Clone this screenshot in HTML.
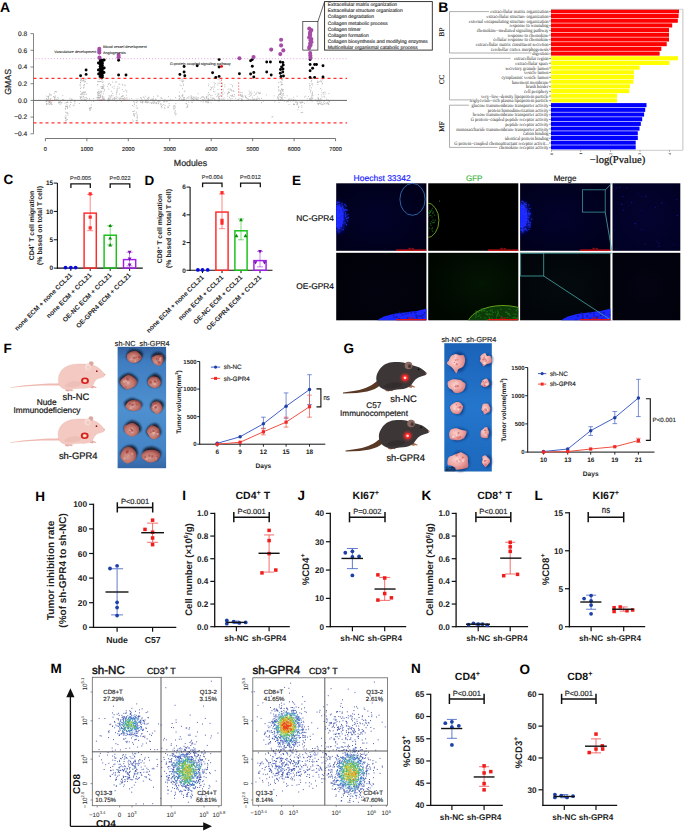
<!DOCTYPE html>
<html><head><meta charset="utf-8"><title>Figure</title>
<style>
html,body{margin:0;padding:0;background:#fff;width:685px;height:833px;overflow:hidden;}
svg{display:block;font-family:"Liberation Sans", sans-serif;}
text{text-rendering:geometricPrecision;}
</style></head><body>
<svg width="685" height="833" viewBox="0 0 685 833" font-family='"Liberation Sans", sans-serif'>
<defs>
<filter id="bl1" x="-50%" y="-50%" width="200%" height="200%"><feGaussianBlur stdDeviation="1.2"/></filter>
<filter id="bl2" x="-50%" y="-50%" width="200%" height="200%"><feGaussianBlur stdDeviation="2.2"/></filter>
<filter id="bl05" x="-50%" y="-50%" width="200%" height="200%"><feGaussianBlur stdDeviation="0.5"/></filter>
<radialGradient id="nav1" cx="0.45" cy="0.5" r="0.7"><stop offset="0" stop-color="#02022a"/><stop offset="1" stop-color="#000018"/></radialGradient>
<radialGradient id="nav3" cx="0.45" cy="0.5" r="0.7"><stop offset="0" stop-color="#02022c"/><stop offset="1" stop-color="#00001a"/></radialGradient>
<radialGradient id="nav4" cx="0.5" cy="0.5" r="0.7"><stop offset="0" stop-color="#030330"/><stop offset="1" stop-color="#010124"/></radialGradient>
<radialGradient id="nav5" cx="0.5" cy="0.6" r="0.7"><stop offset="0" stop-color="#03030f"/><stop offset="1" stop-color="#010108"/></radialGradient>
<radialGradient id="grn6" cx="0.6" cy="0.45" r="0.65"><stop offset="0" stop-color="#031503"/><stop offset="1" stop-color="#000600"/></radialGradient>
<radialGradient id="nav7" cx="0.5" cy="0.5" r="0.7"><stop offset="0" stop-color="#030a0e"/><stop offset="1" stop-color="#010408"/></radialGradient>
<radialGradient id="nav8" cx="0.5" cy="0.5" r="0.7"><stop offset="0" stop-color="#030312"/><stop offset="1" stop-color="#01010b"/></radialGradient>
<clipPath id="ct1"><rect x="336.2" y="183.3" width="90.2" height="67.5"/></clipPath>
<clipPath id="ct2"><rect x="428.2" y="183.3" width="90.1" height="67.5"/></clipPath>
<clipPath id="ct3"><rect x="520.1" y="183.3" width="90.3" height="67.5"/></clipPath>
<clipPath id="ct5"><rect x="336.2" y="252.8" width="90.2" height="67.5"/></clipPath>
<clipPath id="ct6"><rect x="428.2" y="252.8" width="90.1" height="67.5"/></clipPath>
<clipPath id="ct7"><rect x="520.1" y="252.8" width="90.3" height="67.5"/></clipPath>

<linearGradient id="bgF" x1="0" y1="0" x2="0" y2="1"><stop offset="0" stop-color="#30609f"/><stop offset="0.12" stop-color="#3f7dc0"/><stop offset="0.5" stop-color="#4e90d0"/><stop offset="0.85" stop-color="#4584c6"/><stop offset="1" stop-color="#3566a6"/></linearGradient>
<linearGradient id="bgG" x1="0" y1="0" x2="0" y2="1"><stop offset="0" stop-color="#1a62b8"/><stop offset="0.5" stop-color="#2476cc"/><stop offset="1" stop-color="#1c68bc"/></linearGradient>
<radialGradient id="tumF" cx="0.45" cy="0.6" r="0.62"><stop offset="0" stop-color="#d49a90"/><stop offset="0.6" stop-color="#bf7068"/><stop offset="1" stop-color="#8c403c"/></radialGradient>
<radialGradient id="tumG" cx="0.4" cy="0.4" r="0.65"><stop offset="0" stop-color="#fad0cc"/><stop offset="0.6" stop-color="#eca2a0"/><stop offset="1" stop-color="#d07a7c"/></radialGradient>
</defs>
<text x="0" y="11.5" font-size="14" font-weight="bold">A</text>
<line x1="33.5" y1="33.6" x2="33.5" y2="133.8" stroke="#666" stroke-width="0.8"/>
<line x1="30.5" y1="33.6" x2="33.5" y2="33.6" stroke="#666" stroke-width="0.8"/>
<text x="27.2" y="35.95" font-size="6.6" fill="#222" text-anchor="end" stroke="#222" stroke-width="0.15">0.8</text>
<line x1="30.5" y1="50.3" x2="33.5" y2="50.3" stroke="#666" stroke-width="0.8"/>
<text x="27.2" y="52.65" font-size="6.6" fill="#222" text-anchor="end" stroke="#222" stroke-width="0.15">0.6</text>
<line x1="30.5" y1="67" x2="33.5" y2="67" stroke="#666" stroke-width="0.8"/>
<text x="27.2" y="69.35" font-size="6.6" fill="#222" text-anchor="end" stroke="#222" stroke-width="0.15">0.4</text>
<line x1="30.5" y1="83.7" x2="33.5" y2="83.7" stroke="#666" stroke-width="0.8"/>
<text x="27.2" y="86.05" font-size="6.6" fill="#222" text-anchor="end" stroke="#222" stroke-width="0.15">0.2</text>
<line x1="30.5" y1="100.4" x2="33.5" y2="100.4" stroke="#666" stroke-width="0.8"/>
<text x="27.2" y="102.75" font-size="6.6" fill="#222" text-anchor="end" stroke="#222" stroke-width="0.15">0.0</text>
<line x1="30.5" y1="117.1" x2="33.5" y2="117.1" stroke="#666" stroke-width="0.8"/>
<text x="27.2" y="119.45" font-size="6.6" fill="#222" text-anchor="end" stroke="#222" stroke-width="0.15">−0.2</text>
<line x1="30.5" y1="133.8" x2="33.5" y2="133.8" stroke="#666" stroke-width="0.8"/>
<text x="27.2" y="136.15" font-size="6.6" fill="#222" text-anchor="end" stroke="#222" stroke-width="0.15">−0.4</text>
<text x="10.9" y="81.9" font-size="8.8" fill="#222" text-anchor="middle" transform="rotate(-90 10.9 81.9)" stroke="#222" stroke-width="0.2">GMAS</text>
<line x1="45.4" y1="138.5" x2="335.55" y2="138.5" stroke="#555" stroke-width="0.8"/>
<line x1="45.4" y1="138.5" x2="45.4" y2="141.2" stroke="#555" stroke-width="0.8"/>
<text x="45.4" y="151.3" font-size="5.6" fill="#222" text-anchor="middle" stroke="#222" stroke-width="0.13">0</text>
<line x1="86.85" y1="138.5" x2="86.85" y2="141.2" stroke="#555" stroke-width="0.8"/>
<text x="86.85" y="151.3" font-size="5.6" fill="#222" text-anchor="middle" stroke="#222" stroke-width="0.13">1000</text>
<line x1="128.3" y1="138.5" x2="128.3" y2="141.2" stroke="#555" stroke-width="0.8"/>
<text x="128.3" y="151.3" font-size="5.6" fill="#222" text-anchor="middle" stroke="#222" stroke-width="0.13">2000</text>
<line x1="169.75" y1="138.5" x2="169.75" y2="141.2" stroke="#555" stroke-width="0.8"/>
<text x="169.75" y="151.3" font-size="5.6" fill="#222" text-anchor="middle" stroke="#222" stroke-width="0.13">3000</text>
<line x1="211.2" y1="138.5" x2="211.2" y2="141.2" stroke="#555" stroke-width="0.8"/>
<text x="211.2" y="151.3" font-size="5.6" fill="#222" text-anchor="middle" stroke="#222" stroke-width="0.13">4000</text>
<line x1="252.65" y1="138.5" x2="252.65" y2="141.2" stroke="#555" stroke-width="0.8"/>
<text x="252.65" y="151.3" font-size="5.6" fill="#222" text-anchor="middle" stroke="#222" stroke-width="0.13">5000</text>
<line x1="294.1" y1="138.5" x2="294.1" y2="141.2" stroke="#555" stroke-width="0.8"/>
<text x="294.1" y="151.3" font-size="5.6" fill="#222" text-anchor="middle" stroke="#222" stroke-width="0.13">6000</text>
<line x1="335.55" y1="138.5" x2="335.55" y2="141.2" stroke="#555" stroke-width="0.8"/>
<text x="335.55" y="151.3" font-size="5.6" fill="#222" text-anchor="middle" stroke="#222" stroke-width="0.13">7000</text>
<text x="190.5" y="165.6" font-size="8.8" fill="#222" text-anchor="middle" stroke="#222" stroke-width="0.2">Modules</text>
<path d="M47.5 104.0h.9M49.5 104.4h.9M48.8 102.4h.9M45.9 100.9h.9M45.8 101.7h.9M46.0 104.3h.9M48.1 96.6h.9M46.3 103.6h.9M49.3 94.6h.9M49.0 102.1h.9M51.4 104.5h.9M50.7 103.1h.9M46.4 104.2h.9M47.4 96.7h.9M46.6 100.0h.9M49.4 102.3h.9M48.8 104.4h.9M45.9 103.7h.9M49.6 101.8h.9M47.4 100.0h.9M48.3 103.0h.9M50.3 98.5h.9M47.0 100.1h.9M48.7 95.8h.9M49.9 103.1h.9M51.4 104.2h.9M48.1 97.6h.9M46.5 101.1h.9M45.8 98.9h.9M50.1 100.1h.9M50.8 102.9h.9M49.7 99.9h.9M49.0 101.5h.9M50.6 94.7h.9M48.4 98.9h.9M45.9 98.4h.9M49.4 93.8h.9M50.5 103.1h.9M47.9 98.9h.9M45.7 101.4h.9M54.3 100.0h.9M53.9 93.3h.9M54.1 99.2h.9M54.9 91.7h.9M54.0 97.4h.9M55.4 91.5h.9M56.2 91.8h.9M54.6 97.7h.9M54.8 91.5h.9M56.6 99.9h.9M54.3 99.4h.9M54.5 97.0h.9M55.5 99.1h.9M53.8 97.7h.9M54.9 96.0h.9M62.8 100.1h.9M60.6 100.6h.9M61.4 102.9h.9M62.5 99.5h.9M62.4 99.4h.9M60.0 101.8h.9M58.6 100.5h.9M58.4 102.8h.9M59.1 102.6h.9M59.8 102.9h.9M58.1 102.7h.9M58.6 101.9h.9M58.2 98.9h.9M61.1 102.7h.9M59.3 102.0h.9M65.6 120.4h.9M67.1 102.2h.9M65.9 112.8h.9M64.8 120.8h.9M65.6 117.4h.9M67.0 119.6h.9M64.6 103.1h.9M66.1 119.9h.9M66.2 122.4h.9M66.1 102.5h.9M67.1 108.4h.9M65.3 115.3h.9M65.1 106.8h.9M66.1 106.7h.9M65.5 118.3h.9M67.0 102.4h.9M67.1 106.1h.9M67.0 107.5h.9M65.2 112.1h.9M65.6 122.3h.9M64.6 117.1h.9M65.3 108.5h.9M67.4 113.6h.9M67.4 102.3h.9M67.4 115.3h.9M65.2 118.2h.9M65.1 118.7h.9M66.4 104.2h.9M67.1 112.9h.9M66.5 106.3h.9M64.8 109.2h.9M67.3 106.6h.9M66.8 113.0h.9M65.1 106.5h.9M65.5 106.2h.9M74.4 103.8h.9M71.0 99.2h.9M72.9 105.7h.9M69.3 105.8h.9M74.0 100.3h.9M69.4 100.2h.9M74.4 101.6h.9M70.7 102.5h.9M69.3 107.0h.9M74.4 101.7h.9M71.7 99.3h.9M71.2 99.8h.9M73.5 105.3h.9M70.1 104.6h.9M70.0 102.2h.9M81.4 94.8h.9M80.5 81.0h.9M82.0 93.9h.9M83.6 81.2h.9M82.5 80.7h.9M83.1 92.2h.9M83.2 100.4h.9M82.6 98.9h.9M79.6 84.7h.9M80.8 93.6h.9M84.6 91.6h.9M81.8 92.5h.9M83.4 85.1h.9M80.3 91.5h.9M81.3 97.5h.9M85.0 92.8h.9M83.5 85.9h.9M85.9 94.3h.9M83.8 92.8h.9M83.1 87.9h.9M82.7 92.2h.9M82.9 79.9h.9M84.4 82.1h.9M86.1 97.8h.9M83.5 79.9h.9M85.4 99.5h.9M80.4 94.3h.9M80.1 98.1h.9M80.1 88.5h.9M85.0 81.5h.9M80.6 87.2h.9M84.2 99.4h.9M85.7 79.0h.9M81.1 79.5h.9M82.3 93.3h.9M86.5 83.6h.9M80.7 94.5h.9M83.2 96.4h.9M80.9 96.8h.9M84.6 100.4h.9M83.4 94.3h.9M79.7 96.5h.9M83.9 92.7h.9M80.0 78.4h.9M85.1 78.9h.9M80.3 97.7h.9M79.8 85.3h.9M81.4 99.5h.9M82.5 81.0h.9M85.3 97.8h.9M80.6 80.7h.9M83.5 87.6h.9M80.2 100.2h.9M84.4 94.7h.9M80.1 80.0h.9M84.0 84.6h.9M80.1 82.8h.9M80.0 82.6h.9M82.7 96.4h.9M83.4 80.4h.9M89.6 109.1h.9M90.3 108.0h.9M89.1 108.8h.9M88.9 108.4h.9M89.7 107.4h.9M91.0 107.5h.9M90.3 108.6h.9M89.8 110.2h.9M89.5 110.3h.9M90.9 104.9h.9M98.4 92.8h.9M103.6 99.7h.9M102.8 93.9h.9M100.5 81.6h.9M99.8 92.0h.9M101.9 76.1h.9M99.4 81.7h.9M102.0 88.3h.9M99.9 95.8h.9M97.4 99.4h.9M97.5 84.9h.9M98.8 99.0h.9M97.6 81.4h.9M103.1 87.2h.9M99.0 97.8h.9M99.1 93.2h.9M98.2 93.5h.9M98.9 76.9h.9M103.9 90.9h.9M98.8 76.7h.9M99.2 95.6h.9M97.1 95.0h.9M100.4 92.1h.9M98.5 92.0h.9M97.1 97.4h.9M97.7 94.6h.9M97.3 100.3h.9M99.2 98.0h.9M101.1 91.4h.9M102.3 87.6h.9M102.1 80.0h.9M99.8 96.2h.9M103.9 99.2h.9M102.1 88.0h.9M97.4 81.6h.9M103.3 88.5h.9M102.2 82.4h.9M98.0 91.5h.9M100.6 81.6h.9M102.7 81.9h.9M101.1 79.5h.9M101.8 86.5h.9M98.7 100.3h.9M98.0 95.5h.9M97.8 81.6h.9M101.0 88.5h.9M101.4 86.9h.9M100.5 100.4h.9M102.6 84.6h.9M100.6 91.2h.9M101.7 100.1h.9M102.2 97.6h.9M97.6 97.4h.9M102.2 98.4h.9M102.2 76.3h.9M100.5 95.0h.9M100.4 86.8h.9M102.4 88.8h.9M101.5 100.0h.9M98.1 97.6h.9M102.3 96.7h.9M101.0 100.4h.9M97.5 97.3h.9M101.8 86.5h.9M101.8 96.9h.9M100.7 93.1h.9M100.3 99.6h.9M103.3 98.5h.9M103.9 77.9h.9M97.2 93.2h.9M102.8 76.6h.9M100.2 97.3h.9M98.5 77.5h.9M98.5 89.9h.9M98.0 91.5h.9M103.7 99.4h.9M102.8 91.9h.9M103.3 86.1h.9M98.7 79.3h.9M100.5 100.3h.9M97.1 92.4h.9M100.2 96.7h.9M98.0 95.9h.9M99.3 81.4h.9M97.1 84.6h.9M102.9 99.6h.9M103.5 85.8h.9M103.4 96.9h.9M99.7 94.8h.9M104.0 89.7h.9M108.7 95.7h.9M108.2 100.3h.9M107.2 86.6h.9M108.3 83.9h.9M108.0 98.2h.9M109.6 99.1h.9M108.8 83.3h.9M111.9 87.2h.9M110.3 84.5h.9M112.2 93.4h.9M110.9 100.3h.9M110.9 95.3h.9M111.1 91.3h.9M108.3 100.3h.9M112.1 99.7h.9M109.4 97.1h.9M108.3 89.1h.9M112.4 98.3h.9M110.5 97.7h.9M109.9 96.3h.9M107.6 99.4h.9M107.8 84.7h.9M109.5 98.8h.9M112.0 82.1h.9M109.2 99.6h.9M107.7 100.0h.9M108.6 100.0h.9M108.0 98.3h.9M110.0 85.2h.9M111.0 95.9h.9M116.0 93.0h.9M115.8 96.7h.9M113.9 97.7h.9M119.4 99.6h.9M116.6 90.4h.9M118.7 98.6h.9M115.2 98.2h.9M115.9 94.7h.9M119.3 84.3h.9M118.8 100.4h.9M113.7 88.3h.9M118.9 94.1h.9M117.1 100.4h.9M115.9 81.9h.9M118.5 84.1h.9M119.4 98.2h.9M114.2 99.3h.9M116.7 89.1h.9M119.2 88.0h.9M117.4 86.8h.9M116.3 92.3h.9M113.8 86.3h.9M114.9 82.1h.9M117.4 97.3h.9M114.3 98.1h.9M117.4 88.6h.9M114.2 100.1h.9M116.7 91.6h.9M115.9 98.5h.9M117.2 100.4h.9M122.4 95.6h.9M126.3 92.1h.9M125.9 95.3h.9M122.0 98.6h.9M126.3 90.9h.9M122.4 100.4h.9M123.5 91.5h.9M123.1 98.5h.9M124.6 85.7h.9M121.9 100.3h.9M122.6 96.2h.9M124.6 99.1h.9M125.3 90.1h.9M123.6 99.1h.9M126.4 97.8h.9M125.5 98.8h.9M121.9 89.6h.9M122.3 85.0h.9M123.5 99.3h.9M121.9 96.3h.9M124.5 85.0h.9M121.4 96.6h.9M121.8 84.4h.9M121.4 100.3h.9M120.9 96.6h.9M136.5 102.8h.9M135.7 100.5h.9M136.7 114.4h.9M133.0 101.7h.9M135.8 120.6h.9M135.4 113.4h.9M133.9 114.4h.9M132.9 121.2h.9M133.4 113.9h.9M136.8 118.7h.9M136.9 116.9h.9M133.8 104.1h.9M136.2 112.2h.9M132.3 111.4h.9M133.9 102.1h.9M133.0 113.7h.9M136.5 120.6h.9M134.1 104.3h.9M135.9 120.4h.9M132.2 120.0h.9M136.7 115.9h.9M135.8 102.5h.9M133.7 115.6h.9M136.8 108.4h.9M133.4 106.3h.9M133.6 115.5h.9M132.1 105.5h.9M136.6 108.0h.9M136.8 120.8h.9M133.2 111.4h.9M136.8 101.4h.9M134.0 116.0h.9M134.2 111.0h.9M136.7 117.5h.9M136.1 105.9h.9M147.8 99.0h.9M145.6 101.9h.9M142.7 101.8h.9M147.4 102.8h.9M141.5 99.2h.9M142.0 102.8h.9M139.9 100.6h.9M142.8 97.2h.9M148.4 97.2h.9M142.2 102.8h.9M140.5 101.0h.9M146.6 101.3h.9M141.9 101.5h.9M145.8 99.8h.9M147.0 98.4h.9M146.2 102.7h.9M148.0 102.1h.9M145.2 101.7h.9M146.9 102.5h.9M142.0 102.3h.9M141.1 98.1h.9M145.3 101.9h.9M143.5 97.1h.9M144.6 102.3h.9M147.6 99.9h.9M149.5 102.8h.9M144.3 98.7h.9M148.0 97.8h.9M140.0 102.1h.9M140.7 102.5h.9M158.3 100.6h.9M158.0 102.2h.9M157.5 101.7h.9M152.6 98.7h.9M158.1 103.5h.9M155.3 100.2h.9M152.3 102.2h.9M151.7 103.1h.9M152.6 100.4h.9M155.8 103.2h.9M150.6 102.5h.9M156.0 103.2h.9M153.0 103.2h.9M156.9 100.9h.9M151.1 103.5h.9M153.7 100.9h.9M155.7 103.6h.9M151.9 99.5h.9M153.8 102.7h.9M153.0 96.8h.9M153.0 100.7h.9M153.4 101.9h.9M157.5 96.3h.9M153.5 103.2h.9M156.4 103.2h.9M159.6 101.2h.9M163.8 101.9h.9M163.6 101.4h.9M164.2 107.4h.9M159.7 104.1h.9M166.0 101.2h.9M160.4 103.6h.9M163.3 104.5h.9M161.0 106.4h.9M164.8 101.0h.9M160.6 104.7h.9M167.6 100.7h.9M161.5 107.7h.9M169.0 100.6h.9M164.4 108.3h.9M168.8 105.5h.9M168.6 103.6h.9M167.8 107.4h.9M167.4 106.9h.9M163.6 101.7h.9M167.8 107.2h.9M161.7 105.4h.9M164.7 105.5h.9M160.8 106.7h.9M166.8 101.3h.9M173.2 107.0h.9M175.3 114.9h.9M175.6 113.7h.9M174.8 107.2h.9M174.9 110.8h.9M174.3 106.7h.9M174.3 105.5h.9M174.4 108.8h.9M173.1 106.1h.9M174.5 111.9h.9M175.3 103.7h.9M174.4 112.7h.9M174.5 113.8h.9M173.4 109.0h.9M173.3 108.8h.9M181.6 100.3h.9M182.4 100.0h.9M183.0 85.3h.9M181.6 100.2h.9M181.6 95.6h.9M184.3 99.5h.9M183.7 78.0h.9M182.9 84.1h.9M179.7 78.5h.9M181.5 79.4h.9M184.0 99.1h.9M183.3 80.3h.9M178.9 96.2h.9M183.1 99.2h.9M183.9 97.5h.9M183.4 99.4h.9M181.6 80.7h.9M179.8 97.7h.9M181.6 96.8h.9M178.8 98.9h.9M179.5 80.1h.9M182.6 81.5h.9M179.6 85.1h.9M179.2 92.2h.9M182.4 96.0h.9M183.8 91.6h.9M182.0 81.9h.9M179.2 78.1h.9M182.3 95.3h.9M183.3 97.7h.9M184.5 91.0h.9M180.7 85.7h.9M181.2 99.0h.9M183.0 100.2h.9M183.5 97.9h.9M182.4 78.4h.9M182.1 88.7h.9M180.4 100.4h.9M178.8 99.3h.9M182.2 94.5h.9M181.6 81.5h.9M179.3 98.3h.9M182.5 100.3h.9M178.6 96.1h.9M179.2 96.1h.9M186.2 103.9h.9M187.3 107.0h.9M187.4 104.8h.9M186.0 100.9h.9M186.3 107.5h.9M185.8 103.4h.9M188.2 102.2h.9M186.8 106.5h.9M185.6 103.4h.9M187.2 105.8h.9M195.7 99.3h.9M198.0 97.9h.9M192.5 96.9h.9M190.9 98.9h.9M193.8 100.0h.9M191.0 97.6h.9M190.6 98.8h.9M198.1 100.2h.9M192.1 98.5h.9M194.6 98.3h.9M197.1 100.1h.9M193.0 99.8h.9M190.9 96.9h.9M196.8 98.0h.9M190.6 97.2h.9M196.5 99.2h.9M196.5 99.2h.9M192.4 100.3h.9M192.4 100.4h.9M193.2 97.8h.9M206.1 97.8h.9M206.2 102.1h.9M205.0 101.1h.9M206.9 100.5h.9M202.7 99.6h.9M208.3 102.3h.9M207.6 102.9h.9M202.6 102.2h.9M206.5 96.8h.9M206.5 101.8h.9M207.6 101.8h.9M202.5 97.2h.9M205.6 99.2h.9M205.9 96.4h.9M204.3 97.9h.9M206.1 97.7h.9M204.0 98.9h.9M205.1 101.9h.9M202.2 99.8h.9M201.2 97.2h.9M208.7 100.3h.9M208.4 84.1h.9M210.3 99.6h.9M207.8 100.3h.9M213.1 91.5h.9M213.1 89.1h.9M208.1 92.5h.9M210.5 87.1h.9M214.1 85.1h.9M208.1 85.8h.9M214.9 83.6h.9M208.4 98.9h.9M208.4 100.3h.9M214.3 87.2h.9M212.6 86.9h.9M212.6 97.9h.9M208.3 100.0h.9M213.6 98.9h.9M210.1 95.7h.9M207.7 98.3h.9M209.8 89.6h.9M210.5 97.4h.9M215.3 94.3h.9M214.4 91.9h.9M207.8 95.9h.9M211.0 88.2h.9M210.3 89.9h.9M211.9 98.8h.9M214.4 100.0h.9M214.1 99.3h.9M207.6 99.0h.9M213.6 82.7h.9M207.6 94.5h.9M211.5 87.6h.9M209.0 94.4h.9M219.3 83.6h.9M218.6 79.8h.9M218.8 98.5h.9M222.1 93.0h.9M217.4 89.5h.9M217.2 85.0h.9M222.1 85.0h.9M221.6 96.1h.9M219.8 95.3h.9M223.7 100.0h.9M223.7 100.3h.9M218.2 97.7h.9M223.8 92.9h.9M219.6 81.9h.9M218.4 93.9h.9M220.8 86.0h.9M222.6 89.2h.9M219.3 96.6h.9M217.8 83.2h.9M221.8 86.4h.9M217.9 94.4h.9M222.7 91.0h.9M217.6 93.8h.9M223.6 98.1h.9M218.1 97.1h.9M222.2 83.2h.9M217.8 99.2h.9M218.5 96.6h.9M220.7 99.2h.9M219.2 98.8h.9M224.4 86.8h.9M217.4 79.2h.9M217.4 95.5h.9M224.4 84.8h.9M222.4 94.5h.9M228.1 92.3h.9M227.4 99.1h.9M229.7 100.3h.9M229.7 88.9h.9M232.1 94.9h.9M231.6 95.5h.9M227.7 93.0h.9M229.8 90.1h.9M233.8 96.1h.9M231.1 89.9h.9M229.9 98.8h.9M232.3 86.8h.9M232.7 91.0h.9M233.4 91.4h.9M231.7 95.7h.9M229.1 92.5h.9M227.3 96.2h.9M232.8 90.7h.9M231.6 98.6h.9M229.9 95.7h.9M231.5 96.4h.9M232.0 85.5h.9M228.0 91.9h.9M232.8 96.7h.9M230.5 84.4h.9M226.9 94.1h.9M227.8 89.1h.9M234.1 94.5h.9M227.4 93.5h.9M230.9 90.6h.9M242.6 96.3h.9M245.2 97.5h.9M241.8 92.7h.9M240.2 95.8h.9M241.7 95.0h.9M239.5 92.3h.9M241.4 100.3h.9M240.7 98.5h.9M238.7 98.3h.9M241.9 95.7h.9M241.4 99.4h.9M240.3 95.2h.9M246.1 97.4h.9M240.3 94.5h.9M241.7 99.7h.9M239.6 94.8h.9M245.0 96.4h.9M242.3 97.1h.9M240.4 92.5h.9M241.4 96.3h.9M258.4 93.2h.9M254.2 99.0h.9M255.1 100.0h.9M258.6 98.5h.9M258.8 99.2h.9M253.1 99.3h.9M253.7 99.7h.9M248.6 94.5h.9M251.9 99.3h.9M252.2 97.3h.9M253.7 95.5h.9M256.5 98.4h.9M259.7 92.6h.9M249.2 93.0h.9M259.4 93.6h.9M250.2 92.9h.9M256.1 100.4h.9M248.7 91.1h.9M256.4 99.3h.9M249.8 100.0h.9M251.4 93.7h.9M252.7 99.9h.9M259.4 93.5h.9M250.6 92.1h.9M255.9 93.6h.9M256.6 92.0h.9M258.0 92.8h.9M250.9 94.8h.9M254.9 94.2h.9M253.8 92.2h.9M272.3 116.7h.9M271.6 116.9h.9M280.5 100.2h.9M280.4 99.3h.9M280.5 92.7h.9M280.7 81.9h.9M278.1 82.7h.9M280.4 91.1h.9M281.4 82.7h.9M279.9 94.6h.9M282.9 100.0h.9M281.2 89.1h.9M278.2 89.8h.9M281.5 79.5h.9M279.7 77.7h.9M280.6 93.1h.9M282.5 100.3h.9M281.6 89.4h.9M279.7 82.0h.9M279.9 93.3h.9M280.7 85.0h.9M279.1 94.2h.9M280.2 91.3h.9M282.2 97.1h.9M282.2 94.9h.9M280.6 97.5h.9M280.6 77.9h.9M281.3 84.3h.9M279.7 96.7h.9M279.5 90.4h.9M281.2 84.6h.9M278.3 86.5h.9M282.5 91.5h.9M278.3 97.0h.9M278.1 98.8h.9M282.7 89.8h.9M281.3 84.4h.9M282.6 89.7h.9M281.1 89.3h.9M281.5 90.2h.9M281.5 98.4h.9M281.4 93.7h.9M281.9 99.8h.9M279.0 100.3h.9M281.9 80.2h.9M281.3 95.7h.9M282.2 84.5h.9M280.9 97.7h.9M279.6 94.5h.9M279.6 94.3h.9M281.3 79.4h.9M278.3 91.0h.9M278.2 99.6h.9M282.1 90.7h.9M282.6 94.0h.9M278.1 95.3h.9M281.0 79.3h.9M283.0 93.3h.9M280.1 99.8h.9M281.3 98.4h.9M278.8 100.4h.9M278.1 87.7h.9M288.5 99.0h.9M288.3 99.9h.9M288.6 104.6h.9M293.3 104.0h.9M293.4 104.2h.9M288.0 100.7h.9M293.3 100.0h.9M293.4 104.5h.9M292.6 101.2h.9M291.2 99.3h.9M289.6 99.1h.9M293.3 104.6h.9M287.7 101.6h.9M294.1 104.5h.9M290.0 101.0h.9M295.5 101.8h.9M297.5 109.8h.9M296.8 104.7h.9M297.2 103.6h.9M295.4 102.4h.9M296.7 104.0h.9M298.3 106.2h.9M296.9 102.5h.9M300.2 102.6h.9M298.0 107.5h.9M294.9 100.7h.9M298.8 102.1h.9M296.5 104.3h.9M300.4 102.1h.9M298.2 107.3h.9M301.4 102.3h.9M301.3 105.7h.9M301.8 102.1h.9M302.2 112.4h.9M300.6 112.7h.9M301.4 107.3h.9M302.2 102.3h.9M300.6 103.2h.9M302.2 102.6h.9M301.7 112.5h.9M312.0 83.8h.9M311.3 80.2h.9M309.9 99.9h.9M310.8 84.1h.9M309.4 85.6h.9M312.3 98.1h.9M311.0 87.9h.9M310.4 98.5h.9M309.6 85.6h.9M311.7 93.7h.9M308.9 83.8h.9M311.6 98.1h.9M310.9 80.8h.9M312.1 92.1h.9M310.5 90.4h.9M309.3 98.7h.9M309.3 87.2h.9M310.0 91.0h.9M310.2 92.3h.9M309.1 100.2h.9M312.5 95.6h.9M309.0 89.2h.9M311.7 99.2h.9M310.9 96.1h.9M310.6 100.4h.9M308.7 77.4h.9M312.0 93.0h.9M310.8 97.7h.9M311.7 94.4h.9M312.3 85.1h.9M311.8 78.4h.9M309.6 100.3h.9M309.4 98.9h.9M308.9 100.2h.9M310.8 81.7h.9M319.3 81.6h.9M322.0 104.3h.9M320.1 98.9h.9M317.3 81.1h.9M318.1 94.5h.9M320.4 81.2h.9M320.6 99.0h.9M319.2 103.2h.9M322.3 79.9h.9M317.9 104.4h.9M318.1 99.9h.9M322.0 83.2h.9M321.6 104.4h.9M321.3 90.1h.9M320.4 80.1h.9M316.9 103.4h.9M321.1 81.9h.9M320.6 100.9h.9M320.1 88.5h.9M317.2 100.4h.9M318.1 103.7h.9M319.4 103.1h.9M318.0 103.5h.9M320.6 104.6h.9M320.9 102.7h.9M316.8 82.4h.9M317.9 82.1h.9M321.8 83.8h.9M317.4 97.7h.9M317.1 82.3h.9M321.6 92.7h.9M319.3 100.1h.9M321.5 96.9h.9M320.3 103.5h.9M317.9 104.3h.9M320.8 94.9h.9M317.4 84.5h.9M318.1 98.5h.9M317.5 101.5h.9M321.6 100.2h.9M323.6 100.6h.9M324.5 93.9h.9M323.2 92.5h.9M322.9 94.1h.9M326.6 103.5h.9M325.4 102.9h.9M324.1 103.6h.9M324.7 92.2h.9M328.5 93.5h.9M323.1 102.9h.9M327.9 104.4h.9M326.9 102.8h.9M328.4 104.6h.9M327.4 102.3h.9M323.4 104.6h.9M327.5 100.1h.9M323.7 101.3h.9M328.0 103.5h.9M326.0 104.0h.9M323.6 96.3h.9M247.4 98.9h.9M69.5 98.3h.9M218.0 100.8h.9M103.3 99.1h.9M219.1 100.1h.9M210.7 102.8h.9M102.2 96.0h.9M160.9 97.8h.9M250.2 95.6h.9M140.1 97.8h.9M284.5 97.5h.9M49.0 101.0h.9M304.0 103.3h.9M120.4 98.5h.9M97.6 98.2h.9M91.1 100.9h.9M150.3 99.3h.9M192.7 99.3h.9M171.6 100.2h.9M248.2 99.3h.9M277.3 97.9h.9M247.2 100.5h.9M153.2 99.1h.9M293.3 99.9h.9M316.5 101.7h.9M195.7 99.1h.9M197.7 93.7h.9M108.3 98.4h.9M96.5 97.9h.9M277.4 98.2h.9M53.1 96.5h.9M100.1 97.3h.9M49.6 101.4h.9M193.6 100.7h.9M244.8 95.8h.9M248.9 96.6h.9M57.4 97.4h.9M187.3 97.4h.9M124.2 97.6h.9M83.6 97.7h.9M213.2 98.4h.9M207.8 100.1h.9M257.3 97.1h.9M311.8 95.8h.9M155.3 102.7h.9M194.4 97.2h.9M157.3 95.8h.9M141.0 100.5h.9M113.1 100.3h.9M324.2 97.2h.9M273.8 95.9h.9M286.1 101.1h.9M59.8 104.4h.9M310.8 99.7h.9M115.6 101.8h.9M148.4 97.8h.9M195.8 97.1h.9M188.4 98.2h.9M50.5 95.6h.9M265.9 94.9h.9M311.6 101.7h.9M296.6 102.0h.9M296.7 96.2h.9M120.3 98.5h.9M237.9 99.5h.9M308.0 96.6h.9M221.6 99.2h.9M168.2 96.6h.9M315.5 99.6h.9M229.1 97.4h.9M78.9 103.5h.9M191.0 102.1h.9M121.0 101.7h.9M86.8 98.6h.9M79.9 98.0h.9M160.4 97.9h.9M126.7 99.1h.9M200.2 98.3h.9M283.9 101.2h.9M229.9 100.9h.9M101.9 99.7h.9M200.7 101.4h.9M219.2 100.9h.9M113.6 98.8h.9M107.7 101.2h.9M211.5 99.3h.9M47.9 101.6h.9M112.5 95.8h.9M203.2 100.9h.9M326.0 99.1h.9M128.8 99.0h.9M63.6 100.4h.9M292.9 99.8h.9M155.1 98.9h.9M169.9 99.2h.9M108.7 100.1h.9M318.0 99.2h.9M140.6 100.4h.9M145.0 100.5h.9M286.8 101.7h.9M278.6 102.5h.9M256.4 99.5h.9M261.1 102.8h.9M246.5 98.6h.9M305.2 96.2h.9M45.8 96.1h.9M262.8 101.3h.9M318.9 100.4h.9M207.6 102.3h.9M293.3 97.3h.9M217.6 100.8h.9M175.1 97.6h.9M250.6 99.7h.9M202.8 97.1h.9M154.1 100.8h.9M286.7 95.8h.9M186.9 100.4h.9M131.2 98.7h.9M85.9 101.6h.9M69.6 100.4h.9M306.8 100.9h.9M283.4 95.6h.9M317.8 98.5h.9M304.1 97.0h.9M47.6 96.6h.9M186.3 98.4h.9M306.8 98.8h.9M329.1 101.7h.9M192.0 102.3h.9M155.6 99.5h.9M146.5 100.8h.9M314.7 100.2h.9M237.3 100.1h.9M151.3 99.3h.9M158.8 101.7h.9M295.3 100.2h.9M319.4 101.4h.9M222.6 99.0h.9M328.4 100.6h.9M277.1 97.0h.9M93.2 101.5h.9M280.0 93.9h.9M190.6 95.7h.9M241.2 96.3h.9M278.4 94.8h.9M164.5 99.4h.9M89.1 99.8h.9M188.4 96.7h.9M98.2 97.9h.9M216.4 96.5h.9M145.2 96.2h.9M56.6 99.3h.9M161.8 98.7h.9M241.4 100.9h.9M45.7 100.5h.9M211.6 95.4h.9M235.0 98.3h.9M202.2 96.8h.9M120.4 100.7h.9M328.7 101.2h.9M208.3 100.0h.9M89.2 98.6h.9M261.0 98.4h.9M93.2 98.6h.9M193.5 97.9h.9M274.4 101.7h.9M62.3 95.6h.9M136.6 98.9h.9M248.5 99.9h.9M120.5 98.1h.9" stroke="#b4b4b4" stroke-width="0.9" fill="none"/>
<line x1="33.5" y1="100.4" x2="347" y2="100.4" stroke="#555" stroke-width="0.9"/>
<line x1="33.5" y1="78.3" x2="347" y2="78.3" stroke="#ff3030" stroke-width="1.2" stroke-dasharray="3 3"/>
<line x1="33.5" y1="122.9" x2="347" y2="122.9" stroke="#ff3030" stroke-width="1.2" stroke-dasharray="3 3"/>
<line x1="35.5" y1="58.7" x2="347" y2="58.7" stroke="#d490d4" stroke-width="0.9" stroke-dasharray="0.9 2.17"/>
<circle cx="221.5" cy="80" r="0.6" fill="#ff2020"/>
<circle cx="221.5" cy="83.2" r="0.6" fill="#ff2020"/>
<circle cx="221.5" cy="86.4" r="0.6" fill="#ff2020"/>
<circle cx="221.5" cy="89.6" r="0.6" fill="#ff2020"/>
<circle cx="221.5" cy="92.8" r="0.6" fill="#ff2020"/>
<circle cx="221.5" cy="96" r="0.6" fill="#ff2020"/>
<circle cx="238.7" cy="83" r="0.6" fill="#ff2020"/>
<circle cx="238.7" cy="86" r="0.6" fill="#ff2020"/>
<circle cx="238.7" cy="89" r="0.6" fill="#ff2020"/>
<circle cx="238.7" cy="92" r="0.6" fill="#ff2020"/>
<circle cx="238.7" cy="95" r="0.6" fill="#ff2020"/>
<circle cx="221.5" cy="66.5" r="0.6" fill="#ff2020"/>
<circle cx="101" cy="100.5" r="0.6" fill="#ff2020"/>
<circle cx="125" cy="100.5" r="0.6" fill="#ff2020"/>
<circle cx="52" cy="100.7" r="0.6" fill="#ff2020"/>
<circle cx="221.6" cy="66.4" r="1.4" fill="#ff1010"/>
<circle cx="80.6" cy="75.7" r="1.45" fill="#000"/>
<circle cx="86.1" cy="70" r="1.45" fill="#000"/>
<circle cx="86.1" cy="74.4" r="1.45" fill="#000"/>
<circle cx="118.6" cy="60.3" r="1.45" fill="#000"/>
<circle cx="118.6" cy="75" r="1.45" fill="#000"/>
<circle cx="126" cy="75" r="1.45" fill="#000"/>
<circle cx="179.9" cy="74.4" r="1.45" fill="#000"/>
<circle cx="184.1" cy="66.5" r="1.45" fill="#000"/>
<circle cx="184.1" cy="72" r="1.45" fill="#000"/>
<circle cx="184.8" cy="75.7" r="1.45" fill="#000"/>
<circle cx="197.2" cy="65.8" r="1.45" fill="#000"/>
<circle cx="212.6" cy="72.7" r="1.45" fill="#000"/>
<circle cx="219.1" cy="59.6" r="1.45" fill="#000"/>
<circle cx="219.1" cy="67" r="1.45" fill="#000"/>
<circle cx="219.1" cy="76.4" r="1.45" fill="#000"/>
<circle cx="215.8" cy="77.4" r="1.45" fill="#000"/>
<circle cx="239.4" cy="73.7" r="1.45" fill="#000"/>
<circle cx="250.6" cy="60.8" r="1.45" fill="#000"/>
<circle cx="252.3" cy="59.6" r="1.45" fill="#000"/>
<circle cx="252.3" cy="66.3" r="1.45" fill="#000"/>
<circle cx="250.6" cy="74" r="1.45" fill="#000"/>
<circle cx="253.8" cy="72.5" r="1.45" fill="#000"/>
<circle cx="253.8" cy="77" r="1.45" fill="#000"/>
<circle cx="266.7" cy="62" r="1.45" fill="#000"/>
<circle cx="270.4" cy="62" r="1.45" fill="#000"/>
<circle cx="266.7" cy="72" r="1.45" fill="#000"/>
<circle cx="271.2" cy="75" r="1.45" fill="#000"/>
<circle cx="280.3" cy="62" r="1.45" fill="#000"/>
<circle cx="281.6" cy="67" r="1.45" fill="#000"/>
<circle cx="280.3" cy="73.2" r="1.45" fill="#000"/>
<circle cx="282.8" cy="72" r="1.45" fill="#000"/>
<circle cx="282.8" cy="62.5" r="1.45" fill="#000"/>
<circle cx="283.3" cy="65" r="1.45" fill="#000"/>
<circle cx="280.5" cy="69.5" r="1.45" fill="#000"/>
<circle cx="283" cy="69" r="1.45" fill="#000"/>
<circle cx="281" cy="76.5" r="1.45" fill="#000"/>
<circle cx="283.5" cy="76" r="1.45" fill="#000"/>
<circle cx="310.1" cy="59.6" r="1.45" fill="#000"/>
<circle cx="310.1" cy="64.5" r="1.45" fill="#000"/>
<circle cx="314.6" cy="64.5" r="1.45" fill="#000"/>
<circle cx="312.6" cy="68.2" r="1.45" fill="#000"/>
<circle cx="310.1" cy="70.7" r="1.45" fill="#000"/>
<circle cx="310.1" cy="77.4" r="1.45" fill="#000"/>
<circle cx="314.6" cy="77.4" r="1.45" fill="#000"/>
<circle cx="316.5" cy="64.5" r="1.45" fill="#000"/>
<circle cx="323" cy="65.8" r="1.45" fill="#000"/>
<circle cx="323" cy="76.9" r="1.45" fill="#000"/>
<circle cx="100.2" cy="59.5" r="1.45" fill="#000"/>
<circle cx="102.3" cy="60.2" r="1.45" fill="#000"/>
<circle cx="100.2" cy="61" r="1.45" fill="#000"/>
<circle cx="102.3" cy="61.7" r="1.45" fill="#000"/>
<circle cx="100.2" cy="62.5" r="1.45" fill="#000"/>
<circle cx="102.3" cy="63.2" r="1.45" fill="#000"/>
<circle cx="100.2" cy="64.5" r="1.45" fill="#000"/>
<circle cx="102.3" cy="65.2" r="1.45" fill="#000"/>
<circle cx="100.2" cy="66.5" r="1.45" fill="#000"/>
<circle cx="102.3" cy="67.2" r="1.45" fill="#000"/>
<circle cx="100.2" cy="68.5" r="1.45" fill="#000"/>
<circle cx="102.3" cy="69.2" r="1.45" fill="#000"/>
<circle cx="100.2" cy="70.5" r="1.45" fill="#000"/>
<circle cx="102.3" cy="71.2" r="1.45" fill="#000"/>
<circle cx="100.2" cy="72.5" r="1.45" fill="#000"/>
<circle cx="102.3" cy="73.2" r="1.45" fill="#000"/>
<circle cx="100.2" cy="74.5" r="1.45" fill="#000"/>
<circle cx="102.3" cy="75.2" r="1.45" fill="#000"/>
<circle cx="100.2" cy="76.5" r="1.45" fill="#000"/>
<circle cx="102.3" cy="77.2" r="1.45" fill="#000"/>
<circle cx="98.4" cy="63" r="1.45" fill="#000"/>
<circle cx="98.4" cy="70" r="1.45" fill="#000"/>
<circle cx="98.6" cy="74" r="1.45" fill="#000"/>
<circle cx="104.2" cy="60" r="1.45" fill="#000"/>
<circle cx="104.2" cy="68" r="1.45" fill="#000"/>
<circle cx="104" cy="72.5" r="1.45" fill="#000"/>
<circle cx="99.3" cy="48.9" r="2.05" fill="#a64ca6"/>
<circle cx="99.3" cy="50.8" r="2.05" fill="#a64ca6"/>
<circle cx="99.3" cy="52.6" r="2.05" fill="#a64ca6"/>
<circle cx="99.5" cy="57.6" r="2.05" fill="#a64ca6"/>
<circle cx="118.6" cy="55" r="2.05" fill="#a64ca6"/>
<circle cx="118.6" cy="57.2" r="2.05" fill="#a64ca6"/>
<circle cx="239.4" cy="58.3" r="2.05" fill="#a64ca6"/>
<circle cx="253.5" cy="57.1" r="2.05" fill="#a64ca6"/>
<circle cx="271.2" cy="49.6" r="2.05" fill="#a64ca6"/>
<circle cx="281.1" cy="39.7" r="2.05" fill="#a64ca6"/>
<circle cx="281.1" cy="45.4" r="2.05" fill="#a64ca6"/>
<circle cx="283.3" cy="50.4" r="2.05" fill="#a64ca6"/>
<circle cx="280.3" cy="54.1" r="2.05" fill="#a64ca6"/>
<circle cx="309.26" cy="28.5" r="2.05" fill="#a64ca6"/>
<circle cx="311.35" cy="30" r="2.05" fill="#a64ca6"/>
<circle cx="310.51" cy="31.5" r="2.05" fill="#a64ca6"/>
<circle cx="309.91" cy="33" r="2.05" fill="#a64ca6"/>
<circle cx="310.17" cy="34.5" r="2.05" fill="#a64ca6"/>
<circle cx="310" cy="36" r="2.05" fill="#a64ca6"/>
<circle cx="309.14" cy="37.5" r="2.05" fill="#a64ca6"/>
<circle cx="311.32" cy="39" r="2.05" fill="#a64ca6"/>
<circle cx="310.51" cy="40.5" r="2.05" fill="#a64ca6"/>
<circle cx="311.49" cy="42" r="2.05" fill="#a64ca6"/>
<circle cx="310.14" cy="43.5" r="2.05" fill="#a64ca6"/>
<circle cx="310.61" cy="45" r="2.05" fill="#a64ca6"/>
<circle cx="309.65" cy="46.5" r="2.05" fill="#a64ca6"/>
<circle cx="309.11" cy="48" r="2.05" fill="#a64ca6"/>
<circle cx="310.2" cy="53" r="2.05" fill="#a64ca6"/>
<circle cx="310.3" cy="55.5" r="2.05" fill="#a64ca6"/>
<circle cx="310.5" cy="57.8" r="2.05" fill="#a64ca6"/>
<text x="96.4" y="52.7" font-size="3.75" fill="#222" text-anchor="end" stroke="#222" stroke-width="0.08">Vasculature development</text>
<text x="103" y="48" font-size="3.75" fill="#222" stroke="#222" stroke-width="0.08">Blood vessel development</text>
<text x="103" y="53.7" font-size="3.75" fill="#222" stroke="#222" stroke-width="0.08">Angiogenesis</text>
<text x="170" y="64.6" font-size="3.75" fill="#222" stroke="#222" stroke-width="0.08">G-protein coupled signaling pathway</text>
<rect x="302.8" y="21.5" width="15.1" height="28.6" fill="none" stroke="#222" stroke-width="0.7"/>
<line x1="317.9" y1="21.5" x2="324.6" y2="1.6" stroke="#222" stroke-width="0.7"/>
<rect x="324.6" y="1.6" width="107.7" height="48.5" fill="white" stroke="#222" stroke-width="0.9"/>
<text x="327.7" y="6.3" font-size="4.88" fill="#222" stroke="#222" stroke-width="0.11">Extracellular matrix organization</text>
<text x="327.7" y="12.37" font-size="4.88" fill="#222" stroke="#222" stroke-width="0.11">Extracellular structure organization</text>
<text x="327.7" y="18.44" font-size="4.88" fill="#222" stroke="#222" stroke-width="0.11">Collagen degradation</text>
<text x="327.7" y="24.51" font-size="4.88" fill="#222" stroke="#222" stroke-width="0.11">Collagen metabolic process</text>
<text x="327.7" y="30.58" font-size="4.88" fill="#222" stroke="#222" stroke-width="0.11">Collagen trimer</text>
<text x="327.7" y="36.65" font-size="4.88" fill="#222" stroke="#222" stroke-width="0.11">Collagen formation</text>
<text x="327.7" y="42.72" font-size="4.88" fill="#222" stroke="#222" stroke-width="0.11">Collagen biosynthesis and modifying enzymes</text>
<text x="327.7" y="48.79" font-size="4.88" fill="#222" stroke="#222" stroke-width="0.11">Multicellular organismal catabolic process</text>
<text x="438.3" y="11.6" font-size="14" font-weight="bold">B</text>
<rect x="551" y="9.3" width="128" height="4.09" fill="#ff0000"/>
<text x="548.6" y="13.25" font-size="5" font-family='"Liberation Serif", serif' fill="#222" text-anchor="end" stroke-width="0" textLength="58.24" lengthAdjust="spacingAndGlyphs">extracellular matrix organization</text>
<line x1="549" y1="11.65" x2="551" y2="11.65" stroke="#333" stroke-width="0.5"/>
<rect x="551" y="13.99" width="127.6" height="4.09" fill="#ff0000"/>
<text x="548.6" y="17.94" font-size="5" font-family='"Liberation Serif", serif' fill="#222" text-anchor="end" stroke-width="0" textLength="62.19" lengthAdjust="spacingAndGlyphs">extracellular structure organization</text>
<line x1="549" y1="16.34" x2="551" y2="16.34" stroke="#333" stroke-width="0.5"/>
<rect x="551" y="18.68" width="126.8" height="4.09" fill="#ff0000"/>
<text x="548.6" y="22.62" font-size="5" font-family='"Liberation Serif", serif' fill="#222" text-anchor="end" stroke-width="0" textLength="79.86" lengthAdjust="spacingAndGlyphs">external encapsulating structure organization</text>
<line x1="549" y1="21.02" x2="551" y2="21.02" stroke="#333" stroke-width="0.5"/>
<rect x="551" y="23.37" width="121.2" height="4.09" fill="#ff0000"/>
<text x="548.6" y="27.32" font-size="5" font-family='"Liberation Serif", serif' fill="#222" text-anchor="end" stroke-width="0" textLength="39.06" lengthAdjust="spacingAndGlyphs">response to wounding</text>
<line x1="549" y1="25.71" x2="551" y2="25.71" stroke="#333" stroke-width="0.5"/>
<rect x="551" y="28.06" width="118" height="4.09" fill="#ff0000"/>
<text x="548.6" y="32.01" font-size="5" font-family='"Liberation Serif", serif' fill="#222" text-anchor="end" stroke-width="0" textLength="71.96" lengthAdjust="spacingAndGlyphs">chemokine−mediated signaling pathway</text>
<line x1="549" y1="30.41" x2="551" y2="30.41" stroke="#333" stroke-width="0.5"/>
<rect x="551" y="32.75" width="118" height="4.09" fill="#ff0000"/>
<text x="548.6" y="36.7" font-size="5" font-family='"Liberation Serif", serif' fill="#222" text-anchor="end" stroke-width="0" textLength="40.78" lengthAdjust="spacingAndGlyphs">response to chemokine</text>
<line x1="549" y1="35.09" x2="551" y2="35.09" stroke="#333" stroke-width="0.5"/>
<rect x="551" y="37.44" width="118" height="4.09" fill="#ff0000"/>
<text x="548.6" y="41.38" font-size="5" font-family='"Liberation Serif", serif' fill="#222" text-anchor="end" stroke-width="0" textLength="55.23" lengthAdjust="spacingAndGlyphs">cellular response to chemokine</text>
<line x1="549" y1="39.78" x2="551" y2="39.78" stroke="#333" stroke-width="0.5"/>
<rect x="551" y="42.13" width="115.7" height="4.09" fill="#ff0000"/>
<text x="548.6" y="46.08" font-size="5" font-family='"Liberation Serif", serif' fill="#222" text-anchor="end" stroke-width="0" textLength="72.78" lengthAdjust="spacingAndGlyphs">extracellular matrix constituent secretion</text>
<line x1="549" y1="44.48" x2="551" y2="44.48" stroke="#333" stroke-width="0.5"/>
<rect x="551" y="46.82" width="110.3" height="4.09" fill="#ff0000"/>
<text x="548.6" y="50.77" font-size="5" font-family='"Liberation Serif", serif' fill="#222" text-anchor="end" stroke-width="0" textLength="57.82" lengthAdjust="spacingAndGlyphs">cerebellar cortex morphogenesis</text>
<line x1="549" y1="49.17" x2="551" y2="49.17" stroke="#333" stroke-width="0.5"/>
<rect x="551" y="51.51" width="108.6" height="4.09" fill="#ff0000"/>
<text x="548.6" y="55.46" font-size="5" font-family='"Liberation Serif", serif' fill="#222" text-anchor="end" stroke-width="0" textLength="16.32" lengthAdjust="spacingAndGlyphs">digestion</text>
<line x1="549" y1="53.86" x2="551" y2="53.86" stroke="#333" stroke-width="0.5"/>
<rect x="551" y="56.2" width="127" height="4.09" fill="#ffff00"/>
<text x="548.6" y="60.15" font-size="5" font-family='"Liberation Serif", serif' fill="#222" text-anchor="end" stroke-width="0" textLength="34.72" lengthAdjust="spacingAndGlyphs">extracellular region</text>
<line x1="549" y1="58.55" x2="551" y2="58.55" stroke="#333" stroke-width="0.5"/>
<rect x="551" y="60.89" width="118.4" height="4.09" fill="#ffff00"/>
<text x="548.6" y="64.83" font-size="5" font-family='"Liberation Serif", serif' fill="#222" text-anchor="end" stroke-width="0" textLength="33.23" lengthAdjust="spacingAndGlyphs">extracellular space</text>
<line x1="549" y1="63.23" x2="551" y2="63.23" stroke="#333" stroke-width="0.5"/>
<rect x="551" y="65.58" width="88.6" height="4.09" fill="#ffff00"/>
<text x="548.6" y="69.52" font-size="5" font-family='"Liberation Serif", serif' fill="#222" text-anchor="end" stroke-width="0" textLength="43" lengthAdjust="spacingAndGlyphs">secretory granule lumen</text>
<line x1="549" y1="67.92" x2="551" y2="67.92" stroke="#333" stroke-width="0.5"/>
<rect x="551" y="70.27" width="83" height="4.09" fill="#ffff00"/>
<text x="548.6" y="74.22" font-size="5" font-family='"Liberation Serif", serif' fill="#222" text-anchor="end" stroke-width="0" textLength="24.59" lengthAdjust="spacingAndGlyphs">vesicle lumen</text>
<line x1="549" y1="72.62" x2="551" y2="72.62" stroke="#333" stroke-width="0.5"/>
<rect x="551" y="74.96" width="83" height="4.09" fill="#ffff00"/>
<text x="548.6" y="78.91" font-size="5" font-family='"Liberation Serif", serif' fill="#222" text-anchor="end" stroke-width="0" textLength="47.21" lengthAdjust="spacingAndGlyphs">cytoplasmic vesicle lumen</text>
<line x1="549" y1="77.31" x2="551" y2="77.31" stroke="#333" stroke-width="0.5"/>
<rect x="551" y="79.65" width="82.3" height="4.09" fill="#ffff00"/>
<text x="548.6" y="83.59" font-size="5" font-family='"Liberation Serif", serif' fill="#222" text-anchor="end" stroke-width="0" textLength="36.7" lengthAdjust="spacingAndGlyphs">basement membrane</text>
<line x1="549" y1="82" x2="551" y2="82" stroke="#333" stroke-width="0.5"/>
<rect x="551" y="84.34" width="79" height="4.09" fill="#ffff00"/>
<text x="548.6" y="88.28" font-size="5" font-family='"Liberation Serif", serif' fill="#222" text-anchor="end" stroke-width="0" textLength="22.62" lengthAdjust="spacingAndGlyphs">brush border</text>
<line x1="549" y1="86.69" x2="551" y2="86.69" stroke="#333" stroke-width="0.5"/>
<rect x="551" y="89.03" width="78.2" height="4.09" fill="#ffff00"/>
<text x="548.6" y="92.97" font-size="5" font-family='"Liberation Serif", serif' fill="#222" text-anchor="end" stroke-width="0" textLength="24.59" lengthAdjust="spacingAndGlyphs">cell periphery</text>
<line x1="549" y1="91.38" x2="551" y2="91.38" stroke="#333" stroke-width="0.5"/>
<rect x="551" y="93.72" width="66" height="4.09" fill="#ffff00"/>
<text x="548.6" y="97.66" font-size="5" font-family='"Liberation Serif", serif' fill="#222" text-anchor="end" stroke-width="0" textLength="67.55" lengthAdjust="spacingAndGlyphs">very−low−density lipoprotein particle</text>
<line x1="549" y1="96.06" x2="551" y2="96.06" stroke="#333" stroke-width="0.5"/>
<rect x="551" y="98.41" width="66" height="4.09" fill="#ffff00"/>
<text x="548.6" y="102.36" font-size="5" font-family='"Liberation Serif", serif' fill="#222" text-anchor="end" stroke-width="0" textLength="78.75" lengthAdjust="spacingAndGlyphs">triglyceride−rich plasma lipoprotein particle</text>
<line x1="549" y1="100.76" x2="551" y2="100.76" stroke="#333" stroke-width="0.5"/>
<rect x="551" y="103.1" width="95.5" height="4.09" fill="#0000ff"/>
<text x="548.6" y="107.05" font-size="5" font-family='"Liberation Serif", serif' fill="#222" text-anchor="end" stroke-width="0" textLength="76.98" lengthAdjust="spacingAndGlyphs">glucose transmembrane transporter activity</text>
<line x1="549" y1="105.45" x2="551" y2="105.45" stroke="#333" stroke-width="0.5"/>
<rect x="551" y="107.79" width="94.2" height="4.09" fill="#0000ff"/>
<text x="548.6" y="111.73" font-size="5" font-family='"Liberation Serif", serif' fill="#222" text-anchor="end" stroke-width="0" textLength="60.8" lengthAdjust="spacingAndGlyphs">protein homodimerization activity</text>
<line x1="549" y1="110.14" x2="551" y2="110.14" stroke="#333" stroke-width="0.5"/>
<rect x="551" y="112.48" width="93.1" height="4.09" fill="#0000ff"/>
<text x="548.6" y="116.42" font-size="5" font-family='"Liberation Serif", serif' fill="#222" text-anchor="end" stroke-width="0" textLength="75.75" lengthAdjust="spacingAndGlyphs">hexose transmembrane transporter activity</text>
<line x1="549" y1="114.83" x2="551" y2="114.83" stroke="#333" stroke-width="0.5"/>
<rect x="551" y="117.17" width="91.2" height="4.09" fill="#0000ff"/>
<text x="548.6" y="121.11" font-size="5" font-family='"Liberation Serif", serif' fill="#222" text-anchor="end" stroke-width="0" textLength="77.88" lengthAdjust="spacingAndGlyphs">G protein−coupled peptide receptor activity</text>
<line x1="549" y1="119.52" x2="551" y2="119.52" stroke="#333" stroke-width="0.5"/>
<rect x="551" y="121.86" width="89.8" height="4.09" fill="#0000ff"/>
<text x="548.6" y="125.8" font-size="5" font-family='"Liberation Serif", serif' fill="#222" text-anchor="end" stroke-width="0" textLength="43.24" lengthAdjust="spacingAndGlyphs">peptide receptor activity</text>
<line x1="549" y1="124.2" x2="551" y2="124.2" stroke="#333" stroke-width="0.5"/>
<rect x="551" y="126.55" width="88.5" height="4.09" fill="#0000ff"/>
<text x="548.6" y="130.5" font-size="5" font-family='"Liberation Serif", serif' fill="#222" text-anchor="end" stroke-width="0" textLength="92.3" lengthAdjust="spacingAndGlyphs">monosaccharide transmembrane transporter activity</text>
<line x1="549" y1="128.9" x2="551" y2="128.9" stroke="#333" stroke-width="0.5"/>
<rect x="551" y="131.24" width="86.8" height="4.09" fill="#0000ff"/>
<text x="548.6" y="135.19" font-size="5" font-family='"Liberation Serif", serif' fill="#222" text-anchor="end" stroke-width="0" textLength="25.58" lengthAdjust="spacingAndGlyphs">cation binding</text>
<line x1="549" y1="133.59" x2="551" y2="133.59" stroke="#333" stroke-width="0.5"/>
<rect x="551" y="135.93" width="86.8" height="4.09" fill="#0000ff"/>
<text x="548.6" y="139.88" font-size="5" font-family='"Liberation Serif", serif' fill="#222" text-anchor="end" stroke-width="0" textLength="43.75" lengthAdjust="spacingAndGlyphs">identical protein binding</text>
<line x1="549" y1="138.28" x2="551" y2="138.28" stroke="#333" stroke-width="0.5"/>
<rect x="551" y="140.62" width="84.7" height="4.09" fill="#0000ff"/>
<text x="548.6" y="144.57" font-size="5" font-family='"Liberation Serif", serif' fill="#222" text-anchor="end" stroke-width="0" textLength="94.31" lengthAdjust="spacingAndGlyphs">G protein−coupled chemoattractant receptor activit...</text>
<line x1="549" y1="142.97" x2="551" y2="142.97" stroke="#333" stroke-width="0.5"/>
<rect x="551" y="145.31" width="84.7" height="4.09" fill="#0000ff"/>
<text x="548.6" y="149.26" font-size="5" font-family='"Liberation Serif", serif' fill="#222" text-anchor="end" stroke-width="0" textLength="49.67" lengthAdjust="spacingAndGlyphs">chemokine receptor activity</text>
<line x1="549" y1="147.66" x2="551" y2="147.66" stroke="#333" stroke-width="0.5"/>
<line x1="551" y1="9.3" x2="682.9" y2="9.3" stroke="#bbb" stroke-width="0.7"/>
<line x1="682.9" y1="9.3" x2="682.9" y2="150" stroke="#bbb" stroke-width="0.9"/>
<line x1="551" y1="150.3" x2="682.9" y2="150.3" stroke="#999" stroke-width="0.5"/>
<line x1="551.6" y1="150.3" x2="551.6" y2="151.8" stroke="#555" stroke-width="0.5"/>
<text x="552.8" y="152.8" font-size="3.8" font-family='"Liberation Serif", serif' fill="#333" text-anchor="end" transform="rotate(-90 552.8 152.8)" stroke="#333" stroke-width="0.09">0</text>
<line x1="580.6" y1="150.3" x2="580.6" y2="151.8" stroke="#555" stroke-width="0.5"/>
<text x="581.8" y="152.8" font-size="3.8" font-family='"Liberation Serif", serif' fill="#333" text-anchor="end" transform="rotate(-90 581.8 152.8)" stroke="#333" stroke-width="0.09">1</text>
<line x1="610.5" y1="150.3" x2="610.5" y2="151.8" stroke="#555" stroke-width="0.5"/>
<text x="611.7" y="152.8" font-size="3.8" font-family='"Liberation Serif", serif' fill="#333" text-anchor="end" transform="rotate(-90 611.7 152.8)" stroke="#333" stroke-width="0.09">2</text>
<line x1="640" y1="150.3" x2="640" y2="151.8" stroke="#555" stroke-width="0.5"/>
<text x="641.2" y="152.8" font-size="3.8" font-family='"Liberation Serif", serif' fill="#333" text-anchor="end" transform="rotate(-90 641.2 152.8)" stroke="#333" stroke-width="0.09">3</text>
<line x1="669.5" y1="150.3" x2="669.5" y2="151.8" stroke="#555" stroke-width="0.5"/>
<text x="670.7" y="152.8" font-size="3.8" font-family='"Liberation Serif", serif' fill="#333" text-anchor="end" transform="rotate(-90 670.7 152.8)" stroke="#333" stroke-width="0.09">4</text>
<text x="617.5" y="163" font-size="10.6" font-family='"Liberation Serif", serif' fill="#111" text-anchor="middle" stroke="#111" stroke-width="0.24">−log(Pvalue)</text>
<polyline points="489,11.6 449.5,11.6 449.5,53 531.5,53" fill="none" stroke="#777" stroke-width="0.6"/>
<text x="444.3" y="32" font-size="7.2" font-family='"Liberation Serif", serif' fill="#111" text-anchor="middle" transform="rotate(-90 444.3 32)" stroke="#111" stroke-width="0.16">BP</text>
<polyline points="510.6,58.4 449.5,58.4 449.5,99.9 469.8,99.9" fill="none" stroke="#777" stroke-width="0.6"/>
<text x="444.3" y="79.5" font-size="7.2" font-family='"Liberation Serif", serif' fill="#111" text-anchor="middle" transform="rotate(-90 444.3 79.5)" stroke="#111" stroke-width="0.16">CC</text>
<polyline points="468.9,105.2 449.5,105.2 449.5,147.4 497.4,147.4" fill="none" stroke="#777" stroke-width="0.6"/>
<text x="444.3" y="126.5" font-size="7.2" font-family='"Liberation Serif", serif' fill="#111" text-anchor="middle" transform="rotate(-90 444.3 126.5)" stroke="#111" stroke-width="0.16">MF</text>
<text x="3.6" y="183.8" font-size="13.5" font-weight="bold">C</text>
<line x1="57.4" y1="183.1" x2="57.4" y2="268.7" stroke="#111" stroke-width="1.1"/>
<line x1="53.8" y1="268.1" x2="57.4" y2="268.1" stroke="#111" stroke-width="1"/>
<text x="53" y="270.4" font-size="6.4" font-weight="bold" fill="#222" text-anchor="end">0</text>
<line x1="53.8" y1="239.77" x2="57.4" y2="239.77" stroke="#111" stroke-width="1"/>
<text x="53" y="242.07" font-size="6.4" font-weight="bold" fill="#222" text-anchor="end">5</text>
<line x1="53.8" y1="211.43" x2="57.4" y2="211.43" stroke="#111" stroke-width="1"/>
<text x="53" y="213.73" font-size="6.4" font-weight="bold" fill="#222" text-anchor="end">10</text>
<line x1="53.8" y1="183.1" x2="57.4" y2="183.1" stroke="#111" stroke-width="1"/>
<text x="53" y="185.4" font-size="6.4" font-weight="bold" fill="#222" text-anchor="end">15</text>
<line x1="56.9" y1="268.1" x2="142.8" y2="268.1" stroke="#111" stroke-width="1.1"/>
<line x1="70.8" y1="268.1" x2="70.8" y2="270.9" stroke="#111" stroke-width="1"/>
<line x1="90.2" y1="268.1" x2="90.2" y2="270.9" stroke="#111" stroke-width="1"/>
<line x1="110.2" y1="268.1" x2="110.2" y2="270.9" stroke="#111" stroke-width="1"/>
<line x1="129.6" y1="268.1" x2="129.6" y2="270.9" stroke="#111" stroke-width="1"/>
<circle cx="65.5" cy="267.53" r="1.9" fill="#0a0ae0"/>
<circle cx="70.8" cy="267.53" r="1.9" fill="#0a0ae0"/>
<circle cx="75.6" cy="267.53" r="1.9" fill="#0a0ae0"/>
<rect x="84.1" y="213.13" width="12.2" height="54.97" fill="none" stroke="#ff2a2a" stroke-width="1.45"/>
<line x1="90.2" y1="194.43" x2="90.2" y2="230.7" stroke="#ff2a2a" stroke-width="0.7" opacity="0.8"/>
<line x1="87.2" y1="194.43" x2="93.2" y2="194.43" stroke="#ff2a2a" stroke-width="0.7" opacity="0.8"/>
<line x1="87.2" y1="230.7" x2="93.2" y2="230.7" stroke="#ff2a2a" stroke-width="0.7" opacity="0.8"/>
<rect x="88.6" y="192.27" width="3.2" height="3.2" fill="#ff2a2a"/>
<rect x="88.6" y="215.5" width="3.2" height="3.2" fill="#ff2a2a"/>
<rect x="88.6" y="226.27" width="3.2" height="3.2" fill="#ff2a2a"/>
<rect x="104.1" y="235.23" width="12.2" height="32.87" fill="none" stroke="#18c018" stroke-width="1.45"/>
<line x1="110.2" y1="225.6" x2="110.2" y2="244.87" stroke="#18c018" stroke-width="0.7" opacity="0.8"/>
<line x1="107.2" y1="225.6" x2="113.2" y2="225.6" stroke="#18c018" stroke-width="0.7" opacity="0.8"/>
<line x1="107.2" y1="244.87" x2="113.2" y2="244.87" stroke="#18c018" stroke-width="0.7" opacity="0.8"/>
<polygon points="110.2,223.7 112.1,227.12 108.3,227.12" fill="#0a8a0a"/>
<polygon points="110.2,236.17 112.1,239.59 108.3,239.59" fill="#0a8a0a"/>
<polygon points="110.2,242.97 112.1,246.39 108.3,246.39" fill="#0a8a0a"/>
<rect x="123.5" y="259.6" width="12.2" height="8.5" fill="none" stroke="#a020e8" stroke-width="1.45"/>
<line x1="129.6" y1="252.23" x2="129.6" y2="265.83" stroke="#a020e8" stroke-width="0.7" opacity="0.8"/>
<line x1="126.6" y1="252.23" x2="132.6" y2="252.23" stroke="#a020e8" stroke-width="0.7" opacity="0.8"/>
<line x1="126.6" y1="265.83" x2="132.6" y2="265.83" stroke="#a020e8" stroke-width="0.7" opacity="0.8"/>
<polygon points="129.6,254.13 131.5,250.71 127.7,250.71" fill="#7a10b0"/>
<polygon points="129.6,260.93 131.5,257.51 127.7,257.51" fill="#7a10b0"/>
<polygon points="129.6,266.88 131.5,263.46 127.7,263.46" fill="#7a10b0"/>
<polyline points="70.9,188.1 70.9,183.9 90.3,183.9 90.3,188.1" fill="none" stroke="#111" stroke-width="1.3"/>
<text x="80.6" y="179.9" font-size="5.6" fill="#333" text-anchor="middle" stroke="#333" stroke-width="0.13">P=0.005</text>
<polyline points="110.2,188.1 110.2,183.9 129.8,183.9 129.8,188.1" fill="none" stroke="#111" stroke-width="1.3"/>
<text x="120" y="179.9" font-size="5.6" fill="#333" text-anchor="middle" stroke="#333" stroke-width="0.13">P=0.022</text>
<text x="34" y="225.5" font-size="6.9" font-weight="bold" fill="#222" text-anchor="middle" transform="rotate(-90 34 225.5)">CD4<tspan font-size="4.6" dy="-2.6">+</tspan><tspan dy="2.6"> T cell migration</tspan></text>
<text x="41.8" y="225.5" font-size="6.9" font-weight="bold" fill="#222" text-anchor="middle" transform="rotate(-90 41.8 225.5)">(% based on total T cell)</text>
<text x="72.6" y="275.7" font-size="6.6" font-weight="bold" fill="#222" text-anchor="end" transform="rotate(-45 72.6 275.7)">none ECM + none CCL21</text>
<text x="92" y="275.7" font-size="6.6" font-weight="bold" fill="#222" text-anchor="end" transform="rotate(-45 92 275.7)">none ECM + CCL21</text>
<text x="112" y="275.7" font-size="6.6" font-weight="bold" fill="#222" text-anchor="end" transform="rotate(-45 112 275.7)">OE-NC ECM + CCL21</text>
<text x="131.4" y="275.7" font-size="6.6" font-weight="bold" fill="#222" text-anchor="end" transform="rotate(-45 131.4 275.7)">OE-GPR4 ECM + CCL21</text>
<text x="144.6" y="185" font-size="13.5" font-weight="bold">D</text>
<line x1="190.1" y1="187.1" x2="190.1" y2="270.9" stroke="#111" stroke-width="1.1"/>
<line x1="186.5" y1="270.3" x2="190.1" y2="270.3" stroke="#111" stroke-width="1"/>
<text x="185.7" y="272.6" font-size="6.4" font-weight="bold" fill="#222" text-anchor="end">0</text>
<line x1="186.5" y1="242.57" x2="190.1" y2="242.57" stroke="#111" stroke-width="1"/>
<text x="185.7" y="244.87" font-size="6.4" font-weight="bold" fill="#222" text-anchor="end">2</text>
<line x1="186.5" y1="214.83" x2="190.1" y2="214.83" stroke="#111" stroke-width="1"/>
<text x="185.7" y="217.13" font-size="6.4" font-weight="bold" fill="#222" text-anchor="end">4</text>
<line x1="186.5" y1="187.1" x2="190.1" y2="187.1" stroke="#111" stroke-width="1"/>
<text x="185.7" y="189.4" font-size="6.4" font-weight="bold" fill="#222" text-anchor="end">6</text>
<line x1="189.6" y1="270.3" x2="272.5" y2="270.3" stroke="#111" stroke-width="1.1"/>
<line x1="202.5" y1="270.3" x2="202.5" y2="273.1" stroke="#111" stroke-width="1"/>
<line x1="222" y1="270.3" x2="222" y2="273.1" stroke="#111" stroke-width="1"/>
<line x1="241" y1="270.3" x2="241" y2="273.1" stroke="#111" stroke-width="1"/>
<line x1="260" y1="270.3" x2="260" y2="273.1" stroke="#111" stroke-width="1"/>
<circle cx="197.9" cy="269.88" r="1.9" fill="#0a0ae0"/>
<circle cx="202.5" cy="269.88" r="1.9" fill="#0a0ae0"/>
<circle cx="207.7" cy="269.88" r="1.9" fill="#0a0ae0"/>
<rect x="215.9" y="212.06" width="12.2" height="58.24" fill="none" stroke="#ff2a2a" stroke-width="1.45"/>
<line x1="222" y1="194.03" x2="222" y2="228.7" stroke="#ff2a2a" stroke-width="0.7" opacity="0.8"/>
<line x1="219" y1="194.03" x2="225" y2="194.03" stroke="#ff2a2a" stroke-width="0.7" opacity="0.8"/>
<line x1="219" y1="228.7" x2="225" y2="228.7" stroke="#ff2a2a" stroke-width="0.7" opacity="0.8"/>
<rect x="220.4" y="191.05" width="3.2" height="3.2" fill="#ff2a2a"/>
<rect x="220.4" y="218.78" width="3.2" height="3.2" fill="#ff2a2a"/>
<rect x="220.4" y="221.55" width="3.2" height="3.2" fill="#ff2a2a"/>
<rect x="234.9" y="230.78" width="12.2" height="39.52" fill="none" stroke="#18c018" stroke-width="1.45"/>
<line x1="241" y1="218.99" x2="241" y2="239.79" stroke="#18c018" stroke-width="0.7" opacity="0.8"/>
<line x1="238" y1="218.99" x2="244" y2="218.99" stroke="#18c018" stroke-width="0.7" opacity="0.8"/>
<line x1="238" y1="239.79" x2="244" y2="239.79" stroke="#18c018" stroke-width="0.7" opacity="0.8"/>
<polygon points="241,217.79 242.9,221.21 239.1,221.21" fill="#0a8a0a"/>
<polygon points="236.5,233.73 238.4,237.15 234.6,237.15" fill="#0a8a0a"/>
<polygon points="245.5,233.73 247.4,237.15 243.6,237.15" fill="#0a8a0a"/>
<rect x="253.9" y="260.59" width="12.2" height="9.71" fill="none" stroke="#a020e8" stroke-width="1.45"/>
<line x1="260" y1="251.58" x2="260" y2="266.83" stroke="#a020e8" stroke-width="0.7" opacity="0.8"/>
<line x1="257" y1="251.58" x2="263" y2="251.58" stroke="#a020e8" stroke-width="0.7" opacity="0.8"/>
<line x1="257" y1="266.83" x2="263" y2="266.83" stroke="#a020e8" stroke-width="0.7" opacity="0.8"/>
<polygon points="260,253.48 261.9,250.06 258.1,250.06" fill="#7a10b0"/>
<polygon points="255.5,264.57 257.4,261.15 253.6,261.15" fill="#7a10b0"/>
<polygon points="264.5,264.57 266.4,261.15 262.6,261.15" fill="#7a10b0"/>
<polyline points="202.6,187.3 202.6,183.1 222,183.1 222,187.3" fill="none" stroke="#111" stroke-width="1.3"/>
<text x="212.3" y="179.1" font-size="5.6" fill="#333" text-anchor="middle" stroke="#333" stroke-width="0.13">P=0.004</text>
<polyline points="240.6,187.3 240.6,183.1 260.3,183.1 260.3,187.3" fill="none" stroke="#111" stroke-width="1.3"/>
<text x="250.45" y="179.1" font-size="5.6" fill="#333" text-anchor="middle" stroke="#333" stroke-width="0.13">P=0.012</text>
<text x="162.4" y="228.5" font-size="6.9" font-weight="bold" fill="#222" text-anchor="middle" transform="rotate(-90 162.4 228.5)">CD8<tspan font-size="4.6" dy="-2.6">+</tspan><tspan dy="2.6"> T cell migration</tspan></text>
<text x="170.6" y="228.5" font-size="6.9" font-weight="bold" fill="#222" text-anchor="middle" transform="rotate(-90 170.6 228.5)">(% based on total T cell)</text>
<text x="204.3" y="277.9" font-size="6.6" font-weight="bold" fill="#222" text-anchor="end" transform="rotate(-45 204.3 277.9)">none ECM + none CCL21</text>
<text x="223.8" y="277.9" font-size="6.6" font-weight="bold" fill="#222" text-anchor="end" transform="rotate(-45 223.8 277.9)">none ECM + CCL21</text>
<text x="242.8" y="277.9" font-size="6.6" font-weight="bold" fill="#222" text-anchor="end" transform="rotate(-45 242.8 277.9)">OE-NC ECM + CCL21</text>
<text x="261.8" y="277.9" font-size="6.6" font-weight="bold" fill="#222" text-anchor="end" transform="rotate(-45 261.8 277.9)">OE-GPR4 ECM + CCL21</text>
<text x="292" y="184.6" font-size="13.5" font-weight="bold">E</text>
<text x="382.2" y="181.1" font-size="8.5" fill="#2424ff" text-anchor="middle" stroke="#2424ff" stroke-width="0.19">Hoechst 33342</text>
<text x="474.2" y="181.1" font-size="8" fill="#3cb43c" text-anchor="middle" stroke="#3cb43c" stroke-width="0.18">GFP</text>
<text x="565" y="181.1" font-size="8" fill="#111" text-anchor="middle" stroke="#111" stroke-width="0.18">Merge</text>
<text x="334" y="220.6" font-size="8.4" fill="#111" text-anchor="end" stroke="#111" stroke-width="0.19">NC-GPR4</text>
<text x="334" y="288.6" font-size="8.4" fill="#111" text-anchor="end" stroke="#111" stroke-width="0.19">OE-GPR4</text>
<rect x="336.2" y="183.3" width="90.2" height="67.5" fill="url(#nav1)"/>
<rect x="428.2" y="183.3" width="90.1" height="67.5" fill="#000"/>
<rect x="520.1" y="183.3" width="90.3" height="67.5" fill="url(#nav3)"/>
<rect x="612.5" y="183.3" width="67.8" height="67.5" fill="url(#nav4)"/>
<rect x="336.2" y="252.8" width="90.2" height="67.5" fill="url(#nav5)"/>
<rect x="428.2" y="252.8" width="90.1" height="67.5" fill="url(#grn6)"/>
<rect x="520.1" y="252.8" width="90.3" height="67.5" fill="url(#nav7)"/>
<rect x="612.5" y="252.8" width="67.8" height="67.5" fill="url(#nav8)"/>
<g clip-path="url(#ct1)">
<ellipse cx="337.2" cy="217.5" rx="9" ry="16" fill="#0a12a0" filter="url(#bl2)"/>
<ellipse cx="337.7" cy="216.5" rx="6" ry="11.5" fill="#1c28ff" filter="url(#bl05)"/>
<path d="M339.13 228.17h1.2v1.2h-1.2zM333.55 225.47h1.2v1.2h-1.2zM336.89 213.49h1.2v1.2h-1.2zM347.26 217.61h1.2v1.2h-1.2zM338.33 224.13h1.2v1.2h-1.2zM345.11 216.1h1.2v1.2h-1.2zM341.99 206.95h1.2v1.2h-1.2zM336.23 211.64h1.2v1.2h-1.2zM332.74 205.23h1.2v1.2h-1.2zM330.51 214.4h1.2v1.2h-1.2zM337.46 212.83h1.2v1.2h-1.2zM338.98 204.12h1.2v1.2h-1.2zM338.07 219.07h1.2v1.2h-1.2zM342.94 208.17h1.2v1.2h-1.2zM336.87 201.69h1.2v1.2h-1.2zM336.56 201.43h1.2v1.2h-1.2zM331.88 225.18h1.2v1.2h-1.2zM329.96 221.68h1.2v1.2h-1.2zM340.75 212.95h1.2v1.2h-1.2zM341.51 222.02h1.2v1.2h-1.2zM344.73 214.13h1.2v1.2h-1.2zM334.95 210.13h1.2v1.2h-1.2zM332.7 215.95h1.2v1.2h-1.2zM334.3 226.26h1.2v1.2h-1.2zM330.8 208.72h1.2v1.2h-1.2zM334.8 202.37h1.2v1.2h-1.2zM344.46 203.9h1.2v1.2h-1.2zM336.78 210.71h1.2v1.2h-1.2zM344.58 204.33h1.2v1.2h-1.2zM344.52 209.6h1.2v1.2h-1.2zM337.62 209.24h1.2v1.2h-1.2zM342.13 205.84h1.2v1.2h-1.2zM338.08 220.33h1.2v1.2h-1.2zM344.34 203.76h1.2v1.2h-1.2zM345.82 223.96h1.2v1.2h-1.2zM335.48 219.71h1.2v1.2h-1.2zM336.33 229.9h1.2v1.2h-1.2zM339.99 213.99h1.2v1.2h-1.2zM337.09 214.16h1.2v1.2h-1.2zM337.52 207.38h1.2v1.2h-1.2zM345.49 205.62h1.2v1.2h-1.2zM329.11 215.86h1.2v1.2h-1.2zM337.63 220.53h1.2v1.2h-1.2zM337.24 214.74h1.2v1.2h-1.2zM340.57 226.07h1.2v1.2h-1.2zM335.71 212.35h1.2v1.2h-1.2zM347.14 220.33h1.2v1.2h-1.2zM334.97 230.82h1.2v1.2h-1.2zM343.25 210.45h1.2v1.2h-1.2zM331.96 219.24h1.2v1.2h-1.2zM334.07 206.7h1.2v1.2h-1.2zM331.63 211.82h1.2v1.2h-1.2zM344.9 212.25h1.2v1.2h-1.2zM331.28 222.09h1.2v1.2h-1.2zM339 225.15h1.2v1.2h-1.2zM345.39 214.79h1.2v1.2h-1.2zM337.63 215.89h1.2v1.2h-1.2zM332.37 222.59h1.2v1.2h-1.2zM346 217.98h1.2v1.2h-1.2zM337.03 213.5h1.2v1.2h-1.2zM334.08 208.56h1.2v1.2h-1.2zM336.18 207.82h1.2v1.2h-1.2zM336.42 203.15h1.2v1.2h-1.2zM340.92 216.95h1.2v1.2h-1.2zM334.42 202.36h1.2v1.2h-1.2zM338.55 227.21h1.2v1.2h-1.2zM334.11 211.42h1.2v1.2h-1.2zM335.11 223.15h1.2v1.2h-1.2zM333.61 225.45h1.2v1.2h-1.2zM336.78 225.74h1.2v1.2h-1.2zM338.82 213.8h1.2v1.2h-1.2zM331.21 210.62h1.2v1.2h-1.2zM336.95 223.42h1.2v1.2h-1.2zM340.14 209.03h1.2v1.2h-1.2zM341 226.15h1.2v1.2h-1.2zM337.63 211.56h1.2v1.2h-1.2zM336.2 224.71h1.2v1.2h-1.2zM341.75 207.23h1.2v1.2h-1.2zM341.01 211.21h1.2v1.2h-1.2zM334.63 227.43h1.2v1.2h-1.2zM343.38 209.29h1.2v1.2h-1.2zM339.12 221.9h1.2v1.2h-1.2zM334.52 215.11h1.2v1.2h-1.2zM341.64 202.67h1.2v1.2h-1.2zM340.63 224.12h1.2v1.2h-1.2zM341.28 204.4h1.2v1.2h-1.2zM340.53 207.58h1.2v1.2h-1.2zM342.12 222.69h1.2v1.2h-1.2zM339.95 208.38h1.2v1.2h-1.2zM335.11 224.89h1.2v1.2h-1.2zM333.28 221.35h1.2v1.2h-1.2zM341.89 213.38h1.2v1.2h-1.2zM347.82 216.86h1.2v1.2h-1.2zM345.48 205.52h1.2v1.2h-1.2zM330.12 222.65h1.2v1.2h-1.2zM342.62 213.08h1.2v1.2h-1.2zM338.36 201.77h1.2v1.2h-1.2zM335.04 206.55h1.2v1.2h-1.2zM337.25 225.46h1.2v1.2h-1.2zM338.95 220.53h1.2v1.2h-1.2zM334.28 211.87h1.2v1.2h-1.2zM339.34 213.24h1.2v1.2h-1.2zM345.11 208.81h1.2v1.2h-1.2zM346.59 209.43h1.2v1.2h-1.2zM344.43 209.24h1.2v1.2h-1.2zM346.77 217.54h1.2v1.2h-1.2zM341.05 224.13h1.2v1.2h-1.2zM335.02 206.5h1.2v1.2h-1.2zM330.71 224.4h1.2v1.2h-1.2zM334.37 210.34h1.2v1.2h-1.2zM338.46 231.25h1.2v1.2h-1.2zM330.28 218.42h1.2v1.2h-1.2zM336.08 222.1h1.2v1.2h-1.2zM330.22 213.28h1.2v1.2h-1.2zM342.61 228.93h1.2v1.2h-1.2zM346.12 209.62h1.2v1.2h-1.2zM338.97 215.16h1.2v1.2h-1.2zM332.5 205.66h1.2v1.2h-1.2zM343.31 218.97h1.2v1.2h-1.2zM337.8 227.94h1.2v1.2h-1.2zM332.82 221.52h1.2v1.2h-1.2zM338.67 215.73h1.2v1.2h-1.2zM341.78 218.32h1.2v1.2h-1.2zM340.36 219.35h1.2v1.2h-1.2zM347.27 214.06h1.2v1.2h-1.2zM344.37 222.24h1.2v1.2h-1.2zM336.46 224.62h1.2v1.2h-1.2zM334.06 226.75h1.2v1.2h-1.2zM333.72 211.42h1.2v1.2h-1.2zM340.57 224.95h1.2v1.2h-1.2z" fill="#2234ff" opacity="0.85"/>
</g>
<g clip-path="url(#ct3)">
<ellipse cx="521.1" cy="217.5" rx="9" ry="16" fill="#0a12a0" filter="url(#bl2)"/>
<ellipse cx="521.6" cy="216.5" rx="6" ry="11.5" fill="#1c28ff" filter="url(#bl05)"/>
<path d="M527.55 224.77h1.2v1.2h-1.2zM521.26 206.76h1.2v1.2h-1.2zM526.02 219.65h1.2v1.2h-1.2zM517.33 225.29h1.2v1.2h-1.2zM523.69 206.74h1.2v1.2h-1.2zM524.87 204.42h1.2v1.2h-1.2zM517.23 220.47h1.2v1.2h-1.2zM514.54 216.72h1.2v1.2h-1.2zM515.55 222.78h1.2v1.2h-1.2zM517.94 218.33h1.2v1.2h-1.2zM514.78 213.42h1.2v1.2h-1.2zM528.08 220.93h1.2v1.2h-1.2zM514.54 223.14h1.2v1.2h-1.2zM527.85 212.6h1.2v1.2h-1.2zM529.27 207.88h1.2v1.2h-1.2zM522.01 227.27h1.2v1.2h-1.2zM528.63 226.48h1.2v1.2h-1.2zM517.81 203.56h1.2v1.2h-1.2zM524.55 203.79h1.2v1.2h-1.2zM521.77 204.45h1.2v1.2h-1.2zM528.31 223.8h1.2v1.2h-1.2zM526.1 216.59h1.2v1.2h-1.2zM522.8 213.07h1.2v1.2h-1.2zM525.01 219.15h1.2v1.2h-1.2zM525.44 211.78h1.2v1.2h-1.2zM531.12 218.56h1.2v1.2h-1.2zM528.81 226.55h1.2v1.2h-1.2zM518.49 203.43h1.2v1.2h-1.2zM529.41 212.81h1.2v1.2h-1.2zM523.05 213.49h1.2v1.2h-1.2zM523.24 205.03h1.2v1.2h-1.2zM521.83 211.3h1.2v1.2h-1.2zM522.44 200.93h1.2v1.2h-1.2zM527.52 219.81h1.2v1.2h-1.2zM514.54 210.7h1.2v1.2h-1.2zM522.7 223.18h1.2v1.2h-1.2zM522.5 228.96h1.2v1.2h-1.2zM522.63 206.36h1.2v1.2h-1.2zM518.47 223.85h1.2v1.2h-1.2zM518.88 224.76h1.2v1.2h-1.2zM528.32 222.05h1.2v1.2h-1.2zM528.52 214.67h1.2v1.2h-1.2zM522.44 209.99h1.2v1.2h-1.2zM519.5 203.44h1.2v1.2h-1.2zM519.35 206.19h1.2v1.2h-1.2zM514.92 217.71h1.2v1.2h-1.2zM525.43 212.68h1.2v1.2h-1.2zM529.27 224.24h1.2v1.2h-1.2zM528.42 210.64h1.2v1.2h-1.2zM514.96 221.15h1.2v1.2h-1.2zM524.42 224.02h1.2v1.2h-1.2zM524.78 228.03h1.2v1.2h-1.2zM520.69 223.48h1.2v1.2h-1.2zM519.15 201.83h1.2v1.2h-1.2zM520.23 229.28h1.2v1.2h-1.2zM515 224.07h1.2v1.2h-1.2zM518.27 212.21h1.2v1.2h-1.2zM522.79 218.78h1.2v1.2h-1.2zM516.67 217.67h1.2v1.2h-1.2zM525.18 224.88h1.2v1.2h-1.2zM518.84 229.06h1.2v1.2h-1.2zM528.36 228.9h1.2v1.2h-1.2zM515.21 217.98h1.2v1.2h-1.2zM514 219.31h1.2v1.2h-1.2zM525.58 205.65h1.2v1.2h-1.2zM514.49 217.99h1.2v1.2h-1.2zM526.23 208.47h1.2v1.2h-1.2zM521.54 200.8h1.2v1.2h-1.2zM518.04 217.96h1.2v1.2h-1.2zM523.27 229.89h1.2v1.2h-1.2zM518.3 202.43h1.2v1.2h-1.2zM525.34 210.15h1.2v1.2h-1.2zM524.29 223.96h1.2v1.2h-1.2zM525.57 228.8h1.2v1.2h-1.2zM528.18 204.62h1.2v1.2h-1.2zM522.22 231.27h1.2v1.2h-1.2zM520.1 225.99h1.2v1.2h-1.2zM522.13 211.75h1.2v1.2h-1.2zM529.75 224.43h1.2v1.2h-1.2zM521.03 225.63h1.2v1.2h-1.2zM515.66 210.04h1.2v1.2h-1.2zM527.99 216.8h1.2v1.2h-1.2zM516.4 220.75h1.2v1.2h-1.2zM524.3 228.26h1.2v1.2h-1.2zM528.21 213.63h1.2v1.2h-1.2zM519.35 214.88h1.2v1.2h-1.2zM521.3 229.29h1.2v1.2h-1.2zM529.3 226.19h1.2v1.2h-1.2zM524.98 213.7h1.2v1.2h-1.2zM527.92 212.87h1.2v1.2h-1.2zM523.66 202.61h1.2v1.2h-1.2zM520.3 229.02h1.2v1.2h-1.2zM517.67 204.57h1.2v1.2h-1.2zM521.69 230.23h1.2v1.2h-1.2zM530.06 213.24h1.2v1.2h-1.2zM519.38 215.19h1.2v1.2h-1.2zM516.87 216.76h1.2v1.2h-1.2zM520.94 203.48h1.2v1.2h-1.2zM518.79 213.63h1.2v1.2h-1.2zM517.9 206.33h1.2v1.2h-1.2zM526.36 230.02h1.2v1.2h-1.2zM520.63 211.75h1.2v1.2h-1.2zM525.75 213.9h1.2v1.2h-1.2zM518.55 228.24h1.2v1.2h-1.2zM516.71 209.55h1.2v1.2h-1.2zM518.64 207.74h1.2v1.2h-1.2zM520.97 222.61h1.2v1.2h-1.2zM529.8 222.06h1.2v1.2h-1.2zM522.7 204.61h1.2v1.2h-1.2zM522.13 206.83h1.2v1.2h-1.2zM521.92 226.26h1.2v1.2h-1.2zM523.86 214.04h1.2v1.2h-1.2zM517.78 216.16h1.2v1.2h-1.2zM523.17 206.95h1.2v1.2h-1.2zM519.5 225.22h1.2v1.2h-1.2zM514.44 212.78h1.2v1.2h-1.2zM517.23 228.15h1.2v1.2h-1.2zM526.26 221.79h1.2v1.2h-1.2zM525.08 219.55h1.2v1.2h-1.2zM523.97 202.98h1.2v1.2h-1.2zM524.14 222.78h1.2v1.2h-1.2zM515.41 223.3h1.2v1.2h-1.2zM525.8 203.72h1.2v1.2h-1.2zM519.45 213.06h1.2v1.2h-1.2zM519.14 220.59h1.2v1.2h-1.2zM515.45 214.32h1.2v1.2h-1.2zM523.91 224.04h1.2v1.2h-1.2zM522.83 213.68h1.2v1.2h-1.2zM525.44 202.13h1.2v1.2h-1.2zM528.08 213.3h1.2v1.2h-1.2z" fill="#2234ff" opacity="0.85"/>
</g>
<ellipse cx="412.5" cy="199.3" rx="12.6" ry="16" fill="none" stroke="#3a78c0" stroke-width="0.8"/>
<g clip-path="url(#ct2)">
<path d="M425.98 216.23h1.1v1.1h-1.1zM426.32 209.88h1.1v1.1h-1.1zM428.78 212.89h1.1v1.1h-1.1zM432.39 212.48h1.1v1.1h-1.1zM426.18 212.86h1.1v1.1h-1.1zM434.78 219.62h1.1v1.1h-1.1zM427.92 211.69h1.1v1.1h-1.1zM426.26 218.14h1.1v1.1h-1.1zM431.34 228.32h1.1v1.1h-1.1zM433.74 221.57h1.1v1.1h-1.1zM427.72 212.57h1.1v1.1h-1.1zM425.02 214.32h1.1v1.1h-1.1zM431.53 216.45h1.1v1.1h-1.1zM431.09 209.55h1.1v1.1h-1.1zM433.08 221.89h1.1v1.1h-1.1zM430.11 223.06h1.1v1.1h-1.1zM424.8 216.42h1.1v1.1h-1.1zM427.67 230.32h1.1v1.1h-1.1zM429.26 214.97h1.1v1.1h-1.1zM432.63 211.62h1.1v1.1h-1.1zM434.12 214.58h1.1v1.1h-1.1zM429.74 211.85h1.1v1.1h-1.1zM431.8 207.69h1.1v1.1h-1.1zM432.29 212.88h1.1v1.1h-1.1zM430.11 210.4h1.1v1.1h-1.1zM430.83 221.15h1.1v1.1h-1.1zM432.12 222.19h1.1v1.1h-1.1zM432.01 227.21h1.1v1.1h-1.1zM428.69 210.4h1.1v1.1h-1.1zM426.04 224.37h1.1v1.1h-1.1zM428.69 227.79h1.1v1.1h-1.1zM430.11 211.22h1.1v1.1h-1.1zM432.15 230.62h1.1v1.1h-1.1zM429.32 211.72h1.1v1.1h-1.1zM427.19 226.3h1.1v1.1h-1.1zM427.81 215.95h1.1v1.1h-1.1zM432.46 219.55h1.1v1.1h-1.1zM430.38 214.63h1.1v1.1h-1.1zM427.6 220.88h1.1v1.1h-1.1zM430.53 224.65h1.1v1.1h-1.1z" fill="#1f7a1f" opacity="0.8"/>
<ellipse cx="426.5" cy="220.3" rx="12.4" ry="17.6" fill="none" stroke="#86c020" stroke-width="0.8"/>
<circle cx="439.5" cy="201" r="0.6" fill="#2a8a2a"/>
</g>
<rect x="582.6" y="189.8" width="22.6" height="22.3" fill="none" stroke="#3c9494" stroke-width="0.8"/>
<line x1="605.2" y1="189.8" x2="611.8" y2="183.6" stroke="#48a8a8" stroke-width="0.8"/>
<line x1="605.2" y1="212.1" x2="611.8" y2="250.6" stroke="#48a8a8" stroke-width="0.8"/>
<circle cx="641.44" cy="196.43" r="0.51" fill="#1a1ab8" opacity="0.75"/>
<circle cx="622.93" cy="196.43" r="0.65" fill="#1a1ab8" opacity="0.75"/>
<circle cx="619.76" cy="187.39" r="0.63" fill="#1a1ab8" opacity="0.75"/>
<circle cx="641.69" cy="229.61" r="0.52" fill="#1a1ab8" opacity="0.75"/>
<circle cx="641.41" cy="210.59" r="0.51" fill="#1a1ab8" opacity="0.75"/>
<circle cx="676.83" cy="199.57" r="0.53" fill="#1a1ab8" opacity="0.75"/>
<circle cx="645.9" cy="196.22" r="0.69" fill="#1a1ab8" opacity="0.75"/>
<circle cx="637.82" cy="193.68" r="0.52" fill="#1a1ab8" opacity="0.75"/>
<circle cx="661.84" cy="203.06" r="0.74" fill="#1a1ab8" opacity="0.75"/>
<circle cx="645.32" cy="243.84" r="0.59" fill="#1a1ab8" opacity="0.75"/>
<circle cx="631.75" cy="202.48" r="0.74" fill="#1a1ab8" opacity="0.75"/>
<circle cx="655.63" cy="207.37" r="0.53" fill="#1a1ab8" opacity="0.75"/>
<circle cx="658.99" cy="246.09" r="0.68" fill="#1a1ab8" opacity="0.75"/>
<circle cx="616.23" cy="187.88" r="0.53" fill="#1a1ab8" opacity="0.75"/>
<circle cx="626.73" cy="188.27" r="0.52" fill="#1a1ab8" opacity="0.75"/>
<circle cx="657.22" cy="241.82" r="0.56" fill="#1a1ab8" opacity="0.75"/>
<circle cx="677.35" cy="215.57" r="0.74" fill="#1a1ab8" opacity="0.75"/>
<circle cx="673.79" cy="244.29" r="0.51" fill="#1a1ab8" opacity="0.75"/>
<circle cx="635.2" cy="223.63" r="0.78" fill="#1a1ab8" opacity="0.75"/>
<circle cx="621.53" cy="204.19" r="0.75" fill="#1a1ab8" opacity="0.75"/>
<circle cx="623.22" cy="210.17" r="0.6" fill="#1a1ab8" opacity="0.75"/>
<circle cx="658.84" cy="243.57" r="0.55" fill="#1a1ab8" opacity="0.75"/>
<g clip-path="url(#ct5)">
<path d="M376.7 321 C381.2 317 388.2 314.5 400.2 313 S418.2 311 427.2 308.5 L427.2 321 Z" fill="#1a28ff" filter="url(#bl05)"/>
<path d="M416.29 317.07h1.6v1.6h-1.6zM419.65 315.63h1.6v1.6h-1.6zM422.72 314.1h1.6v1.6h-1.6zM404.92 313.04h1.6v1.6h-1.6zM417.68 315.04h1.6v1.6h-1.6zM399.83 312.56h1.6v1.6h-1.6zM415.62 316.05h1.6v1.6h-1.6zM415.27 314.29h1.6v1.6h-1.6zM407.45 312.43h1.6v1.6h-1.6zM415.27 311.38h1.6v1.6h-1.6zM406.74 317.27h1.6v1.6h-1.6zM414.11 311.98h1.6v1.6h-1.6zM398.7 317.95h1.6v1.6h-1.6zM412.88 318.23h1.6v1.6h-1.6zM420.93 314.8h1.6v1.6h-1.6zM421.79 317.06h1.6v1.6h-1.6zM402.08 314.16h1.6v1.6h-1.6zM392.92 314.39h1.6v1.6h-1.6zM423.85 312.04h1.6v1.6h-1.6zM410.31 312.08h1.6v1.6h-1.6zM393.23 316.39h1.6v1.6h-1.6zM398.82 311.59h1.6v1.6h-1.6zM395.74 316.36h1.6v1.6h-1.6zM410.89 311.29h1.6v1.6h-1.6zM398.45 318.94h1.6v1.6h-1.6z" fill="#0c1490" opacity="0.7"/>
</g>
<g clip-path="url(#ct7)">
<path d="M560.6 321 C565.1 317 572.1 314.5 584.1 313 S602.1 311 611.1 308.5 L611.1 321 Z" fill="#1a28ff" filter="url(#bl05)"/>
<path d="M582 315.7h1.6v1.6h-1.6zM588.99 317.45h1.6v1.6h-1.6zM595.45 317.51h1.6v1.6h-1.6zM593.03 312.71h1.6v1.6h-1.6zM580.52 311.83h1.6v1.6h-1.6zM603.19 312.1h1.6v1.6h-1.6zM575.14 318.93h1.6v1.6h-1.6zM581.27 318.35h1.6v1.6h-1.6zM577.3 314.92h1.6v1.6h-1.6zM582.1 317.84h1.6v1.6h-1.6zM595.84 316.33h1.6v1.6h-1.6zM600.95 318.17h1.6v1.6h-1.6zM586.41 316.02h1.6v1.6h-1.6zM589.9 312.09h1.6v1.6h-1.6zM603.54 315.96h1.6v1.6h-1.6zM602.82 312.85h1.6v1.6h-1.6zM593.17 314.91h1.6v1.6h-1.6zM599.78 311.82h1.6v1.6h-1.6zM586.42 315.08h1.6v1.6h-1.6zM576.8 315.62h1.6v1.6h-1.6zM600.04 314.58h1.6v1.6h-1.6zM596.99 316.05h1.6v1.6h-1.6zM581.8 314h1.6v1.6h-1.6zM609.15 313.88h1.6v1.6h-1.6zM589.38 311.87h1.6v1.6h-1.6z" fill="#0c1490" opacity="0.7"/>
</g>
<g clip-path="url(#ct6)">
<ellipse cx="503" cy="326" rx="36" ry="20.5" fill="#0c3a08" stroke="#7cc020" stroke-width="0.8"/>
<path d="M482.94 310.17h1.3v1.3h-1.3zM514.31 316.34h1.3v1.3h-1.3zM511.84 319.2h1.3v1.3h-1.3zM500.28 318.59h1.3v1.3h-1.3zM496.92 312.96h1.3v1.3h-1.3zM515.06 318.28h1.3v1.3h-1.3zM515.13 313.68h1.3v1.3h-1.3zM507.38 312.83h1.3v1.3h-1.3zM517.23 318.47h1.3v1.3h-1.3zM486.2 318.63h1.3v1.3h-1.3zM481.47 309.4h1.3v1.3h-1.3zM505.13 311.59h1.3v1.3h-1.3zM496.21 315.38h1.3v1.3h-1.3zM475.13 316.55h1.3v1.3h-1.3zM485.49 313.11h1.3v1.3h-1.3zM488.52 316.51h1.3v1.3h-1.3zM506.21 311.51h1.3v1.3h-1.3zM477.9 311.64h1.3v1.3h-1.3zM491.44 309.2h1.3v1.3h-1.3zM480.09 316.74h1.3v1.3h-1.3zM504.17 319.09h1.3v1.3h-1.3zM516.45 317.99h1.3v1.3h-1.3zM489.74 310.12h1.3v1.3h-1.3zM487.08 313.44h1.3v1.3h-1.3zM496.49 314.31h1.3v1.3h-1.3zM489.18 317.73h1.3v1.3h-1.3zM485.9 313.44h1.3v1.3h-1.3zM512.37 317.23h1.3v1.3h-1.3zM486.44 311.02h1.3v1.3h-1.3zM508.84 308.46h1.3v1.3h-1.3zM479.14 314.19h1.3v1.3h-1.3zM496.93 310.17h1.3v1.3h-1.3zM475.56 310.59h1.3v1.3h-1.3zM507.23 313.47h1.3v1.3h-1.3zM516.44 316.99h1.3v1.3h-1.3zM516.44 308.74h1.3v1.3h-1.3zM481.49 308.5h1.3v1.3h-1.3zM492.37 312.07h1.3v1.3h-1.3zM475.61 314.36h1.3v1.3h-1.3zM477.48 311.78h1.3v1.3h-1.3zM484.23 317.17h1.3v1.3h-1.3zM491.75 311.21h1.3v1.3h-1.3zM475.29 313.08h1.3v1.3h-1.3zM500.96 315.78h1.3v1.3h-1.3zM513.5 317.24h1.3v1.3h-1.3zM484.23 309.84h1.3v1.3h-1.3zM506.72 317.03h1.3v1.3h-1.3zM495.74 317.49h1.3v1.3h-1.3zM497.63 311.43h1.3v1.3h-1.3zM480.77 308.54h1.3v1.3h-1.3zM501.65 318.22h1.3v1.3h-1.3zM513.22 313.49h1.3v1.3h-1.3zM502.63 318.56h1.3v1.3h-1.3zM509.17 314.98h1.3v1.3h-1.3zM491.58 314.05h1.3v1.3h-1.3zM480.86 310.36h1.3v1.3h-1.3zM503.44 319.26h1.3v1.3h-1.3zM497.42 312.84h1.3v1.3h-1.3zM488.83 313.35h1.3v1.3h-1.3zM508.68 313.33h1.3v1.3h-1.3zM515.56 310.06h1.3v1.3h-1.3zM487.21 314.09h1.3v1.3h-1.3zM491.47 317.71h1.3v1.3h-1.3zM509.76 318.59h1.3v1.3h-1.3zM500.3 308.69h1.3v1.3h-1.3zM498.63 314.4h1.3v1.3h-1.3zM494.8 311.43h1.3v1.3h-1.3zM504.56 318.38h1.3v1.3h-1.3zM477.86 315.71h1.3v1.3h-1.3zM489.69 314.01h1.3v1.3h-1.3z" fill="#1f7a18" opacity="0.8"/>
</g>
<rect x="520.6" y="253.3" width="23.1" height="22.7" fill="none" stroke="#3c9494" stroke-width="0.9"/>
<line x1="543.7" y1="276" x2="611.5" y2="320.5" stroke="#48a8a8" stroke-width="0.8"/>
<line x1="543.7" y1="253.2" x2="612" y2="253.2" stroke="#48a8a8" stroke-width="0.8"/>
<line x1="610.6" y1="183.6" x2="610.6" y2="250.8" stroke="#fff" stroke-width="0"/>
<rect x="396.1" y="249.5" width="30.3" height="1.3" fill="#e01010"/>
<rect x="408.4" y="247.8" width="2.4" height="1.4" fill="#b01010" opacity="0.8"/>
<rect x="411.6" y="248" width="2.2" height="1.2" fill="#b01010" opacity="0.8"/>
<rect x="396.1" y="319" width="30.3" height="1.3" fill="#e01010"/>
<rect x="408.4" y="317.3" width="2.4" height="1.4" fill="#b01010" opacity="0.8"/>
<rect x="411.6" y="317.5" width="2.2" height="1.2" fill="#b01010" opacity="0.8"/>
<rect x="488" y="249.5" width="30.3" height="1.3" fill="#e01010"/>
<rect x="500.3" y="247.8" width="2.4" height="1.4" fill="#b01010" opacity="0.8"/>
<rect x="503.5" y="248" width="2.2" height="1.2" fill="#b01010" opacity="0.8"/>
<rect x="488" y="319" width="30.3" height="1.3" fill="#e01010"/>
<rect x="500.3" y="317.3" width="2.4" height="1.4" fill="#b01010" opacity="0.8"/>
<rect x="503.5" y="317.5" width="2.2" height="1.2" fill="#b01010" opacity="0.8"/>
<rect x="580.1" y="249.5" width="30.3" height="1.3" fill="#e01010"/>
<rect x="592.4" y="247.8" width="2.4" height="1.4" fill="#b01010" opacity="0.8"/>
<rect x="595.6" y="248" width="2.2" height="1.2" fill="#b01010" opacity="0.8"/>
<rect x="580.1" y="319" width="30.3" height="1.3" fill="#e01010"/>
<rect x="592.4" y="317.3" width="2.4" height="1.4" fill="#b01010" opacity="0.8"/>
<rect x="595.6" y="317.5" width="2.2" height="1.2" fill="#b01010" opacity="0.8"/>
<text x="3.6" y="352.9" font-size="13.5" font-weight="bold">F</text>
<g transform="translate(0 0)">
<path d="M60 383.2 C48 383.6 30 384 10.5 387.2 L10.5 387.8 C30 385.4 48 385.4 60.5 385.6 Z" fill="#efbab2"/>
<path d="M66 388.5 l4.5 0.3 l2.6 1.8 l-1 0.6 l-2.4 -0.6 l-1 0.9 l-3.3 -0.6 z" fill="#e8aaa2"/>
<path d="M91 385 l3 1 l2.8 1.4 l-0.8 0.7 l-2.4 -0.5 l-0.6 0.9 l-2.8 -0.8 z" fill="#e8aaa2"/>
<path d="M61.4 387.4 C57.8 384.4 57.3 376.4 60.8 371.4 C63.8 366.9 69.8 364.4 76.3 364.2 C83.8 363.9 89.8 364.2 93.8 365.5 C97.8 366.6 101.8 370.4 104.7 374.3 C105 375.7 104 377 102.5 377.3 C99.3 378 96.8 378.9 95.5 380.4 C93.8 382.4 93.3 384.9 92 386.5 C87.8 388.4 83.8 388.6 80.6 388.3 C75.8 388.2 71.8 389.4 70 389.9 C66.3 389.6 63.3 388.9 61.4 387.4 Z" fill="#f3c9c1" stroke="#e6b2aa" stroke-width="0.35"/>
<path d="M64 386 C68 381 76 380 82 383 C80 387.5 70 388.5 64 386 Z" fill="#eab6ae" opacity="0.5"/>
<ellipse cx="91.2" cy="363.6" rx="2.4" ry="2.3" fill="#d9aaa0"/>
<ellipse cx="87.9" cy="367.2" rx="3.1" ry="3.4" fill="#f9e0da" stroke="#e8beb6" stroke-width="0.3"/>
<ellipse cx="88.2" cy="367.6" rx="1.6" ry="2.0" fill="#f0cac4"/>
<circle cx="96.8" cy="371.2" r="0.85" fill="#8a1a1a"/>
<circle cx="104.6" cy="374.6" r="0.7" fill="#e0a0a0"/>
<ellipse cx="85" cy="380.8" rx="3.9" ry="3.2" fill="#d42020"/>
<ellipse cx="85" cy="380.8" rx="2.1" ry="1.7" fill="#f2c8a8"/>
<ellipse cx="85" cy="380.8" rx="1.0" ry="0.8" fill="#fbeee0"/>
</g>
<g transform="translate(-0.3 55)">
<path d="M60 383.2 C48 383.6 30 384 10.5 387.2 L10.5 387.8 C30 385.4 48 385.4 60.5 385.6 Z" fill="#efbab2"/>
<path d="M66 388.5 l4.5 0.3 l2.6 1.8 l-1 0.6 l-2.4 -0.6 l-1 0.9 l-3.3 -0.6 z" fill="#e8aaa2"/>
<path d="M91 385 l3 1 l2.8 1.4 l-0.8 0.7 l-2.4 -0.5 l-0.6 0.9 l-2.8 -0.8 z" fill="#e8aaa2"/>
<path d="M61.4 387.4 C57.8 384.4 57.3 376.4 60.8 371.4 C63.8 366.9 69.8 364.4 76.3 364.2 C83.8 363.9 89.8 364.2 93.8 365.5 C97.8 366.6 101.8 370.4 104.7 374.3 C105 375.7 104 377 102.5 377.3 C99.3 378 96.8 378.9 95.5 380.4 C93.8 382.4 93.3 384.9 92 386.5 C87.8 388.4 83.8 388.6 80.6 388.3 C75.8 388.2 71.8 389.4 70 389.9 C66.3 389.6 63.3 388.9 61.4 387.4 Z" fill="#f3c9c1" stroke="#e6b2aa" stroke-width="0.35"/>
<path d="M64 386 C68 381 76 380 82 383 C80 387.5 70 388.5 64 386 Z" fill="#eab6ae" opacity="0.5"/>
<ellipse cx="91.2" cy="363.6" rx="2.4" ry="2.3" fill="#d9aaa0"/>
<ellipse cx="87.9" cy="367.2" rx="3.1" ry="3.4" fill="#f9e0da" stroke="#e8beb6" stroke-width="0.3"/>
<ellipse cx="88.2" cy="367.6" rx="1.6" ry="2.0" fill="#f0cac4"/>
<circle cx="96.8" cy="371.2" r="0.85" fill="#8a1a1a"/>
<circle cx="104.6" cy="374.6" r="0.7" fill="#e0a0a0"/>
<ellipse cx="85" cy="380.8" rx="3.9" ry="3.2" fill="#d42020"/>
<ellipse cx="85" cy="380.8" rx="2.1" ry="1.7" fill="#f2c8a8"/>
<ellipse cx="85" cy="380.8" rx="1.0" ry="0.8" fill="#fbeee0"/>
</g>
<text x="75.9" y="400" font-size="9.4" fill="#111" text-anchor="middle" stroke="#111" stroke-width="0.21">sh-NC</text>
<text x="46.6" y="404.6" font-size="8.3" fill="#111" text-anchor="middle" stroke="#111" stroke-width="0.19">Nude</text>
<text x="47" y="413.2" font-size="8.3" fill="#111" text-anchor="middle" stroke="#111" stroke-width="0.19">Immunodeficiency</text>
<text x="78.2" y="458.7" font-size="9.4" fill="#111" text-anchor="middle" stroke="#111" stroke-width="0.21">sh-GPR4</text>
<text x="125.1" y="345.8" font-size="7.3" fill="#222" text-anchor="middle" stroke="#222" stroke-width="0.16">sh-NC</text>
<text x="154.6" y="345.8" font-size="7.3" fill="#222" text-anchor="middle" stroke="#222" stroke-width="0.16">sh-GPR4</text>
<rect x="117.6" y="346.8" width="48.5" height="121.4" fill="url(#bgF)"/>
<path d="M142.47 355.51C142.16 356.91 140.95 359.25 139.86 360.35C138.77 361.45 137.37 361.9 135.96 362.09C134.54 362.29 132.87 362.26 131.35 361.52C129.83 360.79 127.51 358.9 126.82 357.68C126.14 356.45 126.77 355.44 127.24 354.18C127.71 352.93 128.16 350.89 129.67 350.15C131.17 349.41 134.26 349.44 136.27 349.74C138.28 350.03 140.69 350.97 141.73 351.93C142.76 352.89 142.79 354.1 142.47 355.51Z" fill="#0c0c16" opacity="0.85" filter="url(#bl1)"/>
<path d="M141.79 357.69C141.81 358.84 140.71 359.61 139.64 360.47C138.57 361.33 136.75 362.5 135.38 362.87C134.01 363.24 132.69 363.11 131.44 362.68C130.2 362.26 128.68 361.54 127.91 360.29C127.15 359.05 126.39 356.63 126.83 355.22C127.27 353.81 129.1 352.53 130.56 351.83C132.03 351.14 134.12 350.77 135.62 351.06C137.11 351.35 138.51 352.46 139.54 353.57C140.57 354.68 141.78 356.54 141.79 357.69Z" fill="url(#tumF)"/>
<circle cx="139.39" cy="357.32" r="1.37" fill="#a03c3c" opacity="0.6"/>
<circle cx="133.87" cy="356.08" r="0.88" fill="#e4b8ac" opacity="0.6"/>
<circle cx="134.21" cy="357.7" r="1.31" fill="#a03c3c" opacity="0.6"/>
<circle cx="130.8" cy="359.56" r="1.01" fill="#e4b8ac" opacity="0.6"/>
<circle cx="138.48" cy="356.43" r="0.7" fill="#a03c3c" opacity="0.6"/>
<circle cx="135.47" cy="361.22" r="1.08" fill="#e4b8ac" opacity="0.6"/>
<circle cx="136.31" cy="357.18" r="0.76" fill="#a03c3c" opacity="0.6"/>
<path d="M165.19 358.14C165.18 359.22 164.17 360.15 163.28 361.14C162.4 362.13 161.29 363.86 159.88 364.08C158.47 364.3 156 363.12 154.8 362.47C153.59 361.82 153.21 361.16 152.67 360.18C152.13 359.19 151.26 357.76 151.55 356.57C151.84 355.38 153.14 353.75 154.43 353.05C155.72 352.35 157.81 352.1 159.29 352.36C160.77 352.63 162.34 353.67 163.32 354.64C164.31 355.6 165.2 357.05 165.19 358.14Z" fill="#0c0c16" opacity="0.85" filter="url(#bl1)"/>
<path d="M163.53 359.92C163.5 361.15 163.09 361.98 162.44 362.96C161.79 363.93 160.94 365.56 159.64 365.75C158.34 365.93 155.84 364.87 154.65 364.06C153.45 363.25 152.97 361.95 152.48 360.91C151.99 359.86 151.22 358.75 151.71 357.8C152.21 356.85 154.1 355.72 155.45 355.21C156.8 354.7 158.59 354.7 159.79 354.75C161 354.81 162.04 354.68 162.66 355.54C163.29 356.4 163.57 358.68 163.53 359.92Z" fill="url(#tumF)"/>
<circle cx="157.4" cy="360.72" r="0.76" fill="#a03c3c" opacity="0.6"/>
<circle cx="160.1" cy="360.92" r="0.89" fill="#e4b8ac" opacity="0.6"/>
<circle cx="156.72" cy="358.84" r="1.06" fill="#a03c3c" opacity="0.6"/>
<circle cx="160" cy="359.21" r="1.16" fill="#e4b8ac" opacity="0.6"/>
<circle cx="158.52" cy="359.17" r="0.82" fill="#a03c3c" opacity="0.6"/>
<circle cx="160.92" cy="357.95" r="0.9" fill="#e4b8ac" opacity="0.6"/>
<circle cx="159.17" cy="362.39" r="1.45" fill="#a03c3c" opacity="0.6"/>
<path d="M137.69 380.08C137.76 381.86 135.76 385.01 134.48 386.26C133.2 387.52 131.6 387.28 130 387.6C128.41 387.91 126.52 388.77 124.89 388.17C123.26 387.56 121.11 385.55 120.22 383.97C119.34 382.39 118.9 380.26 119.6 378.68C120.29 377.1 122.82 375.42 124.41 374.5C125.99 373.58 127.49 372.98 129.09 373.16C130.7 373.34 132.6 374.44 134.03 375.59C135.46 376.74 137.61 378.3 137.69 380.08Z" fill="#0c0c16" opacity="0.85" filter="url(#bl1)"/>
<path d="M136.99 382.74C136.75 384.13 135.29 386.02 133.88 387.1C132.46 388.17 129.92 388.9 128.48 389.19C127.04 389.48 126.44 389.55 125.24 388.83C124.03 388.11 122.05 386.19 121.25 384.87C120.44 383.54 119.87 382.21 120.41 380.89C120.95 379.56 123.02 377.92 124.5 376.93C125.98 375.93 127.49 374.6 129.29 374.9C131.1 375.2 134.05 377.42 135.34 378.72C136.62 380.03 137.24 381.34 136.99 382.74Z" fill="url(#tumF)"/>
<circle cx="126.88" cy="379.89" r="0.81" fill="#a03c3c" opacity="0.6"/>
<circle cx="128.2" cy="382.62" r="1.43" fill="#e4b8ac" opacity="0.6"/>
<circle cx="126.41" cy="378.04" r="0.72" fill="#a03c3c" opacity="0.6"/>
<circle cx="126.28" cy="380.79" r="1.28" fill="#e4b8ac" opacity="0.6"/>
<circle cx="125.7" cy="387.11" r="0.76" fill="#a03c3c" opacity="0.6"/>
<circle cx="124.04" cy="381.56" r="1.42" fill="#e4b8ac" opacity="0.6"/>
<circle cx="127.76" cy="379.11" r="1.33" fill="#a03c3c" opacity="0.6"/>
<path d="M161.19 381.4C161.09 382.83 160.9 384.46 159.88 385.41C158.85 386.36 156.59 386.95 155.02 387.1C153.46 387.25 151.64 387.04 150.47 386.32C149.31 385.6 148.44 384.06 148.03 382.76C147.63 381.47 147.45 379.8 148.05 378.54C148.64 377.27 150.25 375.99 151.61 375.17C152.96 374.36 154.7 373.37 156.17 373.65C157.65 373.92 159.64 375.53 160.48 376.83C161.31 378.12 161.29 379.97 161.19 381.4Z" fill="#0c0c16" opacity="0.85" filter="url(#bl1)"/>
<path d="M160.95 382.18C161.06 383.61 160 385.53 158.96 386.51C157.92 387.49 156.02 387.97 154.71 388.06C153.41 388.14 152.21 387.63 151.15 387.02C150.09 386.4 148.88 385.43 148.34 384.36C147.81 383.3 147.48 381.91 147.94 380.65C148.39 379.39 149.71 377.45 151.06 376.8C152.41 376.14 154.85 376.55 156.06 376.74C157.26 376.92 157.47 377.01 158.28 377.91C159.1 378.82 160.84 380.75 160.95 382.18Z" fill="url(#tumF)"/>
<circle cx="153.91" cy="381.6" r="0.84" fill="#a03c3c" opacity="0.6"/>
<circle cx="156.71" cy="380.77" r="1.05" fill="#e4b8ac" opacity="0.6"/>
<circle cx="155.42" cy="381.49" r="1.23" fill="#a03c3c" opacity="0.6"/>
<circle cx="154.91" cy="384.2" r="1.34" fill="#e4b8ac" opacity="0.6"/>
<circle cx="157.63" cy="380.4" r="1.01" fill="#a03c3c" opacity="0.6"/>
<circle cx="153.09" cy="381.71" r="0.81" fill="#e4b8ac" opacity="0.6"/>
<circle cx="150.61" cy="382.49" r="1.38" fill="#a03c3c" opacity="0.6"/>
<path d="M142.39 404.51C142.38 405.58 141.06 406.57 139.8 407.45C138.54 408.33 136.52 409.45 134.84 409.78C133.17 410.12 131.35 410.1 129.75 409.46C128.14 408.82 126.05 407.13 125.22 405.94C124.38 404.74 123.9 403.5 124.72 402.27C125.55 401.04 128.69 399.19 130.18 398.57C131.67 397.95 132.06 398.15 133.67 398.56C135.28 398.97 138.41 400.03 139.86 401.02C141.32 402.02 142.4 403.44 142.39 404.51Z" fill="#0c0c16" opacity="0.85" filter="url(#bl1)"/>
<path d="M141.12 406.26C141.05 407.47 140.83 408.78 139.86 409.55C138.89 410.31 137.01 410.71 135.29 410.84C133.57 410.97 131.13 410.91 129.54 410.31C127.95 409.7 126.31 408.16 125.74 407.22C125.16 406.29 125.48 405.74 126.08 404.69C126.67 403.64 127.87 401.68 129.32 400.92C130.77 400.16 132.93 399.89 134.76 400.12C136.59 400.35 139.24 401.27 140.3 402.3C141.36 403.32 141.19 405.05 141.12 406.26Z" fill="url(#tumF)"/>
<circle cx="132.55" cy="405.17" r="1.08" fill="#a03c3c" opacity="0.6"/>
<circle cx="133.03" cy="405.94" r="1.08" fill="#e4b8ac" opacity="0.6"/>
<circle cx="132.77" cy="405.2" r="0.92" fill="#a03c3c" opacity="0.6"/>
<circle cx="130.79" cy="408.2" r="1.12" fill="#e4b8ac" opacity="0.6"/>
<circle cx="129.81" cy="403.92" r="1.01" fill="#a03c3c" opacity="0.6"/>
<circle cx="134.31" cy="402.41" r="0.77" fill="#e4b8ac" opacity="0.6"/>
<circle cx="136.68" cy="404.71" r="0.8" fill="#a03c3c" opacity="0.6"/>
<path d="M163.53 405.71C163.28 407.08 162.21 409.2 161.31 410.32C160.41 411.44 159.47 412.24 158.12 412.4C156.78 412.57 154.4 412.04 153.22 411.32C152.04 410.6 151.46 409.27 151.06 408.07C150.66 406.87 150.24 405.48 150.8 404.12C151.36 402.76 153.14 400.63 154.43 399.94C155.71 399.25 157.14 399.6 158.53 399.96C159.92 400.32 161.95 401.13 162.78 402.09C163.61 403.05 163.77 404.34 163.53 405.71Z" fill="#0c0c16" opacity="0.85" filter="url(#bl1)"/>
<path d="M162.59 408.46C162.6 409.83 161.64 410.72 160.72 411.66C159.81 412.6 158.18 413.98 157.12 414.1C156.07 414.23 155.37 413.11 154.4 412.39C153.43 411.67 151.8 410.99 151.32 409.78C150.84 408.56 151.27 406.32 151.54 405.11C151.82 403.9 152.03 403.18 152.96 402.53C153.88 401.87 155.78 401.02 157.07 401.17C158.36 401.33 159.78 402.27 160.7 403.48C161.62 404.7 162.59 407.1 162.59 408.46Z" fill="url(#tumF)"/>
<circle cx="156.93" cy="407.03" r="0.82" fill="#a03c3c" opacity="0.6"/>
<circle cx="153.88" cy="407.29" r="1.37" fill="#e4b8ac" opacity="0.6"/>
<circle cx="155.36" cy="403.92" r="1.09" fill="#a03c3c" opacity="0.6"/>
<circle cx="157.13" cy="407.49" r="0.88" fill="#e4b8ac" opacity="0.6"/>
<circle cx="155.64" cy="407.4" r="1.28" fill="#a03c3c" opacity="0.6"/>
<circle cx="155.43" cy="405.92" r="1.37" fill="#e4b8ac" opacity="0.6"/>
<circle cx="155.62" cy="407.12" r="1" fill="#a03c3c" opacity="0.6"/>
<path d="M141.3 428.45C141.42 429.85 141.11 430.81 139.65 431.82C138.2 432.83 134.52 434.29 132.59 434.52C130.66 434.76 129.49 434 128.1 433.23C126.72 432.47 124.79 431.27 124.28 429.96C123.76 428.65 124.2 426.79 125 425.36C125.81 423.93 127.69 422.16 129.12 421.38C130.55 420.59 131.95 420.3 133.58 420.65C135.22 420.99 137.62 422.13 138.9 423.43C140.19 424.73 141.17 427.05 141.3 428.45Z" fill="#0c0c16" opacity="0.85" filter="url(#bl1)"/>
<path d="M139.15 429.83C139.12 431.06 139.08 432.51 137.94 433.65C136.81 434.79 133.9 436.38 132.33 436.66C130.76 436.93 129.74 436.02 128.51 435.3C127.28 434.58 125.69 433.82 124.95 432.35C124.21 430.87 123.55 427.81 124.08 426.44C124.61 425.07 126.7 424.74 128.13 424.14C129.56 423.54 131.01 422.48 132.67 422.84C134.34 423.2 137.05 425.14 138.13 426.3C139.21 427.47 139.19 428.61 139.15 429.83Z" fill="url(#tumF)"/>
<circle cx="132.02" cy="429.4" r="0.86" fill="#a03c3c" opacity="0.6"/>
<circle cx="132.55" cy="432.59" r="0.96" fill="#e4b8ac" opacity="0.6"/>
<circle cx="129.87" cy="431.73" r="0.78" fill="#a03c3c" opacity="0.6"/>
<circle cx="131.92" cy="428.95" r="1.11" fill="#e4b8ac" opacity="0.6"/>
<circle cx="132" cy="430.4" r="1.12" fill="#a03c3c" opacity="0.6"/>
<circle cx="130.06" cy="430.16" r="1.03" fill="#e4b8ac" opacity="0.6"/>
<circle cx="131.12" cy="429.37" r="0.86" fill="#a03c3c" opacity="0.6"/>
<path d="M161.05 430.88C161.22 432.46 160.53 434.18 159.5 435.33C158.47 436.49 156.33 437.53 154.85 437.82C153.38 438.11 152.03 437.97 150.64 437.07C149.24 436.18 147.06 433.86 146.49 432.46C145.92 431.06 146.42 429.98 147.21 428.66C147.99 427.34 149.68 425.36 151.18 424.52C152.68 423.69 154.98 423.44 156.2 423.65C157.42 423.87 157.69 424.62 158.5 425.82C159.31 427.02 160.88 429.29 161.05 430.88Z" fill="#0c0c16" opacity="0.85" filter="url(#bl1)"/>
<path d="M159.7 432.82C159.8 434.11 160.27 435.21 159.47 436.29C158.67 437.37 156.31 438.98 154.89 439.32C153.46 439.66 152.08 439.18 150.92 438.31C149.76 437.44 148.59 435.37 147.91 434.09C147.23 432.81 146.39 432.04 146.84 430.63C147.3 429.22 149.46 426.44 150.64 425.64C151.81 424.83 152.52 425.32 153.89 425.8C155.26 426.29 157.9 427.39 158.87 428.56C159.84 429.73 159.6 431.53 159.7 432.82Z" fill="url(#tumF)"/>
<circle cx="153.15" cy="431.6" r="0.76" fill="#a03c3c" opacity="0.6"/>
<circle cx="153.64" cy="432.51" r="1.14" fill="#e4b8ac" opacity="0.6"/>
<circle cx="150.88" cy="432.16" r="0.82" fill="#a03c3c" opacity="0.6"/>
<circle cx="153.88" cy="433.26" r="1.37" fill="#e4b8ac" opacity="0.6"/>
<circle cx="157.77" cy="432.13" r="0.78" fill="#a03c3c" opacity="0.6"/>
<circle cx="157.57" cy="434.07" r="1.07" fill="#e4b8ac" opacity="0.6"/>
<circle cx="153.64" cy="430.9" r="1.07" fill="#a03c3c" opacity="0.6"/>
<path d="M137.4 453.24C137.17 454.87 136.08 456.68 134.85 458.05C133.62 459.42 131.58 461.1 130.02 461.48C128.46 461.86 127.01 461.36 125.5 460.33C123.99 459.31 121.66 456.84 120.95 455.33C120.24 453.82 120.53 452.7 121.22 451.3C121.91 449.89 123.38 447.88 125.11 446.88C126.83 445.87 129.72 445.04 131.57 445.27C133.42 445.5 135.26 446.9 136.23 448.23C137.2 449.56 137.63 451.6 137.4 453.24Z" fill="#0c0c16" opacity="0.85" filter="url(#bl1)"/>
<path d="M136.51 455.29C136.45 456.85 135.94 458.75 134.68 460.06C133.42 461.37 130.59 462.74 128.96 463.15C127.32 463.56 126.28 463.51 124.87 462.52C123.46 461.52 121.03 458.99 120.49 457.21C119.95 455.42 120.84 453.45 121.64 451.81C122.43 450.17 123.76 448.16 125.26 447.38C126.77 446.6 129.03 446.58 130.67 447.13C132.3 447.68 134.1 449.33 135.07 450.69C136.04 452.05 136.58 453.73 136.51 455.29Z" fill="url(#tumF)"/>
<circle cx="128.63" cy="454.63" r="0.97" fill="#a03c3c" opacity="0.6"/>
<circle cx="128.64" cy="455.01" r="0.98" fill="#e4b8ac" opacity="0.6"/>
<circle cx="126.45" cy="452.46" r="0.89" fill="#a03c3c" opacity="0.6"/>
<circle cx="132.2" cy="453.78" r="0.97" fill="#e4b8ac" opacity="0.6"/>
<circle cx="126.98" cy="452.45" r="1.13" fill="#a03c3c" opacity="0.6"/>
<circle cx="124.4" cy="458.41" r="1.21" fill="#e4b8ac" opacity="0.6"/>
<circle cx="127.4" cy="451.14" r="1.48" fill="#a03c3c" opacity="0.6"/>
<path d="M161.08 453.37C160.85 454.92 159.35 457.9 158.06 459.15C156.76 460.4 155.03 460.59 153.29 460.85C151.54 461.11 149.25 461.28 147.6 460.72C145.95 460.16 144.14 459.08 143.37 457.48C142.59 455.89 142.46 452.77 142.97 451.15C143.47 449.54 144.66 448.49 146.42 447.78C148.17 447.07 151.32 446.54 153.49 446.88C155.65 447.23 158.13 448.77 159.4 449.85C160.66 450.93 161.3 451.82 161.08 453.37Z" fill="#0c0c16" opacity="0.85" filter="url(#bl1)"/>
<path d="M160.34 455.32C160.16 456.84 158.38 459.26 156.92 460.44C155.46 461.63 153.21 462.24 151.58 462.44C149.94 462.64 148.63 462.29 147.12 461.65C145.61 461.01 143.46 459.77 142.52 458.6C141.58 457.42 140.81 455.96 141.47 454.58C142.13 453.21 144.57 451.16 146.49 450.36C148.4 449.55 151.05 449.59 152.96 449.76C154.87 449.92 156.72 450.4 157.95 451.33C159.18 452.26 160.51 453.8 160.34 455.32Z" fill="url(#tumF)"/>
<circle cx="149.54" cy="455.7" r="1.27" fill="#a03c3c" opacity="0.6"/>
<circle cx="151.17" cy="456.26" r="0.9" fill="#e4b8ac" opacity="0.6"/>
<circle cx="152.15" cy="456.4" r="1.3" fill="#a03c3c" opacity="0.6"/>
<circle cx="146.85" cy="458.93" r="1.3" fill="#e4b8ac" opacity="0.6"/>
<circle cx="157.12" cy="457.66" r="1.46" fill="#a03c3c" opacity="0.6"/>
<circle cx="156.31" cy="458.12" r="1.04" fill="#e4b8ac" opacity="0.6"/>
<circle cx="145.13" cy="456.86" r="0.89" fill="#a03c3c" opacity="0.6"/>
<line x1="199.7" y1="361.5" x2="199.7" y2="444.7" stroke="#111" stroke-width="1"/>
<line x1="197.2" y1="444.2" x2="199.7" y2="444.2" stroke="#111" stroke-width="0.9"/>
<text x="196.7" y="446.3" font-size="6" font-weight="bold" fill="#222" text-anchor="end">0</text>
<line x1="197.2" y1="416.63" x2="199.7" y2="416.63" stroke="#111" stroke-width="0.9"/>
<text x="196.7" y="418.73" font-size="6" font-weight="bold" fill="#222" text-anchor="end">500</text>
<line x1="197.2" y1="389.07" x2="199.7" y2="389.07" stroke="#111" stroke-width="0.9"/>
<text x="196.7" y="391.17" font-size="6" font-weight="bold" fill="#222" text-anchor="end">1000</text>
<line x1="197.2" y1="361.5" x2="199.7" y2="361.5" stroke="#111" stroke-width="0.9"/>
<text x="196.7" y="363.6" font-size="6" font-weight="bold" fill="#222" text-anchor="end">1500</text>
<line x1="199.7" y1="444.2" x2="325.3" y2="444.2" stroke="#111" stroke-width="1"/>
<line x1="217.2" y1="444.2" x2="217.2" y2="446.7" stroke="#111" stroke-width="0.9"/>
<text x="217.2" y="453.8" font-size="6.4" font-weight="bold" fill="#222" text-anchor="middle">6</text>
<line x1="240.1" y1="444.2" x2="240.1" y2="446.7" stroke="#111" stroke-width="0.9"/>
<text x="240.1" y="453.8" font-size="6.4" font-weight="bold" fill="#222" text-anchor="middle">9</text>
<line x1="263.4" y1="444.2" x2="263.4" y2="446.7" stroke="#111" stroke-width="0.9"/>
<text x="263.4" y="453.8" font-size="6.4" font-weight="bold" fill="#222" text-anchor="middle">12</text>
<line x1="286.1" y1="444.2" x2="286.1" y2="446.7" stroke="#111" stroke-width="0.9"/>
<text x="286.1" y="453.8" font-size="6.4" font-weight="bold" fill="#222" text-anchor="middle">15</text>
<line x1="309.5" y1="444.2" x2="309.5" y2="446.7" stroke="#111" stroke-width="0.9"/>
<text x="309.5" y="453.8" font-size="6.4" font-weight="bold" fill="#222" text-anchor="middle">18</text>
<text x="263.4" y="467.6" font-size="6.6" font-weight="bold" fill="#222" text-anchor="middle">Days</text>
<text x="180.8" y="402" font-size="6.6" font-weight="bold" fill="#222" text-anchor="middle" transform="rotate(-90 180.8 402)">Tumor volume(mm<tspan font-size="4.3" dy="-2.4">3</tspan><tspan dy="2.4">)</tspan></text>
<line x1="263.4" y1="417.18" x2="263.4" y2="428.76" stroke="#4060c8" stroke-width="0.7"/>
<line x1="261.1" y1="417.18" x2="265.7" y2="417.18" stroke="#4060c8" stroke-width="0.7"/>
<line x1="261.1" y1="428.76" x2="265.7" y2="428.76" stroke="#4060c8" stroke-width="0.7"/>
<line x1="286.1" y1="392.93" x2="286.1" y2="418.29" stroke="#4060c8" stroke-width="0.7"/>
<line x1="283.8" y1="392.93" x2="288.4" y2="392.93" stroke="#4060c8" stroke-width="0.7"/>
<line x1="283.8" y1="418.29" x2="288.4" y2="418.29" stroke="#4060c8" stroke-width="0.7"/>
<line x1="309.5" y1="374.73" x2="309.5" y2="404.5" stroke="#4060c8" stroke-width="0.7"/>
<line x1="307.2" y1="374.73" x2="311.8" y2="374.73" stroke="#4060c8" stroke-width="0.7"/>
<line x1="307.2" y1="404.5" x2="311.8" y2="404.5" stroke="#4060c8" stroke-width="0.7"/>
<polyline points="217.2,443.37 240.1,436.76 263.4,423.8 286.1,406.16 309.5,389.62" fill="none" stroke="#4060c8" stroke-width="1"/>
<circle cx="217.2" cy="443.37" r="1.75" fill="#1f3fa8"/>
<circle cx="240.1" cy="436.76" r="1.75" fill="#1f3fa8"/>
<circle cx="263.4" cy="423.8" r="1.75" fill="#1f3fa8"/>
<circle cx="286.1" cy="406.16" r="1.75" fill="#1f3fa8"/>
<circle cx="309.5" cy="389.62" r="1.75" fill="#1f3fa8"/>
<line x1="263.4" y1="428.21" x2="263.4" y2="434.83" stroke="#f05040" stroke-width="0.7"/>
<line x1="261.1" y1="428.21" x2="265.7" y2="428.21" stroke="#f05040" stroke-width="0.7"/>
<line x1="261.1" y1="434.83" x2="265.7" y2="434.83" stroke="#f05040" stroke-width="0.7"/>
<line x1="286.1" y1="417.18" x2="286.1" y2="427.11" stroke="#f05040" stroke-width="0.7"/>
<line x1="283.8" y1="417.18" x2="288.4" y2="417.18" stroke="#f05040" stroke-width="0.7"/>
<line x1="283.8" y1="427.11" x2="288.4" y2="427.11" stroke="#f05040" stroke-width="0.7"/>
<line x1="309.5" y1="395.13" x2="309.5" y2="417.18" stroke="#f05040" stroke-width="0.7"/>
<line x1="307.2" y1="395.13" x2="311.8" y2="395.13" stroke="#f05040" stroke-width="0.7"/>
<line x1="307.2" y1="417.18" x2="311.8" y2="417.18" stroke="#f05040" stroke-width="0.7"/>
<polyline points="217.2,444.2 240.1,442.27 263.4,431.8 286.1,422.15 309.5,406.71" fill="none" stroke="#f05040" stroke-width="1"/>
<rect x="215.6" y="442.6" width="3.2" height="3.2" fill="#f02828"/>
<rect x="238.5" y="440.67" width="3.2" height="3.2" fill="#f02828"/>
<rect x="261.8" y="430.19" width="3.2" height="3.2" fill="#f02828"/>
<rect x="284.5" y="420.55" width="3.2" height="3.2" fill="#f02828"/>
<rect x="307.9" y="405.11" width="3.2" height="3.2" fill="#f02828"/>
<line x1="210.9" y1="367.1" x2="220.2" y2="367.1" stroke="#4060c8" stroke-width="1"/>
<circle cx="215.55" cy="367.1" r="1.6" fill="#1f3fa8"/>
<text x="223.8" y="369.3" font-size="6.3" fill="#222" stroke="#222" stroke-width="0.14">sh-NC</text>
<line x1="210.9" y1="378.4" x2="220.2" y2="378.4" stroke="#f05040" stroke-width="1"/>
<rect x="214.05" y="376.9" width="3" height="3" fill="#f02828"/>
<text x="223.8" y="380.6" font-size="6.3" fill="#222" stroke="#222" stroke-width="0.14">sh-GPR4</text>
<polyline points="316.5,388.9 320.9,388.9 320.9,406.9 316.5,406.9" fill="none" stroke="#111" stroke-width="1.1"/>
<text x="323.5" y="399.9" font-size="7.4" fill="#222" textLength="6.3" lengthAdjust="spacingAndGlyphs" stroke="#222" stroke-width="0.17">ns</text>
<text x="343.5" y="352.9" font-size="13.5" font-weight="bold">G</text>
<g transform="translate(0 0)">
<path d="M378.8 379.2 C372 386 364 390.5 343 392.4 L343 393.4 C364 393.4 374 390.8 380.2 385.2 Z" fill="#5a3826"/>
<path d="M386 388.5 l4.5 0.3 l2.6 1.8 l-1 0.6 l-2.4 -0.6 l-1 0.9 l-3.3 -0.6 z" fill="#a86c50"/>
<path d="M409.5 384.5 l3 1 l2.8 1.4 l-0.8 0.7 l-2.4 -0.5 l-0.6 0.9 l-2.8 -0.8 z" fill="#a86c50"/>
<path d="M380.5 387.4 C376 384 375 377 378 372 C381 366 386 362.8 391.9 362.2 C397 361.7 402 362 405 363 C410 364.8 415 366 419 367.3 C422 369 425 371 426.5 373 C427 374.5 425 375.5 422.5 376 C419.5 377 417 378 415.5 379.5 C413.5 381.5 412.5 383.5 411.2 385.2 C408 388 404 389 400.6 389.2 C396 389.5 392 390.5 389.3 390.9 C385.5 390 382.5 389 380.5 387.4 Z" fill="#3c3636"/>
<path d="M383 387 C388 382 396 381 403 384 C400 388.5 390 389.5 383 387 Z" fill="#2e2828" opacity="0.6"/>
<ellipse cx="408.5" cy="365.5" rx="3.9" ry="3.8" fill="#8a6a62"/>
<ellipse cx="409.6" cy="366.2" rx="1.6" ry="1.9" fill="#4a3a36"/>
<circle cx="418.6" cy="369.4" r="0.85" fill="#0c0c0c"/>
<circle cx="426.3" cy="373.4" r="0.8" fill="#c87c7a"/>
<circle cx="405" cy="377.8" r="4.4" fill="#ff3030" opacity="0.55" filter="url(#bl1)"/>
<circle cx="405" cy="377.8" r="3.0" fill="#ff2424" filter="url(#bl05)"/>
<circle cx="405" cy="377.8" r="1.4" fill="#ffdcdc" filter="url(#bl05)"/>
</g>
<g transform="translate(2.6 58)">
<path d="M378.8 379.2 C372 386 364 390.5 343 392.4 L343 393.4 C364 393.4 374 390.8 380.2 385.2 Z" fill="#5a3826"/>
<path d="M386 388.5 l4.5 0.3 l2.6 1.8 l-1 0.6 l-2.4 -0.6 l-1 0.9 l-3.3 -0.6 z" fill="#a86c50"/>
<path d="M409.5 384.5 l3 1 l2.8 1.4 l-0.8 0.7 l-2.4 -0.5 l-0.6 0.9 l-2.8 -0.8 z" fill="#a86c50"/>
<path d="M380.5 387.4 C376 384 375 377 378 372 C381 366 386 362.8 391.9 362.2 C397 361.7 402 362 405 363 C410 364.8 415 366 419 367.3 C422 369 425 371 426.5 373 C427 374.5 425 375.5 422.5 376 C419.5 377 417 378 415.5 379.5 C413.5 381.5 412.5 383.5 411.2 385.2 C408 388 404 389 400.6 389.2 C396 389.5 392 390.5 389.3 390.9 C385.5 390 382.5 389 380.5 387.4 Z" fill="#3c3636"/>
<path d="M383 387 C388 382 396 381 403 384 C400 388.5 390 389.5 383 387 Z" fill="#2e2828" opacity="0.6"/>
<ellipse cx="408.5" cy="365.5" rx="3.9" ry="3.8" fill="#8a6a62"/>
<ellipse cx="409.6" cy="366.2" rx="1.6" ry="1.9" fill="#4a3a36"/>
<circle cx="418.6" cy="369.4" r="0.85" fill="#0c0c0c"/>
<circle cx="426.3" cy="373.4" r="0.8" fill="#c87c7a"/>
<circle cx="405" cy="377.8" r="4.4" fill="#ff3030" opacity="0.55" filter="url(#bl1)"/>
<circle cx="405" cy="377.8" r="3.0" fill="#ff2424" filter="url(#bl05)"/>
<circle cx="405" cy="377.8" r="1.4" fill="#ffdcdc" filter="url(#bl05)"/>
</g>
<text x="403.6" y="402.2" font-size="9.4" fill="#111" text-anchor="middle" stroke="#111" stroke-width="0.21">sh-NC</text>
<text x="373.8" y="408" font-size="8.2" fill="#111" text-anchor="middle" stroke="#111" stroke-width="0.18">C57</text>
<text x="374" y="415.8" font-size="8.2" fill="#111" text-anchor="middle" stroke="#111" stroke-width="0.18">Immunocompetent</text>
<text x="405.7" y="461.2" font-size="9.4" fill="#111" text-anchor="middle" stroke="#111" stroke-width="0.21">sh-GPR4</text>
<text x="451.8" y="342.2" font-size="7.3" fill="#222" text-anchor="middle" stroke="#222" stroke-width="0.16">sh-NC</text>
<text x="481.3" y="342.2" font-size="7.3" fill="#222" text-anchor="middle" stroke="#222" stroke-width="0.16">sh-GPR4</text>
<rect x="444.3" y="343.2" width="47.5" height="128.3" fill="url(#bgG)"/>
<path d="M466.92 362.22C466.89 364.58 465.07 367.15 464.04 368.71C463.02 370.28 462.41 371.1 460.76 371.6C459.11 372.1 455.96 372.79 454.13 371.72C452.29 370.66 450.44 367.41 449.73 365.22C449.02 363.04 449.31 360.44 449.86 358.62C450.42 356.8 451.6 355.45 453.08 354.3C454.57 353.14 456.92 351.64 458.77 351.68C460.62 351.72 462.84 352.78 464.2 354.54C465.55 356.3 466.94 359.86 466.92 362.22Z" fill="#0a2a68" opacity="0.6" filter="url(#bl1)"/>
<path d="M465.09 360.69C465 362.57 464.24 365.14 463.14 366.54C462.05 367.94 459.64 367.98 458.52 369.09C457.39 370.21 457.45 373.44 456.4 373.23C455.34 373.03 453.75 369.48 452.19 367.87C450.63 366.26 447.57 364.82 447.02 363.58C446.47 362.34 448.2 361.7 448.88 360.45C449.56 359.2 449.97 357.16 451.12 356.08C452.27 354.99 454.38 354.09 455.78 353.95C457.17 353.82 458.2 355.04 459.51 355.26C460.82 355.49 462.71 354.38 463.64 355.28C464.57 356.19 465.17 358.82 465.09 360.69Z" fill="url(#tumG)"/>
<circle cx="454.74" cy="363.52" r="1.08" fill="#fde6e2" opacity="0.65"/>
<circle cx="454.52" cy="362.35" r="0.62" fill="#c85058" opacity="0.65"/>
<circle cx="455.74" cy="356.09" r="1.38" fill="#fbd4d0" opacity="0.65"/>
<circle cx="455.54" cy="360.12" r="0.89" fill="#d86a70" opacity="0.65"/>
<circle cx="455.21" cy="358.13" r="0.69" fill="#fde6e2" opacity="0.65"/>
<circle cx="456.68" cy="364.23" r="1.01" fill="#c85058" opacity="0.65"/>
<circle cx="457.45" cy="359.13" r="0.62" fill="#fbd4d0" opacity="0.65"/>
<circle cx="457.48" cy="359.61" r="1.02" fill="#d86a70" opacity="0.65"/>
<path d="M492.81 359.6C492.81 360.96 492.5 362.96 491.77 364.03C491.05 365.09 489.75 365.69 488.44 365.99C487.13 366.29 485.11 366.35 483.91 365.83C482.71 365.31 481.81 364.12 481.23 362.86C480.66 361.59 480.2 359.5 480.45 358.24C480.71 356.99 481.66 355.97 482.77 355.3C483.89 354.64 485.63 354.14 487.13 354.24C488.63 354.33 490.8 354.96 491.75 355.86C492.7 356.75 492.8 358.24 492.81 359.6Z" fill="#0a2a68" opacity="0.6" filter="url(#bl1)"/>
<path d="M491.84 359.76C491.98 360.88 491.8 362.09 491.03 362.82C490.26 363.54 488.47 363.54 487.22 364.11C485.98 364.69 484.38 366.27 483.55 366.26C482.72 366.25 482.88 364.95 482.25 364.04C481.63 363.14 480.08 361.72 479.81 360.86C479.54 360 480.52 359.72 480.63 358.89C480.74 358.07 479.75 356.91 480.49 355.92C481.22 354.93 483.95 353 485.02 352.97C486.08 352.95 486.01 355.25 486.88 355.78C487.74 356.3 489.38 355.45 490.21 356.11C491.04 356.78 491.71 358.64 491.84 359.76Z" fill="url(#tumG)"/>
<circle cx="486.16" cy="357.77" r="0.78" fill="#fde6e2" opacity="0.65"/>
<circle cx="483.26" cy="359.51" r="1.1" fill="#c85058" opacity="0.65"/>
<circle cx="484.72" cy="363.24" r="1.32" fill="#fbd4d0" opacity="0.65"/>
<circle cx="485.57" cy="360.7" r="1.3" fill="#d86a70" opacity="0.65"/>
<circle cx="484.38" cy="363.18" r="1.01" fill="#fde6e2" opacity="0.65"/>
<circle cx="484.13" cy="357.38" r="0.77" fill="#c85058" opacity="0.65"/>
<circle cx="484.79" cy="360.71" r="1.15" fill="#fbd4d0" opacity="0.65"/>
<circle cx="484.83" cy="359.35" r="1.31" fill="#d86a70" opacity="0.65"/>
<path d="M466.71 385.64C466.74 387.1 466.83 389.28 465.59 390.46C464.36 391.65 461.58 392.55 459.28 392.75C456.97 392.96 453.48 392.56 451.76 391.7C450.04 390.85 449.48 389.05 448.96 387.62C448.43 386.19 447.78 384.47 448.59 383.11C449.4 381.75 452.09 380.14 453.81 379.47C455.54 378.8 457.04 378.73 458.97 379.1C460.9 379.47 464.11 380.62 465.41 381.71C466.7 382.8 466.68 384.18 466.71 385.64Z" fill="#0a2a68" opacity="0.6" filter="url(#bl1)"/>
<path d="M465.6 384.49C465.76 385.88 464.82 388.75 463.77 390.12C462.73 391.49 460.84 392.28 459.33 392.7C457.81 393.12 455.97 393.15 454.7 392.63C453.43 392.11 452.72 390.48 451.71 389.6C450.7 388.73 449.34 388.55 448.65 387.4C447.96 386.25 447.31 383.88 447.58 382.7C447.85 381.52 449.22 380.93 450.28 380.35C451.35 379.77 452.33 379.25 453.97 379.21C455.6 379.17 458.61 379.68 460.09 380.11C461.57 380.54 461.94 381.07 462.85 381.8C463.77 382.53 465.45 383.1 465.6 384.49Z" fill="url(#tumG)"/>
<circle cx="454.47" cy="388.05" r="0.71" fill="#fde6e2" opacity="0.65"/>
<circle cx="457.69" cy="386.2" r="1.16" fill="#c85058" opacity="0.65"/>
<circle cx="456.42" cy="382.76" r="1.35" fill="#fbd4d0" opacity="0.65"/>
<circle cx="456.09" cy="385.59" r="0.99" fill="#d86a70" opacity="0.65"/>
<circle cx="455.25" cy="385.76" r="1.13" fill="#fde6e2" opacity="0.65"/>
<circle cx="455.47" cy="386.33" r="0.86" fill="#c85058" opacity="0.65"/>
<circle cx="456.24" cy="385.49" r="0.89" fill="#fbd4d0" opacity="0.65"/>
<circle cx="455.99" cy="386.32" r="0.95" fill="#d86a70" opacity="0.65"/>
<path d="M492.02 383.09C492 384.07 491.3 385.75 490.63 386.55C489.96 387.35 489.13 387.72 487.98 387.9C486.84 388.08 484.76 388.04 483.76 387.62C482.76 387.2 482.31 386.42 481.98 385.38C481.65 384.34 481.49 382.32 481.78 381.37C482.06 380.42 482.67 380.07 483.68 379.69C484.69 379.32 486.67 378.96 487.85 379.12C489.04 379.28 490.08 380 490.78 380.66C491.47 381.32 492.05 382.11 492.02 383.09Z" fill="#0a2a68" opacity="0.6" filter="url(#bl1)"/>
<path d="M489.56 383.79C489.51 384.44 488.93 384.95 488.41 385.44C487.89 385.93 487.12 386.48 486.46 386.74C485.79 387 485.03 387.14 484.4 387.01C483.77 386.87 483.31 386.31 482.69 385.93C482.08 385.54 480.92 385.27 480.72 384.7C480.52 384.13 481.16 383.27 481.48 382.51C481.8 381.76 482.04 380.78 482.62 380.18C483.2 379.59 484.21 379.15 484.94 378.92C485.68 378.69 486.39 378.36 487.02 378.79C487.65 379.23 488.31 380.72 488.73 381.55C489.15 382.38 489.61 383.14 489.56 383.79Z" fill="url(#tumG)"/>
<circle cx="486.32" cy="384.41" r="1.27" fill="#fde6e2" opacity="0.65"/>
<circle cx="483.22" cy="381.89" r="0.93" fill="#c85058" opacity="0.65"/>
<circle cx="484.43" cy="382.73" r="0.93" fill="#fbd4d0" opacity="0.65"/>
<circle cx="484.18" cy="383.9" r="0.92" fill="#d86a70" opacity="0.65"/>
<circle cx="485.17" cy="382.78" r="0.76" fill="#fde6e2" opacity="0.65"/>
<circle cx="484.92" cy="385.79" r="1.02" fill="#c85058" opacity="0.65"/>
<circle cx="487.31" cy="383.93" r="1.3" fill="#fbd4d0" opacity="0.65"/>
<circle cx="485.45" cy="382.34" r="1.19" fill="#d86a70" opacity="0.65"/>
<path d="M464.39 407.94C464.25 409.38 463.69 412.08 462.92 413.25C462.16 414.42 461.04 414.81 459.79 414.96C458.54 415.11 456.69 414.77 455.41 414.15C454.14 413.53 452.89 412.48 452.15 411.23C451.41 409.98 450.62 408 450.98 406.65C451.34 405.3 453.04 403.92 454.28 403.15C455.52 402.38 456.86 401.77 458.43 402.02C460.01 402.26 462.74 403.64 463.73 404.62C464.73 405.61 464.52 406.51 464.39 407.94Z" fill="#0a2a68" opacity="0.6" filter="url(#bl1)"/>
<path d="M463.06 407.23C462.89 408.22 462.11 410.12 461.44 411.22C460.77 412.33 460.14 413.41 459.04 413.84C457.94 414.28 456.01 414.11 454.84 413.85C453.68 413.6 452.77 413.05 452.05 412.31C451.32 411.56 450.8 410.36 450.49 409.39C450.18 408.41 449.77 407.4 450.17 406.45C450.56 405.5 451.86 404.42 452.86 403.69C453.87 402.95 455.05 402.24 456.2 402.02C457.36 401.81 458.74 401.86 459.78 402.41C460.83 402.95 461.93 404.47 462.47 405.27C463.02 406.08 463.24 406.24 463.06 407.23Z" fill="url(#tumG)"/>
<circle cx="454.81" cy="408.7" r="1.09" fill="#fde6e2" opacity="0.65"/>
<circle cx="456.38" cy="404.73" r="0.7" fill="#c85058" opacity="0.65"/>
<circle cx="456.71" cy="408.16" r="0.67" fill="#fbd4d0" opacity="0.65"/>
<circle cx="456.33" cy="408.01" r="0.8" fill="#d86a70" opacity="0.65"/>
<circle cx="458.43" cy="409.74" r="1.09" fill="#fde6e2" opacity="0.65"/>
<circle cx="460.14" cy="407.19" r="1.2" fill="#c85058" opacity="0.65"/>
<circle cx="456.41" cy="407.97" r="0.78" fill="#fbd4d0" opacity="0.65"/>
<circle cx="458.04" cy="407.17" r="0.77" fill="#d86a70" opacity="0.65"/>
<path d="M492.03 409.22C492.11 410.45 491.42 411.52 490.8 412.28C490.19 413.04 489.4 413.52 488.34 413.77C487.28 414.03 485.45 414.45 484.43 413.81C483.4 413.17 482.44 411.2 482.2 409.96C481.95 408.71 482.59 407.33 482.95 406.32C483.3 405.31 483.44 404.41 484.31 403.9C485.19 403.39 487.22 403.11 488.22 403.27C489.22 403.43 489.68 403.88 490.31 404.87C490.95 405.86 491.94 407.98 492.03 409.22Z" fill="#0a2a68" opacity="0.6" filter="url(#bl1)"/>
<path d="M490.34 408.47C490.41 409.53 489.83 411.25 489.36 411.95C488.88 412.66 488.31 412.31 487.47 412.71C486.63 413.12 485.02 414.54 484.3 414.39C483.58 414.23 483.66 412.56 483.17 411.78C482.69 411.01 481.57 410.47 481.37 409.75C481.16 409.02 481.73 408.28 481.92 407.43C482.12 406.59 482.1 405.3 482.53 404.65C482.96 404.01 483.56 403.71 484.5 403.57C485.43 403.43 487.41 403.48 488.15 403.82C488.88 404.16 488.55 404.82 488.91 405.6C489.28 406.37 490.26 407.41 490.34 408.47Z" fill="url(#tumG)"/>
<circle cx="487.25" cy="409.94" r="1.11" fill="#fde6e2" opacity="0.65"/>
<circle cx="486.31" cy="410.08" r="1.08" fill="#c85058" opacity="0.65"/>
<circle cx="484.66" cy="407.93" r="0.85" fill="#fbd4d0" opacity="0.65"/>
<circle cx="483.9" cy="411.07" r="0.86" fill="#d86a70" opacity="0.65"/>
<circle cx="484.31" cy="408.48" r="0.74" fill="#fde6e2" opacity="0.65"/>
<circle cx="485.14" cy="408.89" r="0.86" fill="#c85058" opacity="0.65"/>
<circle cx="484.94" cy="409.34" r="1.35" fill="#fbd4d0" opacity="0.65"/>
<circle cx="485.33" cy="409.53" r="1.13" fill="#d86a70" opacity="0.65"/>
<path d="M468.32 434.29C468.13 435.73 466.78 437.74 465.42 438.85C464.06 439.95 461.91 440.55 460.16 440.91C458.41 441.27 456.63 441.86 454.91 441.03C453.19 440.19 450.61 437.29 449.84 435.92C449.06 434.55 449.63 434.05 450.28 432.81C450.92 431.56 452.1 429.26 453.71 428.45C455.32 427.64 457.79 427.67 459.93 427.96C462.07 428.26 465.15 429.14 466.55 430.2C467.95 431.25 468.51 432.84 468.32 434.29Z" fill="#0a2a68" opacity="0.6" filter="url(#bl1)"/>
<path d="M466.02 434.37C465.63 435.58 464.93 437.35 463.91 438.29C462.89 439.23 461.14 439.72 459.9 440.03C458.65 440.34 457.95 440.28 456.43 440.15C454.92 440.02 451.97 439.87 450.79 439.26C449.62 438.65 449.6 437.72 449.37 436.5C449.14 435.29 449 433.25 449.43 431.98C449.85 430.72 450.68 429.53 451.92 428.91C453.16 428.28 455.53 428.13 456.87 428.23C458.21 428.32 458.4 429.01 459.96 429.48C461.52 429.95 465.21 430.22 466.21 431.03C467.22 431.85 466.4 433.16 466.02 434.37Z" fill="url(#tumG)"/>
<circle cx="453.33" cy="436.76" r="1.32" fill="#fde6e2" opacity="0.65"/>
<circle cx="460.21" cy="437.03" r="0.94" fill="#c85058" opacity="0.65"/>
<circle cx="456.93" cy="435.19" r="0.93" fill="#fbd4d0" opacity="0.65"/>
<circle cx="457.77" cy="434.27" r="0.69" fill="#d86a70" opacity="0.65"/>
<circle cx="457.19" cy="434.82" r="0.7" fill="#fde6e2" opacity="0.65"/>
<circle cx="458.54" cy="432.82" r="0.99" fill="#c85058" opacity="0.65"/>
<circle cx="453.3" cy="431.9" r="0.72" fill="#fbd4d0" opacity="0.65"/>
<circle cx="458.16" cy="437.74" r="1.33" fill="#d86a70" opacity="0.65"/>
<path d="M491.28 433.74C491.25 434.86 490.85 435.45 490.08 436.31C489.31 437.18 487.71 438.63 486.66 438.93C485.61 439.24 484.56 438.72 483.77 438.12C482.97 437.52 482.15 436.6 481.9 435.34C481.66 434.08 481.92 431.76 482.31 430.58C482.69 429.39 483.3 428.78 484.22 428.22C485.13 427.66 486.8 426.99 487.81 427.22C488.81 427.44 489.67 428.48 490.25 429.56C490.83 430.65 491.31 432.61 491.28 433.74Z" fill="#0a2a68" opacity="0.6" filter="url(#bl1)"/>
<path d="M489.04 431.96C489.09 432.88 488.61 434.21 488.35 435.21C488.09 436.21 488.19 437.47 487.49 437.94C486.78 438.4 485.2 438.16 484.14 437.98C483.08 437.81 481.71 437.52 481.12 436.88C480.52 436.24 480.59 435.13 480.58 434.12C480.56 433.11 480.66 431.64 481.05 430.84C481.43 430.03 482.31 429.86 482.9 429.29C483.48 428.73 483.86 427.82 484.57 427.44C485.27 427.07 486.56 426.68 487.14 427.05C487.73 427.42 487.75 428.84 488.07 429.66C488.39 430.48 489 431.03 489.04 431.96Z" fill="url(#tumG)"/>
<circle cx="485.44" cy="430.3" r="1.02" fill="#fde6e2" opacity="0.65"/>
<circle cx="485.12" cy="430.44" r="1.3" fill="#c85058" opacity="0.65"/>
<circle cx="484.2" cy="431.71" r="0.83" fill="#fbd4d0" opacity="0.65"/>
<circle cx="485.1" cy="432.91" r="0.63" fill="#d86a70" opacity="0.65"/>
<circle cx="485.19" cy="432.63" r="1.08" fill="#fde6e2" opacity="0.65"/>
<circle cx="486.6" cy="435.14" r="1.03" fill="#c85058" opacity="0.65"/>
<circle cx="485.82" cy="435.2" r="1.29" fill="#fbd4d0" opacity="0.65"/>
<circle cx="485.42" cy="432.59" r="0.92" fill="#d86a70" opacity="0.65"/>
<path d="M469.54 461.77C469.62 463.97 469.1 466.43 467.67 468.1C466.23 469.76 463.14 471.57 460.94 471.77C458.74 471.96 456.22 470.58 454.46 469.28C452.69 467.98 450.95 465.67 450.37 463.96C449.79 462.25 450.13 460.9 450.95 459.02C451.78 457.13 453.75 453.94 455.33 452.66C456.91 451.38 458.45 450.96 460.43 451.33C462.4 451.7 465.67 453.12 467.18 454.86C468.7 456.6 469.46 459.56 469.54 461.77Z" fill="#0a2a68" opacity="0.6" filter="url(#bl1)"/>
<path d="M467.86 461.19C467.95 463.03 469.01 465.98 467.85 467.32C466.69 468.67 462.84 468.9 460.89 469.25C458.94 469.61 457.5 469.98 456.13 469.45C454.75 468.92 454.03 466.86 452.64 466.08C451.24 465.3 448.43 466.18 447.75 464.77C447.08 463.36 447.79 459.15 448.61 457.6C449.43 456.06 451.06 456.21 452.66 455.5C454.27 454.78 456.83 453.85 458.26 453.31C459.7 452.78 459.75 451.79 461.26 452.29C462.77 452.79 466.22 454.82 467.32 456.31C468.42 457.79 467.77 459.36 467.86 461.19Z" fill="url(#tumG)"/>
<circle cx="463.06" cy="460.94" r="0.95" fill="#fde6e2" opacity="0.65"/>
<circle cx="459.94" cy="459.96" r="0.64" fill="#c85058" opacity="0.65"/>
<circle cx="463.51" cy="459.61" r="1.13" fill="#fbd4d0" opacity="0.65"/>
<circle cx="457.06" cy="461.16" r="0.78" fill="#d86a70" opacity="0.65"/>
<circle cx="458.82" cy="461.24" r="0.98" fill="#fde6e2" opacity="0.65"/>
<circle cx="462.82" cy="457.49" r="1.01" fill="#c85058" opacity="0.65"/>
<circle cx="456.97" cy="458.44" r="1.22" fill="#fbd4d0" opacity="0.65"/>
<circle cx="456.66" cy="455.15" r="1.28" fill="#d86a70" opacity="0.65"/>
<path d="M492.06 461.83C492.11 463.17 491.82 464.03 491.18 464.92C490.54 465.81 489.17 466.82 488.22 467.16C487.27 467.5 486.33 467.45 485.49 466.96C484.65 466.46 483.64 465.42 483.17 464.19C482.7 462.95 482.3 460.93 482.66 459.57C483.02 458.22 484.41 456.71 485.32 456.04C486.22 455.38 487.17 455.44 488.1 455.58C489.02 455.71 490.22 455.81 490.88 456.86C491.54 457.9 492.01 460.49 492.06 461.83Z" fill="#0a2a68" opacity="0.6" filter="url(#bl1)"/>
<path d="M490.03 461.94C489.88 462.78 489.03 463.32 488.55 463.93C488.08 464.54 487.7 465.06 487.18 465.57C486.66 466.08 486 467.05 485.43 466.99C484.86 466.94 484.35 466 483.76 465.24C483.18 464.47 482.1 463.38 481.92 462.39C481.74 461.41 482.62 460.28 482.67 459.34C482.73 458.39 481.81 457.42 482.26 456.73C482.7 456.03 484.49 455.13 485.32 455.16C486.16 455.19 486.57 456.31 487.26 456.93C487.94 457.55 488.97 458.05 489.43 458.88C489.89 459.72 490.18 461.1 490.03 461.94Z" fill="url(#tumG)"/>
<circle cx="486.12" cy="460.91" r="0.82" fill="#fde6e2" opacity="0.65"/>
<circle cx="485.19" cy="460.93" r="1.29" fill="#c85058" opacity="0.65"/>
<circle cx="485.79" cy="461.49" r="0.73" fill="#fbd4d0" opacity="0.65"/>
<circle cx="485.47" cy="464.62" r="1.3" fill="#d86a70" opacity="0.65"/>
<circle cx="485.26" cy="459.84" r="0.63" fill="#fde6e2" opacity="0.65"/>
<circle cx="485.96" cy="460.8" r="0.76" fill="#c85058" opacity="0.65"/>
<circle cx="483.74" cy="462.45" r="0.75" fill="#fbd4d0" opacity="0.65"/>
<circle cx="487.98" cy="462.46" r="0.61" fill="#d86a70" opacity="0.65"/>
<text x="445.6" y="469.6" font-size="5.2" fill="#111" text-decoration="underline" stroke="#111" stroke-width="0.12">1cm</text>
<line x1="527.7" y1="367.5" x2="527.7" y2="452.6" stroke="#111" stroke-width="1"/>
<line x1="525.2" y1="452.1" x2="527.7" y2="452.1" stroke="#111" stroke-width="0.9"/>
<text x="524.7" y="454.2" font-size="6" font-weight="bold" fill="#222" text-anchor="end">0</text>
<line x1="525.2" y1="423.9" x2="527.7" y2="423.9" stroke="#111" stroke-width="0.9"/>
<text x="524.7" y="426" font-size="6" font-weight="bold" fill="#222" text-anchor="end">500</text>
<line x1="525.2" y1="395.7" x2="527.7" y2="395.7" stroke="#111" stroke-width="0.9"/>
<text x="524.7" y="397.8" font-size="6" font-weight="bold" fill="#222" text-anchor="end">1000</text>
<line x1="525.2" y1="367.5" x2="527.7" y2="367.5" stroke="#111" stroke-width="0.9"/>
<text x="524.7" y="369.6" font-size="6" font-weight="bold" fill="#222" text-anchor="end">1500</text>
<line x1="527.7" y1="452.1" x2="654.5" y2="452.1" stroke="#111" stroke-width="1"/>
<line x1="543.5" y1="452.1" x2="543.5" y2="454.6" stroke="#111" stroke-width="0.9"/>
<text x="543.5" y="461.7" font-size="6.4" font-weight="bold" fill="#222" text-anchor="middle">10</text>
<line x1="567.7" y1="452.1" x2="567.7" y2="454.6" stroke="#111" stroke-width="0.9"/>
<text x="567.7" y="461.7" font-size="6.4" font-weight="bold" fill="#222" text-anchor="middle">13</text>
<line x1="590.7" y1="452.1" x2="590.7" y2="454.6" stroke="#111" stroke-width="0.9"/>
<text x="590.7" y="461.7" font-size="6.4" font-weight="bold" fill="#222" text-anchor="middle">16</text>
<line x1="614.8" y1="452.1" x2="614.8" y2="454.6" stroke="#111" stroke-width="0.9"/>
<text x="614.8" y="461.7" font-size="6.4" font-weight="bold" fill="#222" text-anchor="middle">19</text>
<line x1="638.4" y1="452.1" x2="638.4" y2="454.6" stroke="#111" stroke-width="0.9"/>
<text x="638.4" y="461.7" font-size="6.4" font-weight="bold" fill="#222" text-anchor="middle">21</text>
<text x="590.7" y="476.2" font-size="6.6" font-weight="bold" fill="#222" text-anchor="middle">Days</text>
<text x="505.5" y="410" font-size="6.6" font-weight="bold" fill="#222" text-anchor="middle" transform="rotate(-90 505.5 410)">Tumor volume(mm<tspan font-size="4.3" dy="-2.4">3</tspan><tspan dy="2.4">)</tspan></text>
<line x1="590.7" y1="426.72" x2="590.7" y2="435.46" stroke="#4060c8" stroke-width="0.7"/>
<line x1="588.4" y1="426.72" x2="593" y2="426.72" stroke="#4060c8" stroke-width="0.7"/>
<line x1="588.4" y1="435.46" x2="593" y2="435.46" stroke="#4060c8" stroke-width="0.7"/>
<line x1="614.8" y1="411.49" x2="614.8" y2="423.62" stroke="#4060c8" stroke-width="0.7"/>
<line x1="612.5" y1="411.49" x2="617.1" y2="411.49" stroke="#4060c8" stroke-width="0.7"/>
<line x1="612.5" y1="423.62" x2="617.1" y2="423.62" stroke="#4060c8" stroke-width="0.7"/>
<line x1="638.4" y1="379.34" x2="638.4" y2="416.57" stroke="#4060c8" stroke-width="0.7"/>
<line x1="636.1" y1="379.34" x2="640.7" y2="379.34" stroke="#4060c8" stroke-width="0.7"/>
<line x1="636.1" y1="416.57" x2="640.7" y2="416.57" stroke="#4060c8" stroke-width="0.7"/>
<polyline points="543.5,451.54 567.7,449 590.7,430.67 614.8,417.7 638.4,397.96" fill="none" stroke="#4060c8" stroke-width="1"/>
<circle cx="543.5" cy="451.54" r="1.75" fill="#1f3fa8"/>
<circle cx="567.7" cy="449" r="1.75" fill="#1f3fa8"/>
<circle cx="590.7" cy="430.67" r="1.75" fill="#1f3fa8"/>
<circle cx="614.8" cy="417.7" r="1.75" fill="#1f3fa8"/>
<circle cx="638.4" cy="397.96" r="1.75" fill="#1f3fa8"/>
<line x1="638.4" y1="438.28" x2="638.4" y2="442.51" stroke="#f05040" stroke-width="0.7"/>
<line x1="636.1" y1="438.28" x2="640.7" y2="438.28" stroke="#f05040" stroke-width="0.7"/>
<line x1="636.1" y1="442.51" x2="640.7" y2="442.51" stroke="#f05040" stroke-width="0.7"/>
<polyline points="543.5,452.1 567.7,451.54 590.7,449 614.8,446.74 638.4,440.54" fill="none" stroke="#f05040" stroke-width="1"/>
<rect x="541.9" y="450.5" width="3.2" height="3.2" fill="#f02828"/>
<rect x="566.1" y="449.94" width="3.2" height="3.2" fill="#f02828"/>
<rect x="589.1" y="447.4" width="3.2" height="3.2" fill="#f02828"/>
<rect x="613.2" y="445.14" width="3.2" height="3.2" fill="#f02828"/>
<rect x="636.8" y="438.94" width="3.2" height="3.2" fill="#f02828"/>
<line x1="538" y1="373.6" x2="546.3" y2="373.6" stroke="#4060c8" stroke-width="1"/>
<circle cx="542.15" cy="373.6" r="1.6" fill="#1f3fa8"/>
<text x="549.9" y="375.8" font-size="6.3" fill="#222" stroke="#222" stroke-width="0.14">sh-NC</text>
<line x1="538" y1="384.1" x2="546.3" y2="384.1" stroke="#f05040" stroke-width="1"/>
<rect x="540.65" y="382.6" width="3" height="3" fill="#f02828"/>
<text x="549.9" y="386.3" font-size="6.3" fill="#222" stroke="#222" stroke-width="0.14">sh-GPR4</text>
<polyline points="645.9,398.8 650.3,398.8 650.3,440.4 645.9,440.4" fill="none" stroke="#111" stroke-width="1.1"/>
<text x="652.6" y="421.9" font-size="6.2" fill="#222" stroke="#222" stroke-width="0.14">P&lt;0.001</text>
<text x="35.2" y="500.8" font-size="13.5" font-weight="bold">H</text>
<line x1="93.5" y1="503.7" x2="93.5" y2="627.9" stroke="#111" stroke-width="1.3"/>
<line x1="89.1" y1="627.3" x2="93.5" y2="627.3" stroke="#111" stroke-width="1.2"/>
<text x="87.2" y="630.32" font-size="8.4" font-weight="bold" fill="#222" text-anchor="end">0</text>
<line x1="89.1" y1="602.7" x2="93.5" y2="602.7" stroke="#111" stroke-width="1.2"/>
<text x="87.2" y="605.72" font-size="8.4" font-weight="bold" fill="#222" text-anchor="end">20</text>
<line x1="89.1" y1="578.1" x2="93.5" y2="578.1" stroke="#111" stroke-width="1.2"/>
<text x="87.2" y="581.12" font-size="8.4" font-weight="bold" fill="#222" text-anchor="end">40</text>
<line x1="89.1" y1="553.5" x2="93.5" y2="553.5" stroke="#111" stroke-width="1.2"/>
<text x="87.2" y="556.52" font-size="8.4" font-weight="bold" fill="#222" text-anchor="end">60</text>
<line x1="89.1" y1="528.9" x2="93.5" y2="528.9" stroke="#111" stroke-width="1.2"/>
<text x="87.2" y="531.92" font-size="8.4" font-weight="bold" fill="#222" text-anchor="end">80</text>
<line x1="89.1" y1="504.3" x2="93.5" y2="504.3" stroke="#111" stroke-width="1.2"/>
<text x="87.2" y="507.32" font-size="8.4" font-weight="bold" fill="#222" text-anchor="end">100</text>
<line x1="92.9" y1="627.3" x2="176.3" y2="627.3" stroke="#111" stroke-width="1.3"/>
<line x1="117.1" y1="627.3" x2="117.1" y2="631.8" stroke="#111" stroke-width="1.2"/>
<text x="117.1" y="643.1" font-size="8.7" font-weight="bold" fill="#222" text-anchor="middle">Nude</text>
<line x1="152.6" y1="627.3" x2="152.6" y2="631.8" stroke="#111" stroke-width="1.2"/>
<text x="152.6" y="643.1" font-size="8.7" font-weight="bold" fill="#222" text-anchor="middle">C57</text>
<line x1="117.1" y1="568.75" x2="117.1" y2="614.88" stroke="#3a5cc0" stroke-width="0.8"/>
<line x1="111.1" y1="568.75" x2="123.1" y2="568.75" stroke="#3a5cc0" stroke-width="0.8"/>
<line x1="111.1" y1="614.88" x2="123.1" y2="614.88" stroke="#3a5cc0" stroke-width="0.8"/>
<circle cx="110" cy="568.51" r="1.9" fill="#1c40a8"/>
<circle cx="117.1" cy="565.8" r="1.9" fill="#1c40a8"/>
<circle cx="117.1" cy="602.33" r="1.9" fill="#1c40a8"/>
<circle cx="117.1" cy="607.62" r="1.9" fill="#1c40a8"/>
<circle cx="117.1" cy="615.62" r="1.9" fill="#1c40a8"/>
<line x1="105.5" y1="592" x2="128.5" y2="592" stroke="#111" stroke-width="1.4"/>
<line x1="152.6" y1="523.12" x2="152.6" y2="542.31" stroke="#f04848" stroke-width="0.8"/>
<line x1="147.1" y1="523.12" x2="158.1" y2="523.12" stroke="#f04848" stroke-width="0.8"/>
<line x1="147.1" y1="542.31" x2="158.1" y2="542.31" stroke="#f04848" stroke-width="0.8"/>
<rect x="143.25" y="527.64" width="3.5" height="3.5" fill="#f01c1c"/>
<rect x="150.85" y="518.42" width="3.5" height="3.5" fill="#f01c1c"/>
<rect x="150.85" y="530.47" width="3.5" height="3.5" fill="#f01c1c"/>
<rect x="150.85" y="536.25" width="3.5" height="3.5" fill="#f01c1c"/>
<rect x="150.85" y="542.89" width="3.5" height="3.5" fill="#f01c1c"/>
<line x1="141.2" y1="532.71" x2="164" y2="532.71" stroke="#111" stroke-width="1.4"/>
<line x1="117.3" y1="507.4" x2="152.7" y2="507.4" stroke="#111" stroke-width="1.5"/>
<line x1="117.3" y1="502.3" x2="117.3" y2="512.5" stroke="#111" stroke-width="1.5"/>
<line x1="152.7" y1="502.3" x2="152.7" y2="512.5" stroke="#111" stroke-width="1.5"/>
<text x="135" y="503.7" font-size="7.5" fill="#222" text-anchor="middle" stroke="#222" stroke-width="0.17">P&lt;0.001</text>
<text x="54.4" y="570.4" font-size="10" font-weight="bold" fill="#222" text-anchor="middle" transform="rotate(-90 54.4 570.4)">Tumor inhibition rate</text>
<text x="66.4" y="570.4" font-size="10" font-weight="bold" fill="#222" text-anchor="middle" transform="rotate(-90 66.4 570.4)">(%of sh-GPR4 to sh-NC)</text>
<text x="182.2" y="500" font-size="13.5" font-weight="bold">I</text>
<text x="252.8" y="499" font-size="10.5" font-weight="bold" fill="#111" text-anchor="middle">CD4<tspan font-size="7.35" dy="-4.41">+</tspan><tspan dy="4.41"> T</tspan></text>
<line x1="214.7" y1="512.8" x2="214.7" y2="627.3" stroke="#111" stroke-width="1.3"/>
<line x1="210.3" y1="626.7" x2="214.7" y2="626.7" stroke="#111" stroke-width="1.2"/>
<text x="208.4" y="629.65" font-size="8.2" font-weight="bold" fill="#222" text-anchor="end">0.0</text>
<line x1="210.3" y1="604.04" x2="214.7" y2="604.04" stroke="#111" stroke-width="1.2"/>
<text x="208.4" y="606.99" font-size="8.2" font-weight="bold" fill="#222" text-anchor="end">0.2</text>
<line x1="210.3" y1="581.38" x2="214.7" y2="581.38" stroke="#111" stroke-width="1.2"/>
<text x="208.4" y="584.33" font-size="8.2" font-weight="bold" fill="#222" text-anchor="end">0.4</text>
<line x1="210.3" y1="558.72" x2="214.7" y2="558.72" stroke="#111" stroke-width="1.2"/>
<text x="208.4" y="561.67" font-size="8.2" font-weight="bold" fill="#222" text-anchor="end">0.6</text>
<line x1="210.3" y1="536.06" x2="214.7" y2="536.06" stroke="#111" stroke-width="1.2"/>
<text x="208.4" y="539.01" font-size="8.2" font-weight="bold" fill="#222" text-anchor="end">0.8</text>
<line x1="210.3" y1="513.4" x2="214.7" y2="513.4" stroke="#111" stroke-width="1.2"/>
<text x="208.4" y="516.35" font-size="8.2" font-weight="bold" fill="#222" text-anchor="end">1.0</text>
<line x1="214.1" y1="626.7" x2="289.8" y2="626.7" stroke="#111" stroke-width="1.3"/>
<line x1="236.4" y1="626.7" x2="236.4" y2="631.2" stroke="#111" stroke-width="1.2"/>
<text x="236.4" y="640.8" font-size="8.2" font-weight="bold" fill="#222" text-anchor="middle">sh-NC</text>
<line x1="269.1" y1="626.7" x2="269.1" y2="631.2" stroke="#111" stroke-width="1.2"/>
<text x="269.1" y="640.8" font-size="8.2" font-weight="bold" fill="#222" text-anchor="middle">sh-GPR4</text>
<line x1="236.4" y1="621.04" x2="236.4" y2="623.53" stroke="#3a5cc0" stroke-width="0.8"/>
<line x1="233.4" y1="621.04" x2="239.4" y2="621.04" stroke="#3a5cc0" stroke-width="0.8"/>
<line x1="233.4" y1="623.53" x2="239.4" y2="623.53" stroke="#3a5cc0" stroke-width="0.8"/>
<circle cx="226.8" cy="620.47" r="1.9" fill="#1c40a8"/>
<circle cx="226.8" cy="623.64" r="1.9" fill="#1c40a8"/>
<circle cx="233.6" cy="621.71" r="1.9" fill="#1c40a8"/>
<circle cx="239.3" cy="622.96" r="1.9" fill="#1c40a8"/>
<circle cx="245.7" cy="622.39" r="1.9" fill="#1c40a8"/>
<line x1="226.5" y1="622.39" x2="246" y2="622.39" stroke="#111" stroke-width="1.4"/>
<line x1="269.1" y1="534.93" x2="269.1" y2="572.09" stroke="#f04848" stroke-width="0.8"/>
<line x1="264.1" y1="534.93" x2="274.1" y2="534.93" stroke="#f04848" stroke-width="0.8"/>
<line x1="264.1" y1="572.09" x2="274.1" y2="572.09" stroke="#f04848" stroke-width="0.8"/>
<rect x="267.35" y="528.64" width="3.5" height="3.5" fill="#f01c1c"/>
<rect x="267.35" y="538.84" width="3.5" height="3.5" fill="#f01c1c"/>
<rect x="267.35" y="551.87" width="3.5" height="3.5" fill="#f01c1c"/>
<rect x="274.05" y="568.3" width="3.5" height="3.5" fill="#f01c1c"/>
<rect x="260.25" y="571.13" width="3.5" height="3.5" fill="#f01c1c"/>
<line x1="258.5" y1="553.28" x2="279.6" y2="553.28" stroke="#111" stroke-width="1.4"/>
<line x1="233.8" y1="517.2" x2="269.2" y2="517.2" stroke="#111" stroke-width="1.5"/>
<line x1="233.8" y1="512.1" x2="233.8" y2="522.3" stroke="#111" stroke-width="1.5"/>
<line x1="269.2" y1="512.1" x2="269.2" y2="522.3" stroke="#111" stroke-width="1.5"/>
<text x="251.5" y="514.3" font-size="7.5" fill="#222" text-anchor="middle" stroke="#222" stroke-width="0.17">P&lt;0.001</text>
<text x="191.6" y="569.5" font-size="9.6" font-weight="bold" fill="#222" text-anchor="middle" transform="rotate(-90 191.6 569.5)">Cell number (×10<tspan font-size="6" dy="-3.6">6</tspan><tspan dy="3.6">/g)</tspan></text>
<text x="297.4" y="500.4" font-size="13.5" font-weight="bold">J</text>
<text x="365.8" y="499" font-size="10.5" font-weight="bold" fill="#111" text-anchor="middle">KI67<tspan font-size="7.35" dy="-4.41">+</tspan></text>
<line x1="330.3" y1="512.8" x2="330.3" y2="627.3" stroke="#111" stroke-width="1.3"/>
<line x1="325.9" y1="626.7" x2="330.3" y2="626.7" stroke="#111" stroke-width="1.2"/>
<text x="324" y="629.65" font-size="8.2" font-weight="bold" fill="#222" text-anchor="end">0</text>
<line x1="325.9" y1="598.38" x2="330.3" y2="598.38" stroke="#111" stroke-width="1.2"/>
<text x="324" y="601.33" font-size="8.2" font-weight="bold" fill="#222" text-anchor="end">10</text>
<line x1="325.9" y1="570.05" x2="330.3" y2="570.05" stroke="#111" stroke-width="1.2"/>
<text x="324" y="573" font-size="8.2" font-weight="bold" fill="#222" text-anchor="end">20</text>
<line x1="325.9" y1="541.73" x2="330.3" y2="541.73" stroke="#111" stroke-width="1.2"/>
<text x="324" y="544.68" font-size="8.2" font-weight="bold" fill="#222" text-anchor="end">30</text>
<line x1="325.9" y1="513.4" x2="330.3" y2="513.4" stroke="#111" stroke-width="1.2"/>
<text x="324" y="516.35" font-size="8.2" font-weight="bold" fill="#222" text-anchor="end">40</text>
<line x1="329.7" y1="626.7" x2="406.2" y2="626.7" stroke="#111" stroke-width="1.3"/>
<line x1="352.4" y1="626.7" x2="352.4" y2="631.2" stroke="#111" stroke-width="1.2"/>
<text x="352.4" y="640.8" font-size="8.2" font-weight="bold" fill="#222" text-anchor="middle">sh-NC</text>
<line x1="384.7" y1="626.7" x2="384.7" y2="631.2" stroke="#111" stroke-width="1.2"/>
<text x="384.7" y="640.8" font-size="8.2" font-weight="bold" fill="#222" text-anchor="middle">sh-GPR4</text>
<line x1="352.4" y1="548.52" x2="352.4" y2="568.63" stroke="#3a5cc0" stroke-width="0.8"/>
<line x1="346.9" y1="548.52" x2="357.9" y2="548.52" stroke="#3a5cc0" stroke-width="0.8"/>
<line x1="346.9" y1="568.63" x2="357.9" y2="568.63" stroke="#3a5cc0" stroke-width="0.8"/>
<circle cx="345.3" cy="552.77" r="1.9" fill="#1c40a8"/>
<circle cx="352.4" cy="551.36" r="1.9" fill="#1c40a8"/>
<circle cx="352.4" cy="557.02" r="1.9" fill="#1c40a8"/>
<circle cx="359.1" cy="556.45" r="1.9" fill="#1c40a8"/>
<circle cx="352.4" cy="575.43" r="1.9" fill="#1c40a8"/>
<line x1="341.5" y1="558.44" x2="363" y2="558.44" stroke="#111" stroke-width="1.4"/>
<line x1="384.7" y1="577.41" x2="384.7" y2="600.36" stroke="#f04848" stroke-width="0.8"/>
<line x1="379.2" y1="577.41" x2="390.2" y2="577.41" stroke="#f04848" stroke-width="0.8"/>
<line x1="379.2" y1="600.36" x2="390.2" y2="600.36" stroke="#f04848" stroke-width="0.8"/>
<rect x="376.15" y="573.12" width="3.5" height="3.5" fill="#f01c1c"/>
<rect x="382.95" y="576.23" width="3.5" height="3.5" fill="#f01c1c"/>
<rect x="382.95" y="591.81" width="3.5" height="3.5" fill="#f01c1c"/>
<rect x="389.65" y="596.06" width="3.5" height="3.5" fill="#f01c1c"/>
<rect x="376.15" y="598.32" width="3.5" height="3.5" fill="#f01c1c"/>
<line x1="374.5" y1="589.03" x2="395.6" y2="589.03" stroke="#111" stroke-width="1.4"/>
<line x1="349.5" y1="517.2" x2="385" y2="517.2" stroke="#111" stroke-width="1.5"/>
<line x1="349.5" y1="512.1" x2="349.5" y2="522.3" stroke="#111" stroke-width="1.5"/>
<line x1="385" y1="512.1" x2="385" y2="522.3" stroke="#111" stroke-width="1.5"/>
<text x="367.25" y="514.3" font-size="7.5" fill="#222" text-anchor="middle" stroke="#222" stroke-width="0.17">P=0.002</text>
<text x="309.2" y="569.5" font-size="9.6" font-weight="bold" fill="#222" text-anchor="middle" transform="rotate(-90 309.2 569.5)">%CD4<tspan font-size="6.72" dy="-4.03">+</tspan></text>
<text x="421.6" y="500.4" font-size="13.5" font-weight="bold">K</text>
<text x="494.5" y="499" font-size="10.5" font-weight="bold" fill="#111" text-anchor="middle">CD8<tspan font-size="7.35" dy="-4.41">+</tspan><tspan dy="4.41"> T</tspan></text>
<line x1="456.1" y1="512.8" x2="456.1" y2="627.3" stroke="#111" stroke-width="1.3"/>
<line x1="451.7" y1="626.7" x2="456.1" y2="626.7" stroke="#111" stroke-width="1.2"/>
<text x="449.8" y="629.65" font-size="8.2" font-weight="bold" fill="#222" text-anchor="end">0.0</text>
<line x1="451.7" y1="604.04" x2="456.1" y2="604.04" stroke="#111" stroke-width="1.2"/>
<text x="449.8" y="606.99" font-size="8.2" font-weight="bold" fill="#222" text-anchor="end">0.2</text>
<line x1="451.7" y1="581.38" x2="456.1" y2="581.38" stroke="#111" stroke-width="1.2"/>
<text x="449.8" y="584.33" font-size="8.2" font-weight="bold" fill="#222" text-anchor="end">0.4</text>
<line x1="451.7" y1="558.72" x2="456.1" y2="558.72" stroke="#111" stroke-width="1.2"/>
<text x="449.8" y="561.67" font-size="8.2" font-weight="bold" fill="#222" text-anchor="end">0.6</text>
<line x1="451.7" y1="536.06" x2="456.1" y2="536.06" stroke="#111" stroke-width="1.2"/>
<text x="449.8" y="539.01" font-size="8.2" font-weight="bold" fill="#222" text-anchor="end">0.8</text>
<line x1="451.7" y1="513.4" x2="456.1" y2="513.4" stroke="#111" stroke-width="1.2"/>
<text x="449.8" y="516.35" font-size="8.2" font-weight="bold" fill="#222" text-anchor="end">1.0</text>
<line x1="455.5" y1="626.7" x2="528.1" y2="626.7" stroke="#111" stroke-width="1.3"/>
<line x1="478.2" y1="626.7" x2="478.2" y2="631.2" stroke="#111" stroke-width="1.2"/>
<text x="478.2" y="640.8" font-size="8.2" font-weight="bold" fill="#222" text-anchor="middle">sh-NC</text>
<line x1="510.2" y1="626.7" x2="510.2" y2="631.2" stroke="#111" stroke-width="1.2"/>
<text x="510.2" y="640.8" font-size="8.2" font-weight="bold" fill="#222" text-anchor="middle">sh-GPR4</text>
<line x1="478.2" y1="623.3" x2="478.2" y2="625.11" stroke="#3a5cc0" stroke-width="0.8"/>
<line x1="475.2" y1="623.3" x2="481.2" y2="623.3" stroke="#3a5cc0" stroke-width="0.8"/>
<line x1="475.2" y1="625.11" x2="481.2" y2="625.11" stroke="#3a5cc0" stroke-width="0.8"/>
<circle cx="468.6" cy="624.77" r="1.9" fill="#1c40a8"/>
<circle cx="473.4" cy="623.3" r="1.9" fill="#1c40a8"/>
<circle cx="478.2" cy="624.21" r="1.9" fill="#1c40a8"/>
<circle cx="482.6" cy="624.21" r="1.9" fill="#1c40a8"/>
<circle cx="487.2" cy="625.23" r="1.9" fill="#1c40a8"/>
<line x1="466" y1="624.21" x2="490" y2="624.21" stroke="#111" stroke-width="1.4"/>
<line x1="510.2" y1="542.29" x2="510.2" y2="574.02" stroke="#f04848" stroke-width="0.8"/>
<line x1="505.2" y1="542.29" x2="515.2" y2="542.29" stroke="#f04848" stroke-width="0.8"/>
<line x1="505.2" y1="574.02" x2="515.2" y2="574.02" stroke="#f04848" stroke-width="0.8"/>
<rect x="508.45" y="540.54" width="3.5" height="3.5" fill="#f01c1c"/>
<rect x="508.45" y="545.07" width="3.5" height="3.5" fill="#f01c1c"/>
<rect x="508.45" y="549.61" width="3.5" height="3.5" fill="#f01c1c"/>
<rect x="501.95" y="573.97" width="3.5" height="3.5" fill="#f01c1c"/>
<rect x="515.75" y="572.61" width="3.5" height="3.5" fill="#f01c1c"/>
<line x1="500.2" y1="558.15" x2="521.4" y2="558.15" stroke="#111" stroke-width="1.4"/>
<line x1="475.9" y1="517.2" x2="510.8" y2="517.2" stroke="#111" stroke-width="1.5"/>
<line x1="475.9" y1="512.1" x2="475.9" y2="522.3" stroke="#111" stroke-width="1.5"/>
<line x1="510.8" y1="512.1" x2="510.8" y2="522.3" stroke="#111" stroke-width="1.5"/>
<text x="493.35" y="514.3" font-size="7.5" fill="#222" text-anchor="middle" stroke="#222" stroke-width="0.17">P&lt;0.001</text>
<text x="433.4" y="569.5" font-size="9.6" font-weight="bold" fill="#222" text-anchor="middle" transform="rotate(-90 433.4 569.5)">Cell number (×10<tspan font-size="6" dy="-3.6">6</tspan><tspan dy="3.6">/g)</tspan></text>
<text x="534.6" y="500.4" font-size="13.5" font-weight="bold">L</text>
<text x="605.8" y="499" font-size="10.5" font-weight="bold" fill="#111" text-anchor="middle">KI67<tspan font-size="7.35" dy="-4.41">+</tspan></text>
<line x1="569.4" y1="512.2" x2="569.4" y2="627.3" stroke="#111" stroke-width="1.3"/>
<line x1="565" y1="626.7" x2="569.4" y2="626.7" stroke="#111" stroke-width="1.2"/>
<text x="563.1" y="629.65" font-size="8.2" font-weight="bold" fill="#222" text-anchor="end">0</text>
<line x1="565" y1="588.73" x2="569.4" y2="588.73" stroke="#111" stroke-width="1.2"/>
<text x="563.1" y="591.69" font-size="8.2" font-weight="bold" fill="#222" text-anchor="end">5</text>
<line x1="565" y1="550.77" x2="569.4" y2="550.77" stroke="#111" stroke-width="1.2"/>
<text x="563.1" y="553.72" font-size="8.2" font-weight="bold" fill="#222" text-anchor="end">10</text>
<line x1="565" y1="512.8" x2="569.4" y2="512.8" stroke="#111" stroke-width="1.2"/>
<text x="563.1" y="515.75" font-size="8.2" font-weight="bold" fill="#222" text-anchor="end">15</text>
<line x1="568.8" y1="626.7" x2="645.2" y2="626.7" stroke="#111" stroke-width="1.3"/>
<line x1="591.1" y1="626.7" x2="591.1" y2="631.2" stroke="#111" stroke-width="1.2"/>
<text x="591.1" y="640.8" font-size="8.2" font-weight="bold" fill="#222" text-anchor="middle">sh-NC</text>
<line x1="623.7" y1="626.7" x2="623.7" y2="631.2" stroke="#111" stroke-width="1.2"/>
<text x="623.7" y="640.8" font-size="8.2" font-weight="bold" fill="#222" text-anchor="middle">sh-GPR4</text>
<line x1="591.1" y1="595.19" x2="591.1" y2="609.24" stroke="#3a5cc0" stroke-width="0.8"/>
<line x1="586.1" y1="595.19" x2="596.1" y2="595.19" stroke="#3a5cc0" stroke-width="0.8"/>
<line x1="586.1" y1="609.24" x2="596.1" y2="609.24" stroke="#3a5cc0" stroke-width="0.8"/>
<circle cx="584.1" cy="598.6" r="1.9" fill="#1c40a8"/>
<circle cx="591.1" cy="595.57" r="1.9" fill="#1c40a8"/>
<circle cx="591.1" cy="600.88" r="1.9" fill="#1c40a8"/>
<circle cx="591.1" cy="605.06" r="1.9" fill="#1c40a8"/>
<circle cx="591.1" cy="613.79" r="1.9" fill="#1c40a8"/>
<line x1="580.3" y1="602.02" x2="601.4" y2="602.02" stroke="#111" stroke-width="1.4"/>
<line x1="623.7" y1="606.96" x2="623.7" y2="611.13" stroke="#f04848" stroke-width="0.8"/>
<line x1="619.7" y1="606.96" x2="627.7" y2="606.96" stroke="#f04848" stroke-width="0.8"/>
<line x1="619.7" y1="611.13" x2="627.7" y2="611.13" stroke="#f04848" stroke-width="0.8"/>
<rect x="612.35" y="605.97" width="3.5" height="3.5" fill="#f01c1c"/>
<rect x="612.35" y="609.76" width="3.5" height="3.5" fill="#f01c1c"/>
<rect x="618.45" y="605.21" width="3.5" height="3.5" fill="#f01c1c"/>
<rect x="625.25" y="609" width="3.5" height="3.5" fill="#f01c1c"/>
<rect x="630.95" y="608.24" width="3.5" height="3.5" fill="#f01c1c"/>
<line x1="612.2" y1="609.24" x2="633.7" y2="609.24" stroke="#111" stroke-width="1.4"/>
<line x1="588.2" y1="517.2" x2="623.7" y2="517.2" stroke="#111" stroke-width="1.5"/>
<line x1="588.2" y1="512.1" x2="588.2" y2="522.3" stroke="#111" stroke-width="1.5"/>
<line x1="623.7" y1="512.1" x2="623.7" y2="522.3" stroke="#111" stroke-width="1.5"/>
<text x="605.95" y="512.8" font-size="9.6" fill="#222" text-anchor="middle" textLength="8.2" lengthAdjust="spacingAndGlyphs" stroke="#222" stroke-width="0.22">ns</text>
<text x="548.8" y="569.5" font-size="9.6" font-weight="bold" fill="#222" text-anchor="middle" transform="rotate(-90 548.8 569.5)">%CD8<tspan font-size="6.72" dy="-4.03">+</tspan></text>
<text x="411" y="673" font-size="13.5" font-weight="bold">N</text>
<text x="467.5" y="680.2" font-size="10.5" font-weight="bold" fill="#111" text-anchor="middle">CD4<tspan font-size="7.35" dy="-4.41">+</tspan></text>
<line x1="430.7" y1="693.7" x2="430.7" y2="806" stroke="#111" stroke-width="1.3"/>
<line x1="426.3" y1="805.4" x2="430.7" y2="805.4" stroke="#111" stroke-width="1.2"/>
<text x="424.4" y="808.35" font-size="8.2" font-weight="bold" fill="#222" text-anchor="end">40</text>
<line x1="426.3" y1="783.18" x2="430.7" y2="783.18" stroke="#111" stroke-width="1.2"/>
<text x="424.4" y="786.13" font-size="8.2" font-weight="bold" fill="#222" text-anchor="end">45</text>
<line x1="426.3" y1="760.96" x2="430.7" y2="760.96" stroke="#111" stroke-width="1.2"/>
<text x="424.4" y="763.91" font-size="8.2" font-weight="bold" fill="#222" text-anchor="end">50</text>
<line x1="426.3" y1="738.74" x2="430.7" y2="738.74" stroke="#111" stroke-width="1.2"/>
<text x="424.4" y="741.69" font-size="8.2" font-weight="bold" fill="#222" text-anchor="end">55</text>
<line x1="426.3" y1="716.52" x2="430.7" y2="716.52" stroke="#111" stroke-width="1.2"/>
<text x="424.4" y="719.47" font-size="8.2" font-weight="bold" fill="#222" text-anchor="end">60</text>
<line x1="426.3" y1="694.3" x2="430.7" y2="694.3" stroke="#111" stroke-width="1.2"/>
<text x="424.4" y="697.25" font-size="8.2" font-weight="bold" fill="#222" text-anchor="end">65</text>
<line x1="430.1" y1="805.4" x2="502.8" y2="805.4" stroke="#111" stroke-width="1.3"/>
<line x1="451.9" y1="805.4" x2="451.9" y2="809.9" stroke="#111" stroke-width="1.2"/>
<text x="451.9" y="819.5" font-size="8.2" font-weight="bold" fill="#222" text-anchor="middle">sh-NC</text>
<line x1="484.1" y1="805.4" x2="484.1" y2="809.9" stroke="#111" stroke-width="1.2"/>
<text x="484.1" y="819.5" font-size="8.2" font-weight="bold" fill="#222" text-anchor="middle">sh-GPR4</text>
<line x1="451.9" y1="719.41" x2="451.9" y2="738.3" stroke="#3a5cc0" stroke-width="0.8"/>
<line x1="446.9" y1="719.41" x2="456.9" y2="719.41" stroke="#3a5cc0" stroke-width="0.8"/>
<line x1="446.9" y1="738.3" x2="456.9" y2="738.3" stroke="#3a5cc0" stroke-width="0.8"/>
<circle cx="445.3" cy="723.19" r="1.9" fill="#1c40a8"/>
<circle cx="451.9" cy="721.85" r="1.9" fill="#1c40a8"/>
<circle cx="451.9" cy="727.19" r="1.9" fill="#1c40a8"/>
<circle cx="458.8" cy="725.85" r="1.9" fill="#1c40a8"/>
<circle cx="451.9" cy="744.96" r="1.9" fill="#1c40a8"/>
<line x1="441.1" y1="728.52" x2="462.3" y2="728.52" stroke="#111" stroke-width="1.4"/>
<line x1="484.1" y1="766.74" x2="484.1" y2="786.29" stroke="#f04848" stroke-width="0.8"/>
<line x1="479.1" y1="766.74" x2="489.1" y2="766.74" stroke="#f04848" stroke-width="0.8"/>
<line x1="479.1" y1="786.29" x2="489.1" y2="786.29" stroke="#f04848" stroke-width="0.8"/>
<rect x="482.35" y="764.1" width="3.5" height="3.5" fill="#f01c1c"/>
<rect x="489.05" y="769.88" width="3.5" height="3.5" fill="#f01c1c"/>
<rect x="482.35" y="771.21" width="3.5" height="3.5" fill="#f01c1c"/>
<rect x="482.35" y="781.87" width="3.5" height="3.5" fill="#f01c1c"/>
<rect x="482.35" y="788.1" width="3.5" height="3.5" fill="#f01c1c"/>
<line x1="473.7" y1="776.96" x2="494.5" y2="776.96" stroke="#111" stroke-width="1.4"/>
<line x1="449.4" y1="698.9" x2="484.1" y2="698.9" stroke="#111" stroke-width="1.5"/>
<line x1="449.4" y1="693.8" x2="449.4" y2="704" stroke="#111" stroke-width="1.5"/>
<line x1="484.1" y1="693.8" x2="484.1" y2="704" stroke="#111" stroke-width="1.5"/>
<text x="466.75" y="696" font-size="7.5" fill="#222" text-anchor="middle" stroke="#222" stroke-width="0.17">P&lt;0.001</text>
<text x="410.4" y="751.4" font-size="9.6" font-weight="bold" fill="#222" text-anchor="middle" transform="rotate(-90 410.4 751.4)">%CD3<tspan font-size="6.72" dy="-4.03">+</tspan></text>
<text x="519.6" y="673.7" font-size="13.5" font-weight="bold">O</text>
<text x="579.8" y="680.2" font-size="10.5" font-weight="bold" fill="#111" text-anchor="middle">CD8<tspan font-size="7.35" dy="-4.41">+</tspan></text>
<line x1="542.9" y1="693.7" x2="542.9" y2="806" stroke="#111" stroke-width="1.3"/>
<line x1="538.5" y1="789.8" x2="542.9" y2="789.8" stroke="#111" stroke-width="1.2"/>
<text x="536.6" y="792.75" font-size="8.2" font-weight="bold" fill="#222" text-anchor="end">30</text>
<line x1="538.5" y1="757.97" x2="542.9" y2="757.97" stroke="#111" stroke-width="1.2"/>
<text x="536.6" y="760.92" font-size="8.2" font-weight="bold" fill="#222" text-anchor="end">40</text>
<line x1="538.5" y1="726.13" x2="542.9" y2="726.13" stroke="#111" stroke-width="1.2"/>
<text x="536.6" y="729.09" font-size="8.2" font-weight="bold" fill="#222" text-anchor="end">50</text>
<line x1="538.5" y1="694.3" x2="542.9" y2="694.3" stroke="#111" stroke-width="1.2"/>
<text x="536.6" y="697.25" font-size="8.2" font-weight="bold" fill="#222" text-anchor="end">60</text>
<line x1="542.3" y1="805.4" x2="617.2" y2="805.4" stroke="#111" stroke-width="1.3"/>
<line x1="564.3" y1="805.4" x2="564.3" y2="809.9" stroke="#111" stroke-width="1.2"/>
<text x="564.3" y="819.5" font-size="8.2" font-weight="bold" fill="#222" text-anchor="middle">sh-NC</text>
<line x1="596" y1="805.4" x2="596" y2="809.9" stroke="#111" stroke-width="1.2"/>
<text x="596" y="819.5" font-size="8.2" font-weight="bold" fill="#222" text-anchor="middle">sh-GPR4</text>
<line x1="564.3" y1="794.58" x2="564.3" y2="797.76" stroke="#3a5cc0" stroke-width="0.8"/>
<line x1="560.3" y1="794.58" x2="568.3" y2="794.58" stroke="#3a5cc0" stroke-width="0.8"/>
<line x1="560.3" y1="797.76" x2="568.3" y2="797.76" stroke="#3a5cc0" stroke-width="0.8"/>
<circle cx="554.9" cy="794.58" r="1.9" fill="#1c40a8"/>
<circle cx="554.9" cy="797.44" r="1.9" fill="#1c40a8"/>
<circle cx="561.2" cy="795.53" r="1.9" fill="#1c40a8"/>
<circle cx="567" cy="797.44" r="1.9" fill="#1c40a8"/>
<circle cx="573" cy="796.17" r="1.9" fill="#1c40a8"/>
<line x1="553.9" y1="796.49" x2="574.7" y2="796.49" stroke="#111" stroke-width="1.4"/>
<line x1="596" y1="738.87" x2="596" y2="752.87" stroke="#f04848" stroke-width="0.8"/>
<line x1="591" y1="738.87" x2="601" y2="738.87" stroke="#f04848" stroke-width="0.8"/>
<line x1="591" y1="752.87" x2="601" y2="752.87" stroke="#f04848" stroke-width="0.8"/>
<rect x="594.25" y="732.34" width="3.5" height="3.5" fill="#f01c1c"/>
<rect x="594.25" y="747.3" width="3.5" height="3.5" fill="#f01c1c"/>
<rect x="600.55" y="744.12" width="3.5" height="3.5" fill="#f01c1c"/>
<rect x="600.95" y="747.3" width="3.5" height="3.5" fill="#f01c1c"/>
<rect x="587.45" y="750.81" width="3.5" height="3.5" fill="#f01c1c"/>
<line x1="585" y1="746.19" x2="606.8" y2="746.19" stroke="#111" stroke-width="1.4"/>
<line x1="561.6" y1="698.9" x2="596" y2="698.9" stroke="#111" stroke-width="1.5"/>
<line x1="561.6" y1="693.8" x2="561.6" y2="704" stroke="#111" stroke-width="1.5"/>
<line x1="596" y1="693.8" x2="596" y2="704" stroke="#111" stroke-width="1.5"/>
<text x="578.8" y="696" font-size="7.5" fill="#222" text-anchor="middle" stroke="#222" stroke-width="0.17">P&lt;0.001</text>
<text x="522" y="752.6" font-size="9.6" font-weight="bold" fill="#222" text-anchor="middle" transform="rotate(-90 522 752.6)">%CD3<tspan font-size="6.72" dy="-4.03">+</tspan></text>
<text x="50.5" y="672.9" font-size="13.5" font-weight="bold">M</text>
<text x="92" y="674" font-size="11.6" fill="#111" stroke="#111" stroke-width="0.45">sh-NC</text>
<text x="146.9" y="674" font-size="8.9" fill="#111" stroke="#111" stroke-width="0.3">CD3<tspan font-size="5.8" dy="-3.6">+</tspan><tspan dy="3.6"> T</tspan></text>
<rect x="92.3" y="677.3" width="129" height="128.4" fill="white" stroke="#666" stroke-width="0.8"/>
<path d="M124.3 717.2h.9M134.4 733.5h.9M123.3 733.3h.9M118.9 723.1h.9M122.5 717.0h.9M116.6 726.0h.9M129.8 713.6h.9M145.4 728.0h.9M121.7 717.4h.9M123.2 718.3h.9M121.3 727.9h.9M117.6 723.4h.9M130.2 735.0h.9M125.4 719.0h.9M132.7 734.5h.9M142.2 730.5h.9M129.8 714.5h.9M139.9 720.1h.9M131.0 730.4h.9M118.6 735.2h.9M135.5 731.9h.9M114.0 721.5h.9M129.2 734.7h.9M123.5 739.3h.9M123.2 721.3h.9M129.5 717.1h.9M126.0 712.9h.9M136.9 723.7h.9M147.6 723.4h.9M137.8 731.8h.9M115.4 725.0h.9M135.1 711.3h.9M128.6 717.4h.9M119.0 725.1h.9M118.0 731.1h.9M123.2 729.1h.9M119.7 730.3h.9M135.7 736.0h.9M122.7 716.9h.9M112.6 717.2h.9M142.6 730.2h.9M141.1 727.4h.9M121.4 715.3h.9M129.3 710.8h.9M112.0 726.4h.9M131.7 732.2h.9M140.4 722.5h.9M119.5 734.3h.9M128.3 730.6h.9M126.4 731.4h.9M118.6 731.5h.9M138.2 715.9h.9M142.6 729.1h.9M141.4 718.9h.9M126.8 734.2h.9M131.2 715.9h.9M119.2 727.9h.9M135.7 735.6h.9M131.4 708.3h.9M118.8 715.4h.9M116.7 718.8h.9M138.4 730.4h.9M125.9 730.8h.9M116.7 714.3h.9M118.3 726.5h.9M140.6 721.1h.9M125.8 710.8h.9M120.2 719.9h.9M108.2 731.6h.9M130.4 733.0h.9M123.1 720.3h.9M142.7 720.4h.9M139.4 716.0h.9M131.1 738.0h.9M134.6 716.6h.9M142.8 720.6h.9M121.2 733.5h.9M143.3 720.6h.9M125.6 741.6h.9M130.3 713.6h.9M125.6 735.5h.9M129.2 734.2h.9M130.8 733.9h.9M125.1 713.2h.9M124.4 733.3h.9M118.2 713.3h.9M134.4 714.9h.9M137.5 716.9h.9M136.8 725.2h.9M121.0 728.0h.9M140.8 729.0h.9M123.2 719.2h.9M140.1 726.7h.9M141.7 708.8h.9M144.6 720.0h.9M146.9 731.6h.9M137.8 716.5h.9M98.7 718.4h.9M118.0 719.9h.9M137.7 728.6h.9M132.2 742.7h.9M147.8 717.8h.9M113.0 739.6h.9M136.7 733.2h.9M140.3 736.0h.9M140.9 754.6h.9M119.1 735.5h.9M144.3 737.7h.9M123.4 738.9h.9M144.4 736.2h.9M160.7 725.1h.9M140.8 724.5h.9M151.1 735.4h.9M133.8 735.0h.9M109.4 724.6h.9M112.2 726.1h.9M154.4 731.0h.9M108.7 730.8h.9M112.0 712.9h.9M123.9 716.8h.9M125.6 748.5h.9M104.4 718.5h.9M113.0 706.2h.9M135.3 753.7h.9M143.8 723.5h.9M113.6 714.7h.9M139.0 709.8h.9M145.7 712.5h.9M117.4 733.6h.9M126.4 742.6h.9M149.9 741.5h.9M140.2 723.2h.9M121.8 719.7h.9M108.0 737.6h.9M117.9 718.9h.9M151.9 733.2h.9M115.5 743.7h.9M147.6 717.4h.9M99.6 735.7h.9M125.3 738.3h.9M149.3 734.3h.9M139.0 712.8h.9M146.5 724.1h.9M142.4 736.6h.9M158.1 723.9h.9M122.1 728.4h.9M143.1 736.3h.9M134.3 739.9h.9M147.3 711.9h.9M135.3 739.6h.9M143.9 722.0h.9M122.9 735.0h.9M137.7 736.6h.9M138.2 740.4h.9M100.8 736.0h.9M122.2 732.9h.9M110.3 724.2h.9M186.3 788.2h.9M203.6 770.1h.9M187.1 794.8h.9M197.8 751.2h.9M177.1 762.9h.9M178.7 758.8h.9M179.6 782.4h.9M199.3 764.9h.9M191.9 764.8h.9M199.5 776.9h.9M175.8 773.4h.9M190.5 741.7h.9M175.4 783.3h.9M174.5 771.7h.9M196.3 764.3h.9M173.3 762.8h.9M203.0 756.3h.9M198.3 761.8h.9M168.0 780.1h.9M195.7 756.6h.9M186.2 794.7h.9M198.1 780.5h.9M188.7 754.4h.9M171.5 765.0h.9M171.8 753.8h.9M187.6 789.9h.9M177.1 757.3h.9M194.1 754.8h.9M199.7 785.6h.9M187.8 790.3h.9M197.6 751.4h.9M185.9 748.0h.9M193.7 774.5h.9M173.1 753.9h.9M197.9 760.5h.9M170.7 778.9h.9M183.6 746.3h.9M201.3 763.9h.9M171.1 759.0h.9M183.1 797.4h.9M203.8 784.2h.9M177.1 787.6h.9M199.3 758.8h.9M172.2 755.9h.9M176.3 752.8h.9M172.6 769.1h.9M191.1 760.3h.9M201.5 752.2h.9M193.6 753.4h.9M194.4 755.8h.9M179.6 750.1h.9M171.7 777.6h.9M176.7 771.2h.9M192.7 785.4h.9M198.5 779.4h.9M181.5 785.6h.9M167.5 793.8h.9M207.2 763.4h.9M176.1 788.8h.9M191.9 762.0h.9M170.3 771.6h.9M204.1 756.8h.9M180.4 761.3h.9M184.7 790.5h.9M191.4 791.7h.9M199.3 787.4h.9M192.7 787.9h.9M174.5 760.7h.9M174.0 750.8h.9M187.6 785.4h.9M177.9 778.4h.9M173.1 782.0h.9M199.1 769.9h.9M176.5 750.4h.9M200.1 755.7h.9M177.0 779.3h.9M169.0 775.6h.9M184.8 743.6h.9M204.2 772.0h.9M181.3 761.0h.9M174.2 779.2h.9M163.8 759.5h.9M194.8 752.9h.9M189.9 796.3h.9M187.8 753.7h.9M204.7 769.2h.9M165.9 773.4h.9M182.2 786.7h.9M198.1 772.0h.9M181.8 780.9h.9M191.2 743.9h.9M170.8 791.2h.9M180.1 758.4h.9M191.1 797.0h.9M201.4 753.0h.9M194.6 781.7h.9M168.1 778.3h.9M174.3 778.0h.9M166.7 779.3h.9M192.6 749.9h.9M198.2 755.2h.9M171.1 760.8h.9M172.8 776.7h.9M200.6 785.2h.9M203.0 754.2h.9M178.7 756.2h.9M206.9 769.4h.9M199.0 783.6h.9M168.6 777.5h.9M187.7 751.5h.9M185.0 790.3h.9M193.8 762.2h.9M176.9 777.9h.9M177.5 789.0h.9M170.7 745.4h.9M194.4 749.8h.9M172.1 776.5h.9M170.9 782.6h.9M184.3 749.3h.9M173.4 769.2h.9M190.1 750.2h.9M189.7 786.2h.9M172.4 784.1h.9M195.5 771.7h.9M180.4 790.6h.9M198.8 769.6h.9M184.5 749.6h.9M181.3 752.3h.9M183.7 790.0h.9M181.5 748.9h.9M168.6 775.3h.9M169.3 761.5h.9M187.9 735.1h.9M173.5 763.0h.9M172.8 769.5h.9M184.0 755.0h.9M202.6 772.9h.9M199.1 779.2h.9M184.6 786.2h.9M194.5 788.4h.9M191.3 794.1h.9M186.5 785.4h.9M199.5 782.0h.9M199.3 757.3h.9M181.7 772.4h.9M174.6 755.8h.9M209.2 772.5h.9M199.7 760.2h.9M187.9 788.2h.9M166.9 782.9h.9M189.5 742.5h.9M210.2 762.7h.9M203.6 776.7h.9M193.5 760.6h.9M176.6 783.1h.9M187.8 785.5h.9M175.1 756.1h.9M168.0 758.7h.9M205.2 758.9h.9M168.2 766.5h.9M170.8 761.5h.9M201.9 781.7h.9M202.2 771.9h.9M167.3 790.1h.9M189.2 752.6h.9M208.3 760.4h.9M187.0 793.1h.9M174.0 788.4h.9M180.2 784.0h.9M201.3 764.5h.9M189.6 756.5h.9M197.2 787.5h.9M191.9 742.8h.9M184.9 755.0h.9M184.9 747.3h.9M181.2 785.7h.9M190.3 790.4h.9M209.5 786.8h.9M209.8 773.6h.9M207.4 765.0h.9M188.4 787.9h.9M191.2 740.3h.9M180.2 747.9h.9M206.1 769.7h.9M204.6 752.4h.9M168.6 762.0h.9M166.0 776.7h.9M168.3 768.9h.9M167.7 777.4h.9M176.2 776.5h.9M197.7 781.2h.9M197.2 776.8h.9M187.3 796.6h.9M181.3 794.0h.9M195.5 736.3h.9M176.1 785.6h.9M169.7 759.5h.9M161.3 767.6h.9M203.8 750.4h.9M173.4 754.2h.9M191.4 759.5h.9M207.1 767.2h.9M200.2 775.1h.9M202.9 780.8h.9M191.2 784.7h.9M201.9 759.9h.9M197.4 754.9h.9M166.7 776.0h.9M161.1 776.2h.9M201.4 759.5h.9M174.1 795.4h.9M179.0 791.8h.9M208.8 785.4h.9M195.9 800.3h.9M207.0 767.9h.9M185.9 747.8h.9M188.6 747.7h.9M188.3 792.5h.9M183.3 785.9h.9M195.5 751.1h.9M193.1 752.5h.9M175.1 794.1h.9M161.4 748.2h.9M171.7 781.1h.9M194.9 787.4h.9M192.1 795.3h.9M180.1 758.0h.9M186.8 793.9h.9M188.6 752.4h.9M173.0 727.7h.9M200.9 794.7h.9M181.7 791.6h.9M167.0 786.7h.9M183.0 795.3h.9M188.9 751.5h.9M194.6 748.8h.9M201.9 794.8h.9M204.5 763.9h.9M197.1 756.3h.9M191.5 749.8h.9M200.6 777.2h.9M173.7 756.6h.9M198.9 750.6h.9M174.8 792.2h.9M184.7 749.9h.9M176.4 756.3h.9M200.3 777.6h.9M195.1 782.5h.9M199.7 779.5h.9M173.8 748.2h.9M172.7 781.6h.9M186.3 728.2h.9M198.3 781.8h.9M201.9 769.9h.9M165.9 762.1h.9M215.8 781.1h.9M187.9 802.2h.9M188.6 748.4h.9M195.7 758.0h.9M170.9 743.8h.9M178.8 739.2h.9M199.1 775.0h.9M180.7 791.7h.9M204.9 735.2h.9M175.6 732.1h.9M167.3 767.2h.9M194.0 776.1h.9M198.9 768.0h.9M179.2 748.4h.9M203.5 761.8h.9M175.0 740.0h.9M192.7 750.6h.9M202.2 759.9h.9M165.1 782.1h.9M186.1 796.4h.9M190.2 753.6h.9M187.2 746.9h.9M185.2 787.7h.9M205.6 796.0h.9M200.0 776.9h.9M172.5 750.1h.9M186.0 755.1h.9M203.2 772.0h.9M208.4 788.4h.9M180.9 726.3h.9M198.6 777.6h.9M205.7 777.6h.9M167.1 754.9h.9M196.2 741.9h.9M192.3 743.8h.9M174.2 798.3h.9M164.2 771.3h.9M180.3 771.3h.9M174.6 785.0h.9M210.9 735.9h.9M202.1 788.8h.9M173.1 767.6h.9M197.5 762.5h.9M133.0 777.2h.9M119.2 767.9h.9M123.8 784.9h.9M122.3 769.6h.9M112.3 760.1h.9M134.4 765.9h.9M136.0 769.1h.9M156.7 766.4h.9M156.9 749.6h.9M148.8 778.9h.9M145.8 776.9h.9M130.8 779.8h.9M114.7 775.3h.9M131.4 763.2h.9M147.6 769.5h.9M116.0 779.6h.9M126.7 741.3h.9M132.5 769.1h.9M119.7 770.3h.9M110.0 767.5h.9M138.1 778.2h.9M132.0 765.2h.9M130.4 763.0h.9M120.8 758.8h.9M119.7 766.6h.9M149.1 771.3h.9M141.6 769.6h.9M139.0 759.7h.9M116.2 785.9h.9M132.7 754.9h.9M135.2 767.3h.9M125.5 776.5h.9M115.0 780.2h.9M131.4 764.7h.9M113.6 784.9h.9M124.4 756.6h.9M126.7 773.2h.9M135.3 782.3h.9M134.5 768.4h.9M153.1 787.2h.9M115.9 777.8h.9M121.9 782.6h.9M118.0 771.7h.9M145.9 772.1h.9M140.6 762.7h.9M114.7 758.4h.9M135.2 763.2h.9M144.7 766.0h.9M116.5 769.5h.9M127.4 779.2h.9M139.1 777.7h.9M119.9 749.9h.9M134.9 761.5h.9M122.5 766.8h.9M127.0 781.4h.9M112.3 766.4h.9M144.5 776.6h.9M135.4 770.5h.9M112.7 770.1h.9M120.1 758.4h.9M128.5 778.7h.9M136.5 773.8h.9M114.5 764.0h.9M148.0 774.4h.9M118.7 775.2h.9M140.9 775.0h.9M134.1 756.3h.9M127.8 774.4h.9M133.4 763.2h.9M118.5 767.6h.9M133.6 761.8h.9M134.7 771.7h.9M126.2 757.5h.9M123.9 781.7h.9M130.4 779.4h.9M129.1 769.0h.9M117.6 772.4h.9M119.1 761.4h.9M153.6 768.9h.9M122.1 780.9h.9M117.5 770.1h.9M147.3 772.0h.9M114.1 756.9h.9M122.8 776.2h.9M129.7 771.3h.9M124.8 781.1h.9M115.8 786.2h.9M141.4 775.2h.9M128.2 764.0h.9M123.6 761.5h.9M136.6 769.7h.9M133.1 762.2h.9M130.7 758.2h.9M134.6 760.2h.9M123.1 770.8h.9M114.9 750.0h.9M140.7 767.1h.9M120.9 783.0h.9M151.8 768.8h.9M131.3 792.2h.9M121.1 779.4h.9M129.4 771.7h.9M156.6 759.4h.9M130.1 761.5h.9M137.5 772.5h.9M113.5 764.7h.9M128.7 775.3h.9M133.9 774.8h.9M129.1 777.6h.9M134.6 760.9h.9M127.7 762.0h.9M129.3 767.9h.9M121.6 782.2h.9M128.4 760.3h.9M123.1 777.4h.9M150.6 780.4h.9M124.7 776.6h.9M110.1 776.4h.9M125.8 771.3h.9M114.8 772.4h.9M144.7 757.8h.9M138.5 763.9h.9M127.1 768.9h.9M140.5 772.8h.9M142.8 781.0h.9M123.1 776.9h.9M127.5 777.9h.9M117.2 776.2h.9M122.1 757.3h.9M134.8 773.9h.9M111.7 748.0h.9M126.8 772.7h.9M123.3 763.7h.9M132.3 779.7h.9M133.0 765.8h.9M120.4 770.4h.9M103.7 769.5h.9M126.6 768.4h.9M124.9 766.7h.9M111.8 774.4h.9M124.3 768.6h.9M122.3 755.2h.9M125.0 771.9h.9M146.4 768.2h.9M133.8 785.1h.9M124.5 779.5h.9M128.4 777.7h.9M129.3 777.3h.9M119.8 764.3h.9M121.2 766.0h.9M129.1 772.5h.9M123.8 759.2h.9M136.4 778.3h.9M149.0 741.1h.9M157.2 764.6h.9M112.2 756.0h.9M115.6 779.3h.9M134.3 756.9h.9M143.2 769.2h.9M123.9 769.8h.9M126.7 778.9h.9M141.4 746.0h.9M119.1 772.5h.9M117.5 744.6h.9M129.7 756.7h.9M111.9 751.1h.9M128.8 741.9h.9M131.5 787.4h.9M161.2 761.6h.9M161.0 776.4h.9M148.2 757.4h.9M132.5 758.3h.9M165.7 764.3h.9M102.3 762.9h.9M165.9 763.6h.9M124.7 758.0h.9M133.2 776.1h.9M145.9 743.1h.9M110.0 770.4h.9M121.7 778.9h.9M109.6 776.0h.9M129.1 788.9h.9M129.3 748.1h.9M125.3 754.9h.9M110.7 770.7h.9M98.6 749.6h.9M146.7 738.9h.9M133.0 744.3h.9M101.1 759.8h.9M145.7 777.7h.9M149.3 779.5h.9M135.1 764.9h.9M136.8 779.5h.9M119.6 784.1h.9M111.2 791.8h.9M143.0 803.9h.9M135.5 771.5h.9M98.8 756.1h.9M143.6 763.0h.9M129.1 775.8h.9M99.9 753.4h.9M144.1 759.3h.9M154.3 749.7h.9M122.7 770.7h.9M165.9 739.8h.9M95.9 741.2h.9M105.2 764.7h.9M149.0 760.2h.9M135.0 770.6h.9M137.8 765.3h.9M107.6 752.6h.9M135.6 803.9h.9M113.0 773.1h.9M115.5 758.0h.9M114.7 790.7h.9M138.0 752.6h.9M150.0 749.4h.9M137.2 747.1h.9M115.0 732.7h.9M152.8 768.2h.9M141.9 760.8h.9M185.7 727.9h.9M209.6 723.3h.9M203.0 706.1h.9M171.1 727.5h.9M165.2 753.4h.9M189.5 735.5h.9M179.8 736.7h.9M177.3 750.5h.9M204.8 718.4h.9M174.6 705.3h.9M166.4 749.7h.9M198.0 755.0h.9M194.5 744.2h.9M196.9 722.4h.9M190.4 745.5h.9M189.7 715.1h.9M175.6 719.9h.9M188.6 729.2h.9M202.1 724.1h.9M197.1 732.0h.9M189.1 727.8h.9M175.7 722.4h.9M171.7 723.5h.9M120.3 721.1h.9M152.3 803.7h.9M214.7 770.6h.9M217.5 733.1h.9M108.4 763.3h.9M163.0 740.0h.9M165.4 687.7h.9M164.1 738.3h.9M176.0 745.8h.9M149.4 775.1h.9M206.8 745.4h.9M210.9 681.2h.9M163.4 757.4h.9M136.3 703.9h.9M108.5 732.6h.9M180.8 739.1h.9M105.1 801.4h.9M210.3 753.6h.9" stroke="#2a3c9c" stroke-width="0.9" fill="none"/>
<path d="M131.3 717.7h.9M130.9 715.0h.9M122.7 722.3h.9M131.0 718.4h.9M122.4 724.7h.9M134.3 718.5h.9M127.4 719.9h.9M138.3 722.3h.9M135.4 717.4h.9M135.8 722.5h.9M141.7 717.8h.9M122.7 718.9h.9M133.7 733.0h.9M122.7 732.1h.9M135.5 719.1h.9M143.6 721.6h.9M136.2 726.7h.9M131.2 734.8h.9M137.3 718.9h.9M141.1 734.0h.9M135.1 726.3h.9M127.9 718.5h.9M129.2 731.8h.9M120.9 734.0h.9M130.2 711.5h.9M122.6 731.1h.9M125.4 727.0h.9M120.9 727.4h.9M130.1 717.7h.9M128.4 734.7h.9M136.9 731.7h.9M125.1 719.3h.9M129.7 716.7h.9M137.3 729.0h.9M123.0 726.6h.9M139.9 720.7h.9M131.6 718.6h.9M140.0 722.4h.9M128.1 728.5h.9M135.5 729.6h.9M127.4 731.3h.9M133.0 725.7h.9M131.9 734.1h.9M133.7 721.5h.9M128.2 727.0h.9M138.2 716.4h.9M133.9 718.7h.9M132.5 718.9h.9M139.2 716.5h.9M123.4 713.4h.9M138.3 718.1h.9M136.3 733.5h.9M120.1 725.9h.9M125.5 718.2h.9M114.2 727.8h.9M132.5 718.5h.9M134.7 730.0h.9M125.5 718.3h.9M134.9 725.5h.9M137.3 726.3h.9M130.7 712.6h.9M135.8 735.7h.9M135.9 731.5h.9M127.4 715.7h.9M135.5 717.3h.9M124.6 728.0h.9M139.6 721.4h.9M132.5 728.2h.9M126.0 725.0h.9M126.6 726.9h.9M123.5 718.7h.9M126.1 731.0h.9M136.7 735.8h.9M127.4 725.2h.9M127.0 734.6h.9M134.9 735.1h.9M120.7 728.6h.9M114.5 722.5h.9M119.4 729.2h.9M135.6 723.9h.9M142.8 729.6h.9M126.2 716.5h.9M124.2 730.6h.9M119.1 724.0h.9M135.9 715.3h.9M136.2 724.9h.9M118.9 724.2h.9M134.2 723.5h.9M120.1 724.0h.9M135.9 730.3h.9M144.5 724.2h.9M141.6 733.5h.9M123.8 734.9h.9M123.6 728.8h.9M126.5 733.4h.9M136.4 728.6h.9M137.5 727.6h.9M146.0 728.4h.9M184.6 750.5h.9M174.3 775.6h.9M183.3 784.2h.9M181.6 780.2h.9M171.2 778.2h.9M172.7 765.6h.9M191.2 756.7h.9M193.7 765.6h.9M195.2 786.7h.9M171.6 765.1h.9M193.1 781.3h.9M191.3 790.8h.9M178.0 785.2h.9M192.4 777.6h.9M186.0 756.7h.9M181.9 754.1h.9M195.9 780.4h.9M184.4 756.9h.9M192.8 764.4h.9M184.4 780.5h.9M185.1 785.9h.9M196.3 781.2h.9M186.9 754.4h.9M192.7 765.4h.9M173.7 756.2h.9M184.8 756.9h.9M188.4 756.6h.9M185.3 750.5h.9M176.6 756.6h.9M194.9 753.0h.9M186.7 787.4h.9M196.0 772.8h.9M193.9 753.2h.9M172.2 771.7h.9M178.8 756.6h.9M174.9 766.1h.9M183.5 781.2h.9M180.9 782.7h.9M170.9 773.9h.9M178.4 777.4h.9M171.6 764.1h.9M187.7 761.1h.9M178.5 758.3h.9M199.2 765.2h.9M166.9 780.9h.9M169.1 771.7h.9M169.1 780.2h.9M172.6 766.4h.9M192.9 778.2h.9M180.9 768.2h.9M177.9 768.1h.9M171.7 755.4h.9M178.9 780.8h.9M178.5 776.9h.9M198.6 773.4h.9M182.6 756.7h.9M182.2 775.3h.9M191.6 757.5h.9M194.4 782.3h.9M177.4 768.2h.9M200.3 766.7h.9M176.0 780.8h.9M182.4 779.3h.9M172.3 769.8h.9M170.7 768.7h.9M169.7 755.7h.9M190.3 762.2h.9M197.9 771.5h.9M185.3 782.0h.9M196.3 772.7h.9M171.4 758.6h.9M178.9 768.7h.9M194.4 755.7h.9M180.5 782.0h.9M196.3 753.1h.9M199.2 770.6h.9M189.6 784.3h.9M186.0 753.3h.9M188.0 759.5h.9M176.5 769.7h.9M200.9 760.6h.9M197.3 769.7h.9M197.2 765.4h.9M192.8 764.5h.9M185.7 754.2h.9M198.3 775.2h.9M200.7 762.2h.9M193.6 763.3h.9M193.7 752.0h.9M205.7 773.5h.9M177.6 761.3h.9M181.2 758.7h.9M169.4 766.6h.9M187.4 757.2h.9M173.2 767.6h.9M180.5 755.9h.9M171.9 753.8h.9M195.6 761.9h.9M168.0 790.2h.9M185.2 786.9h.9M179.2 760.5h.9M187.0 753.1h.9M199.4 766.4h.9M199.1 777.8h.9M187.3 757.5h.9M185.6 754.9h.9M176.4 768.8h.9M193.0 758.8h.9M178.0 757.3h.9M176.7 780.6h.9M190.5 759.5h.9M199.2 779.7h.9M189.2 759.5h.9M196.2 769.8h.9M190.9 756.4h.9M177.7 769.7h.9M178.6 764.4h.9M194.3 751.0h.9M192.6 777.0h.9M173.8 778.7h.9M176.9 773.8h.9M187.1 754.3h.9M190.1 780.1h.9M200.1 759.7h.9M193.5 784.2h.9M173.0 771.9h.9M186.9 758.7h.9M178.8 762.1h.9M174.1 782.4h.9M176.2 762.4h.9M197.1 782.5h.9M171.7 771.5h.9M192.0 757.7h.9M192.1 783.4h.9M173.7 765.9h.9M177.9 776.8h.9M179.8 791.2h.9M177.9 756.8h.9M191.0 759.4h.9M178.3 778.1h.9M175.0 757.6h.9M195.0 760.2h.9M190.8 758.1h.9M172.0 764.1h.9M195.4 773.8h.9M178.0 757.3h.9M181.1 783.0h.9M188.9 789.8h.9M183.7 786.5h.9M180.2 755.9h.9M196.5 763.5h.9M191.8 784.2h.9M177.3 778.1h.9M196.8 778.2h.9M200.1 779.6h.9M191.7 751.2h.9M178.9 776.2h.9M180.4 775.9h.9M178.6 776.1h.9M199.4 774.1h.9M181.1 751.1h.9M174.6 765.3h.9M185.8 786.5h.9M188.7 779.9h.9M188.8 757.7h.9M200.2 779.6h.9M193.8 773.4h.9M180.1 757.7h.9M186.8 785.0h.9M192.0 781.1h.9M203.2 786.6h.9M176.7 757.8h.9M174.9 772.1h.9M184.0 756.0h.9M198.8 772.3h.9M190.6 798.1h.9M193.2 747.7h.9M170.7 782.1h.9M191.9 759.9h.9M199.6 759.6h.9M195.6 762.5h.9M178.0 789.9h.9M185.2 787.3h.9M175.6 781.6h.9M181.1 754.6h.9M194.0 785.0h.9M188.4 788.3h.9M191.3 784.9h.9M189.9 784.6h.9M186.9 784.5h.9M193.8 788.7h.9M178.8 759.6h.9M198.0 769.3h.9M172.0 787.7h.9M175.0 780.7h.9M191.1 765.7h.9M195.4 773.7h.9M189.3 783.5h.9M181.8 763.8h.9M197.2 777.9h.9M191.2 762.0h.9M178.9 765.4h.9M177.1 773.7h.9M186.9 756.1h.9M196.4 778.3h.9M193.6 781.0h.9M178.5 785.8h.9M175.9 786.7h.9M183.3 751.1h.9M175.3 784.5h.9M183.1 754.4h.9M178.6 756.7h.9M182.5 762.3h.9M204.5 753.6h.9M197.7 776.6h.9M193.2 784.6h.9M169.7 762.2h.9M173.9 767.3h.9M177.5 749.0h.9M176.4 771.7h.9M138.3 762.0h.9M123.0 754.7h.9M129.2 764.6h.9M139.8 772.7h.9M127.9 773.0h.9M129.6 767.4h.9M138.2 760.7h.9M143.4 772.2h.9M133.9 773.5h.9M132.1 753.2h.9M123.0 770.8h.9M124.1 766.0h.9M126.5 758.5h.9M136.5 763.7h.9M139.8 759.9h.9M128.7 777.5h.9M128.0 766.2h.9M114.6 760.5h.9M138.6 763.4h.9M117.1 761.7h.9M128.4 774.2h.9M127.0 774.0h.9M114.4 754.3h.9M118.6 764.3h.9M122.2 769.5h.9M134.6 766.5h.9M140.1 772.6h.9M132.0 763.8h.9M137.3 773.9h.9M119.5 770.7h.9M134.3 753.6h.9M119.1 760.3h.9M120.5 781.3h.9M107.0 755.1h.9M115.2 774.1h.9M142.3 744.0h.9M136.0 776.4h.9M134.2 767.2h.9M135.0 778.8h.9M135.8 739.2h.9M173.9 777.9h.9M189.5 734.2h.9M160.4 798.4h.9M210.3 738.0h.9" stroke="#3552b8" stroke-width="0.9" fill="none"/>
<path d="M127.9 726.8h.9M136.9 725.1h.9M126.0 720.2h.9M124.9 727.5h.9M123.2 723.5h.9M121.2 724.6h.9M139.0 727.6h.9M135.0 729.1h.9M130.2 719.7h.9M121.8 722.7h.9M129.2 731.9h.9M126.2 717.6h.9M132.7 715.8h.9M140.8 726.4h.9M133.6 725.2h.9M134.2 719.4h.9M127.4 728.9h.9M129.6 716.5h.9M127.9 723.0h.9M133.6 719.4h.9M122.1 725.2h.9M127.0 728.1h.9M122.8 732.5h.9M133.9 728.9h.9M125.0 723.5h.9M128.3 730.9h.9M122.0 730.3h.9M127.3 722.6h.9M135.6 731.8h.9M134.8 722.7h.9M127.5 727.5h.9M137.0 720.1h.9M134.4 723.8h.9M127.3 725.1h.9M128.5 723.0h.9M122.3 731.4h.9M133.0 722.7h.9M134.4 721.2h.9M129.2 720.7h.9M128.2 718.2h.9M125.0 720.6h.9M135.2 717.2h.9M134.3 716.9h.9M119.5 721.9h.9M130.9 724.3h.9M135.3 721.2h.9M131.3 729.4h.9M134.3 728.9h.9M135.9 727.4h.9M138.9 722.6h.9M121.0 722.4h.9M126.2 725.6h.9M131.5 726.9h.9M138.1 718.0h.9M135.4 724.2h.9M134.6 718.7h.9M130.9 718.2h.9M131.0 725.0h.9M133.8 727.3h.9M123.8 732.7h.9M131.7 719.5h.9M132.1 720.6h.9M134.5 729.1h.9M123.8 728.6h.9M132.3 723.1h.9M142.4 723.1h.9M130.7 725.9h.9M131.1 730.7h.9M134.3 726.4h.9M122.4 731.2h.9M131.4 725.0h.9M123.9 729.5h.9M128.1 728.7h.9M128.0 727.0h.9M137.5 728.2h.9M132.5 718.4h.9M130.0 728.5h.9M134.5 720.3h.9M129.1 719.8h.9M120.0 721.2h.9M131.6 718.0h.9M134.8 723.5h.9M125.7 717.4h.9M137.7 719.6h.9M141.2 727.3h.9M138.5 725.6h.9M123.4 726.3h.9M122.6 723.1h.9M126.8 725.9h.9M130.2 718.6h.9M123.8 727.7h.9M125.2 722.7h.9M135.6 721.2h.9M136.5 727.7h.9M140.9 727.0h.9M135.3 721.6h.9M138.9 730.4h.9M136.4 718.2h.9M117.8 726.0h.9M140.4 729.1h.9M133.1 717.5h.9M133.1 723.2h.9M130.0 714.1h.9M134.7 728.3h.9M128.3 721.5h.9M132.5 730.8h.9M123.6 724.4h.9M124.4 729.3h.9M138.7 721.4h.9M183.8 768.5h.9M193.5 773.0h.9M197.8 759.7h.9M189.1 777.1h.9M179.3 768.1h.9M185.5 781.9h.9M174.8 764.3h.9M193.0 785.0h.9M191.6 768.8h.9M180.3 762.5h.9M173.3 767.6h.9M185.4 780.0h.9M174.1 771.9h.9M182.2 769.9h.9M191.1 785.2h.9M182.9 754.2h.9M178.3 764.2h.9M187.2 766.5h.9M193.2 788.3h.9M178.8 757.5h.9M199.5 772.4h.9M178.8 760.5h.9M194.7 767.2h.9M195.9 766.9h.9M181.1 761.7h.9M192.1 776.0h.9M186.6 761.2h.9M193.0 781.6h.9M185.4 780.6h.9M177.7 774.0h.9M180.2 756.5h.9M194.4 775.4h.9M198.3 768.5h.9M189.2 785.0h.9M187.0 761.3h.9M177.5 766.4h.9M186.4 779.6h.9M199.2 769.5h.9M171.4 762.5h.9M184.0 778.8h.9M189.5 758.0h.9M181.7 767.7h.9M194.2 763.6h.9M184.8 760.2h.9M184.7 775.5h.9M180.3 779.0h.9M178.4 777.2h.9M182.1 774.1h.9M188.3 772.6h.9M196.6 782.9h.9M186.9 773.9h.9M189.8 760.7h.9M191.0 781.3h.9M196.8 777.0h.9M184.2 777.0h.9M186.5 759.8h.9M178.5 761.4h.9M187.0 780.9h.9M178.0 761.7h.9M174.1 775.0h.9M177.8 771.1h.9M184.8 783.2h.9M182.2 763.1h.9M189.5 765.2h.9M200.1 768.1h.9M195.7 769.8h.9M175.9 765.8h.9M197.0 767.7h.9M188.1 782.5h.9M191.3 765.7h.9M185.5 772.5h.9M196.4 774.2h.9M177.7 769.4h.9M190.7 762.8h.9M190.3 780.3h.9M172.8 774.1h.9M172.9 770.4h.9M177.2 769.5h.9M179.0 764.2h.9M188.7 765.3h.9M181.6 781.0h.9M195.3 775.5h.9M183.8 768.9h.9M172.4 772.0h.9M196.5 765.6h.9M191.6 772.4h.9M174.8 765.2h.9M192.0 783.1h.9M184.2 784.6h.9M192.2 759.3h.9M190.1 773.9h.9M176.2 776.3h.9M183.5 781.4h.9M189.2 783.0h.9M184.8 780.3h.9M178.7 752.9h.9M177.3 774.3h.9M195.3 769.8h.9M185.5 769.8h.9M195.3 776.8h.9M190.8 775.3h.9M178.3 756.2h.9M193.8 772.1h.9M193.0 763.4h.9M186.9 781.4h.9M175.6 765.2h.9M196.6 777.3h.9M189.3 778.9h.9M186.4 766.9h.9M194.8 766.6h.9M193.0 764.4h.9M189.3 777.7h.9M183.9 761.6h.9M191.0 770.0h.9M175.9 782.0h.9M182.5 784.2h.9M182.1 771.8h.9M195.3 775.8h.9M177.8 763.6h.9M193.6 778.0h.9M184.5 780.1h.9M193.0 764.5h.9M198.2 769.5h.9M179.6 754.3h.9M175.7 759.2h.9M173.7 773.1h.9M171.4 773.9h.9M178.9 774.7h.9M176.2 772.5h.9M185.0 760.2h.9M175.2 764.0h.9M180.6 770.4h.9M184.8 774.7h.9M181.7 775.0h.9M183.6 782.7h.9M179.3 765.8h.9M192.7 769.8h.9M189.0 761.6h.9M178.4 763.3h.9M182.9 766.6h.9M180.2 765.8h.9M177.5 771.0h.9M178.6 775.2h.9M182.9 775.2h.9M175.6 767.0h.9M176.3 763.1h.9M183.2 762.5h.9M197.5 765.0h.9M174.8 780.2h.9M187.3 767.4h.9M183.0 783.8h.9M184.6 757.3h.9M177.2 769.2h.9M195.5 773.2h.9M179.9 776.1h.9M190.0 777.8h.9M178.3 760.1h.9M192.4 785.1h.9M194.4 760.9h.9M202.8 773.3h.9M183.0 761.7h.9M188.3 758.7h.9M193.5 781.5h.9M183.1 779.4h.9M194.7 775.3h.9M200.8 797.0h.9M182.9 756.0h.9M198.3 768.1h.9M192.8 768.3h.9M197.0 773.3h.9M191.8 756.8h.9M189.7 772.2h.9M190.0 759.7h.9M178.8 769.4h.9M194.0 773.2h.9M181.4 777.6h.9M182.4 754.6h.9M186.1 754.3h.9M182.3 755.1h.9M181.2 759.0h.9M191.3 785.5h.9M182.5 760.5h.9M172.9 770.4h.9M178.9 767.9h.9M176.5 764.7h.9M176.6 759.8h.9M175.5 776.8h.9M177.7 777.7h.9M177.2 767.7h.9M176.5 760.3h.9M199.4 763.3h.9M193.8 769.1h.9M183.0 762.7h.9M193.4 771.4h.9M192.9 769.5h.9M188.1 790.0h.9M189.3 762.5h.9M199.2 761.7h.9M136.7 763.7h.9M133.9 773.2h.9M123.1 786.6h.9M118.0 770.2h.9M127.4 776.7h.9M179.7 770.6h.9M131.5 729.0h.9M129.5 761.0h.9M124.3 766.2h.9M173.9 765.6h.9" stroke="#3a78d0" stroke-width="0.9" fill="none"/>
<path d="M129.0 718.1h.9M129.1 721.3h.9M132.2 729.1h.9M137.2 728.4h.9M128.0 723.1h.9M135.8 718.0h.9M125.6 724.1h.9M128.6 725.8h.9M132.3 718.7h.9M129.5 722.1h.9M127.3 726.0h.9M126.5 721.9h.9M124.9 721.6h.9M123.4 729.5h.9M129.7 721.1h.9M129.9 730.4h.9M134.2 726.1h.9M125.0 721.0h.9M128.8 723.2h.9M123.9 727.3h.9M125.8 724.5h.9M127.7 720.8h.9M131.8 728.0h.9M130.2 719.5h.9M127.4 726.1h.9M131.5 729.8h.9M129.2 727.2h.9M125.0 719.5h.9M123.9 725.4h.9M135.3 723.4h.9M125.4 720.5h.9M129.1 720.5h.9M129.8 731.1h.9M127.8 722.4h.9M125.2 721.1h.9M132.4 723.4h.9M124.0 722.4h.9M129.2 720.7h.9M130.9 721.9h.9M134.3 728.3h.9M131.5 728.3h.9M125.1 729.0h.9M125.3 729.1h.9M134.9 727.3h.9M132.5 726.5h.9M123.7 723.9h.9M123.4 725.7h.9M129.2 720.2h.9M124.7 724.4h.9M127.6 722.2h.9M129.9 723.4h.9M127.2 727.8h.9M127.8 721.0h.9M127.9 724.3h.9M128.9 725.1h.9M137.1 722.9h.9M126.0 724.2h.9M133.1 724.8h.9M125.8 723.9h.9M126.0 731.0h.9M127.1 725.4h.9M127.8 719.6h.9M130.6 726.7h.9M129.7 720.5h.9M135.3 723.9h.9M131.6 722.6h.9M133.7 723.0h.9M133.3 725.4h.9M130.1 730.4h.9M127.1 727.2h.9M129.0 730.4h.9M126.6 732.0h.9M138.8 721.6h.9M133.3 726.9h.9M132.4 736.3h.9M128.6 724.5h.9M120.8 728.3h.9M136.2 728.9h.9M124.1 729.0h.9M133.5 719.0h.9M185.6 776.2h.9M185.2 768.6h.9M189.9 781.8h.9M196.1 772.6h.9M195.0 771.2h.9M183.7 767.6h.9M180.4 778.7h.9M188.2 758.4h.9M183.1 765.5h.9M193.5 771.5h.9M182.2 761.8h.9M184.5 777.2h.9M178.5 778.5h.9M183.8 762.5h.9M186.7 778.8h.9M185.3 776.1h.9M188.5 781.0h.9M181.8 768.6h.9M184.2 781.2h.9M194.1 765.2h.9M193.5 763.7h.9M192.4 768.4h.9M189.6 780.5h.9M183.3 768.3h.9M192.7 770.1h.9M188.1 768.3h.9M190.0 767.3h.9M182.5 771.1h.9M174.7 772.1h.9M185.3 772.0h.9M186.3 781.0h.9M187.7 776.8h.9M194.1 770.2h.9M189.9 769.5h.9M191.4 764.5h.9M187.5 783.5h.9M180.1 763.5h.9M187.1 772.2h.9M179.2 772.8h.9M193.8 772.2h.9M186.3 779.1h.9M192.0 776.1h.9M185.4 766.1h.9M186.9 774.1h.9M196.2 765.8h.9M192.6 761.7h.9M181.8 765.6h.9M184.0 784.5h.9M186.3 778.8h.9M187.5 781.4h.9M180.1 781.7h.9M186.8 763.9h.9M184.8 782.1h.9M189.2 769.2h.9M187.6 767.7h.9M189.7 769.3h.9M185.5 762.2h.9M179.4 762.4h.9M189.0 762.7h.9M189.4 776.9h.9M192.9 772.8h.9M191.4 776.3h.9M187.5 775.1h.9M191.0 764.3h.9M187.3 777.2h.9M182.7 764.0h.9M179.8 781.8h.9M187.9 775.8h.9M181.6 780.8h.9M191.0 764.5h.9M178.1 775.5h.9M185.6 759.0h.9M188.3 777.6h.9M181.2 775.7h.9M186.6 779.9h.9M178.4 773.1h.9M177.0 771.2h.9M195.1 782.3h.9M189.5 766.9h.9M189.2 781.9h.9M187.0 759.0h.9M190.4 781.3h.9M182.1 770.6h.9M179.6 782.0h.9M193.4 762.5h.9M180.2 768.4h.9M187.8 776.0h.9M181.2 771.3h.9M183.0 773.1h.9M182.8 774.9h.9M190.5 779.1h.9M186.4 764.5h.9M191.8 784.4h.9M183.3 769.3h.9M179.0 763.0h.9M179.1 761.7h.9M187.1 779.3h.9M181.5 766.4h.9M185.7 782.5h.9M176.8 768.4h.9M186.7 774.0h.9M182.9 761.2h.9M194.1 766.2h.9M191.3 777.1h.9M188.0 769.7h.9M188.8 762.8h.9M179.5 771.4h.9M189.4 779.3h.9M176.0 763.8h.9M182.9 760.1h.9M201.2 765.7h.9M176.9 768.7h.9M178.9 760.9h.9M183.9 763.8h.9M185.7 770.6h.9M189.1 768.8h.9M192.7 769.1h.9M185.4 758.9h.9M184.1 778.6h.9M178.0 766.6h.9M190.8 778.5h.9M179.8 761.0h.9M185.7 761.4h.9M193.3 771.7h.9M183.3 776.1h.9M184.2 763.7h.9M191.0 762.0h.9M177.2 777.4h.9M181.5 766.0h.9M190.6 768.9h.9M195.8 774.9h.9M193.0 769.7h.9M187.6 781.8h.9M190.5 766.5h.9M184.1 764.9h.9M177.9 763.6h.9M187.2 768.0h.9M177.8 777.1h.9M188.6 767.4h.9M187.0 781.8h.9M181.4 763.3h.9M181.6 764.0h.9M179.4 772.6h.9M185.0 763.0h.9M188.4 774.0h.9M189.4 776.9h.9M183.7 774.4h.9M182.7 759.3h.9M184.0 760.5h.9M176.4 762.0h.9M196.7 765.6h.9M182.1 767.6h.9M190.5 763.7h.9M192.4 777.0h.9M189.4 766.8h.9M178.1 763.6h.9M197.9 766.8h.9M191.9 778.5h.9M173.9 763.1h.9M185.0 760.4h.9M187.1 776.0h.9M188.6 760.7h.9M187.3 762.4h.9M184.9 764.8h.9M181.9 773.5h.9M182.4 765.4h.9M184.3 764.0h.9M190.4 767.2h.9M200.3 766.8h.9M184.1 762.6h.9M198.1 764.9h.9M176.0 769.8h.9M195.9 767.0h.9M199.4 773.9h.9M181.2 772.9h.9M189.7 773.1h.9M195.1 767.7h.9M185.2 760.6h.9M184.0 783.6h.9M191.5 775.8h.9M189.2 759.6h.9M179.6 773.6h.9M175.0 777.2h.9M190.5 776.1h.9M173.1 775.5h.9M184.5 773.9h.9M184.3 757.7h.9M180.4 778.3h.9M177.3 765.3h.9M185.8 777.8h.9M192.1 766.7h.9M189.4 761.1h.9M187.2 760.7h.9M195.7 783.5h.9M191.3 781.2h.9M180.3 773.0h.9M193.4 762.2h.9M178.1 771.3h.9M125.7 770.1h.9M132.4 769.3h.9M135.3 766.8h.9" stroke="#30a8b8" stroke-width="0.9" fill="none"/>
<path d="M125.5 721.8h.9M129.3 722.8h.9M130.8 724.4h.9M133.5 722.5h.9M131.2 722.8h.9M129.5 726.9h.9M126.1 724.8h.9M135.2 727.0h.9M126.8 721.7h.9M127.1 719.5h.9M129.8 727.2h.9M128.9 719.8h.9M127.1 721.5h.9M134.3 727.0h.9M124.9 728.1h.9M129.7 728.4h.9M129.3 724.9h.9M127.7 724.9h.9M132.9 727.0h.9M129.3 722.7h.9M126.9 724.2h.9M134.2 725.7h.9M132.8 725.6h.9M126.4 722.4h.9M133.0 722.5h.9M121.9 724.4h.9M131.8 721.8h.9M125.4 724.8h.9M125.6 730.4h.9M127.4 728.1h.9M130.0 725.8h.9M128.4 726.0h.9M131.4 724.6h.9M132.8 724.8h.9M121.6 725.9h.9M124.3 729.3h.9M134.6 720.4h.9M130.7 725.0h.9M133.8 728.6h.9M130.7 725.1h.9M127.0 724.3h.9M133.8 727.1h.9M124.3 725.8h.9M129.7 729.4h.9M193.5 770.7h.9M186.2 780.1h.9M192.0 768.4h.9M186.0 769.4h.9M184.0 762.6h.9M183.7 770.0h.9M184.1 763.1h.9M185.9 771.5h.9M190.0 773.4h.9M180.7 771.4h.9M184.9 774.7h.9M187.0 778.0h.9M183.7 768.8h.9M179.5 774.3h.9M186.1 772.1h.9M187.1 767.8h.9M199.7 768.3h.9M183.0 774.4h.9M182.3 781.5h.9M182.8 765.0h.9M185.3 764.2h.9M184.2 771.0h.9M189.6 771.0h.9M181.8 767.7h.9M184.1 764.8h.9M182.6 774.6h.9M187.5 769.0h.9M190.4 765.5h.9M188.1 772.2h.9M187.2 780.9h.9M176.9 769.3h.9M181.9 773.4h.9M190.6 771.7h.9M192.2 771.8h.9M184.8 778.6h.9M183.5 776.0h.9M182.2 772.5h.9M192.6 770.7h.9M187.7 764.9h.9M178.9 772.1h.9M182.7 767.3h.9M185.9 766.3h.9M188.8 776.8h.9M187.2 759.5h.9M188.7 779.7h.9M181.7 773.9h.9M186.6 767.8h.9M190.8 770.6h.9M174.5 771.1h.9M189.2 776.7h.9M180.8 782.6h.9M183.9 774.5h.9M185.4 783.3h.9M179.4 768.5h.9M185.0 780.7h.9M182.3 769.5h.9M186.3 761.1h.9M183.0 763.5h.9M190.4 780.6h.9M186.8 771.7h.9M184.8 763.8h.9M181.4 763.8h.9M183.6 767.0h.9M190.4 774.7h.9M179.1 770.6h.9M189.0 772.2h.9M178.9 768.5h.9M184.1 763.1h.9M185.9 775.1h.9M182.7 771.1h.9M190.7 771.6h.9M186.5 770.5h.9M192.4 763.6h.9M187.2 782.3h.9M187.2 767.9h.9M183.7 768.5h.9M185.6 759.6h.9M184.2 761.7h.9M188.6 773.9h.9M189.3 777.9h.9M194.8 766.5h.9M183.6 778.0h.9M183.6 779.1h.9M174.5 764.9h.9M191.8 776.7h.9M181.1 782.1h.9M179.1 763.1h.9M186.9 772.9h.9M186.8 770.8h.9M190.3 774.1h.9M182.2 764.7h.9M189.0 772.0h.9M188.0 768.8h.9M185.3 759.2h.9M177.4 771.2h.9M184.2 769.7h.9M180.0 776.4h.9M187.9 769.4h.9M187.4 768.3h.9M189.1 766.4h.9M188.3 766.7h.9M183.4 770.9h.9M183.1 777.9h.9M181.6 758.7h.9M185.3 767.6h.9M186.6 757.5h.9M185.8 765.9h.9M188.5 777.5h.9M191.9 774.1h.9M188.5 766.0h.9M177.9 764.1h.9M187.5 762.1h.9M190.4 770.9h.9M179.9 770.6h.9M187.9 778.6h.9M178.5 771.7h.9M185.0 762.1h.9M181.2 765.9h.9M191.7 771.7h.9M186.7 778.4h.9M191.5 769.3h.9M186.9 777.6h.9M188.8 778.0h.9M189.7 779.7h.9M187.4 774.3h.9M184.7 764.6h.9M184.0 782.2h.9M184.6 766.9h.9M187.9 773.3h.9M190.1 768.7h.9M183.8 762.2h.9M185.1 761.8h.9M182.1 766.5h.9M190.3 767.5h.9M195.8 769.2h.9M177.8 774.2h.9M189.4 770.4h.9M184.9 776.7h.9M190.2 768.9h.9M188.5 783.5h.9M187.6 763.2h.9M187.9 773.7h.9M190.8 766.6h.9M185.2 778.2h.9M185.5 780.0h.9M185.3 782.0h.9M190.4 761.6h.9M191.1 765.8h.9M184.4 770.4h.9M177.5 771.4h.9M182.7 775.7h.9M182.0 777.1h.9M179.7 765.7h.9M190.4 771.1h.9M185.1 777.5h.9M182.1 774.0h.9M186.7 766.8h.9M192.0 765.2h.9M188.3 774.4h.9M189.9 771.1h.9M185.6 771.0h.9M191.1 778.8h.9M182.3 769.9h.9M187.9 765.9h.9M188.5 767.7h.9M181.3 765.9h.9M186.4 775.9h.9M191.9 764.3h.9M195.0 769.2h.9M182.7 767.9h.9M186.3 778.6h.9M174.2 777.0h.9M179.9 770.3h.9M185.1 772.6h.9M185.5 777.0h.9M190.8 776.7h.9M189.1 765.3h.9M185.9 772.3h.9M189.5 779.2h.9M188.5 782.4h.9M192.9 761.1h.9M192.1 768.5h.9M180.9 772.3h.9M189.9 772.8h.9M187.3 773.9h.9M185.7 778.1h.9M185.7 772.7h.9M179.0 772.7h.9M185.1 763.8h.9M182.4 771.4h.9M196.2 774.4h.9M187.1 760.4h.9M185.6 778.5h.9M183.6 772.8h.9M129.0 721.2h.9" stroke="#58bc4c" stroke-width="0.9" fill="none"/>
<path d="M130.6 722.4h.9M127.4 726.8h.9M129.6 724.0h.9M126.0 722.3h.9M126.7 726.6h.9M132.9 726.5h.9M129.0 722.8h.9M129.7 724.0h.9M130.9 721.8h.9M128.9 722.6h.9M130.2 724.1h.9M187.2 764.6h.9M184.4 780.3h.9M188.0 774.3h.9M186.8 778.3h.9M186.5 766.5h.9M183.5 779.4h.9M184.7 771.8h.9M192.2 765.2h.9M186.0 772.9h.9M187.6 778.0h.9M190.4 770.6h.9M188.1 770.0h.9M187.9 775.8h.9M190.6 768.8h.9M190.0 766.4h.9M187.1 766.4h.9M190.7 774.0h.9M183.7 764.9h.9M188.8 774.4h.9M188.9 770.8h.9M188.0 777.6h.9M188.2 773.3h.9M191.4 774.8h.9M185.6 773.5h.9M195.2 766.0h.9M181.6 778.1h.9M185.6 777.4h.9M186.7 776.9h.9M186.4 775.4h.9M184.2 762.5h.9M185.7 771.9h.9M190.3 778.4h.9M188.5 769.3h.9M184.9 769.1h.9M189.6 772.7h.9M186.6 766.3h.9M184.8 778.3h.9M192.7 773.5h.9M184.8 764.7h.9M188.7 764.4h.9M190.4 771.2h.9M187.7 773.8h.9M184.0 773.7h.9M185.2 768.5h.9M182.5 770.0h.9M192.0 768.2h.9M180.4 763.4h.9M186.9 771.0h.9M186.4 768.7h.9M189.0 776.1h.9M183.4 778.1h.9M186.7 766.2h.9M194.5 770.7h.9M189.2 770.0h.9M187.1 768.8h.9M186.4 766.6h.9M182.5 772.4h.9M179.0 765.9h.9M180.4 765.1h.9M188.7 768.3h.9M186.8 774.2h.9M184.4 769.0h.9M187.2 766.1h.9M184.5 767.5h.9M183.9 775.6h.9M184.8 769.3h.9M190.2 769.5h.9M184.3 763.0h.9M189.8 764.4h.9M186.2 770.4h.9M189.9 769.2h.9M183.7 772.4h.9M189.7 761.0h.9M187.9 768.2h.9M190.6 774.7h.9M188.5 768.0h.9M181.8 776.4h.9" stroke="#c8d030" stroke-width="0.9" fill="none"/>
<path d="M131.4 725.9h.9M188.4 773.1h.9M185.3 779.3h.9M185.6 765.4h.9M188.1 766.0h.9M183.8 763.0h.9M189.3 775.8h.9M185.2 768.8h.9M183.5 769.8h.9M180.4 772.2h.9M183.9 770.6h.9M194.8 770.1h.9M187.7 771.0h.9M185.6 767.3h.9M185.7 771.3h.9M188.1 777.7h.9M185.7 769.4h.9" stroke="#f0a028" stroke-width="0.9" fill="none"/>
<path d="M187.8 770.8h.9" stroke="#e84020" stroke-width="0.9" fill="none"/>
<line x1="161" y1="677.3" x2="161" y2="805.7" stroke="#333" stroke-width="0.8"/>
<line x1="92.3" y1="751.8" x2="221.3" y2="751.8" stroke="#333" stroke-width="0.8"/>
<text x="103.3" y="693.8" font-size="6.1" fill="#222" stroke="#222" stroke-width="0.14">CD8+T</text>
<text x="103.3" y="701.3" font-size="6.1" fill="#222" stroke="#222" stroke-width="0.14">27.29%</text>
<text x="216.8" y="693.8" font-size="6.1" fill="#222" text-anchor="end" stroke="#222" stroke-width="0.14">Q13-2</text>
<text x="216.8" y="701.3" font-size="6.1" fill="#222" text-anchor="end" stroke="#222" stroke-width="0.14">3.15%</text>
<text x="95.3" y="794.8" font-size="6.1" fill="#222" stroke="#222" stroke-width="0.14">Q13-3</text>
<text x="95.3" y="802.3" font-size="6.1" fill="#222" stroke="#222" stroke-width="0.14">10.75%</text>
<text x="216.8" y="794.8" font-size="6.1" fill="#222" text-anchor="end" stroke="#222" stroke-width="0.14">CD4+T</text>
<text x="216.8" y="802.3" font-size="6.1" fill="#222" text-anchor="end" stroke="#222" stroke-width="0.14">58.81%</text>
<text x="252.5" y="674" font-size="11.6" fill="#111" stroke="#111" stroke-width="0.45">sh-GPR4</text>
<text x="308.9" y="674" font-size="8.9" fill="#111" stroke="#111" stroke-width="0.3">CD3<tspan font-size="5.8" dy="-3.6">+</tspan><tspan dy="3.6"> T</tspan></text>
<rect x="252.8" y="677.8" width="134.8" height="127.4" fill="white" stroke="#666" stroke-width="0.8"/>
<path d="M276.9 738.7h.9M275.0 721.0h.9M295.2 710.4h.9M270.0 707.5h.9M298.2 717.9h.9M278.8 707.0h.9M272.1 721.2h.9M271.0 725.3h.9M297.7 719.6h.9M295.8 717.3h.9M296.6 718.6h.9M293.1 711.1h.9M287.0 709.0h.9M298.4 735.5h.9M274.8 719.1h.9M268.5 730.9h.9M275.1 721.2h.9M270.4 713.0h.9M302.2 730.1h.9M276.0 727.2h.9M301.1 709.0h.9M302.2 729.3h.9M286.4 708.3h.9M298.6 725.9h.9M280.9 711.3h.9M281.3 705.7h.9M299.4 712.9h.9M296.7 719.2h.9M299.6 723.1h.9M273.2 714.1h.9M302.4 730.9h.9M280.8 708.4h.9M305.0 739.8h.9M263.4 740.0h.9M270.0 741.5h.9M281.4 711.7h.9M275.2 715.1h.9M302.9 729.6h.9M301.1 733.1h.9M267.8 744.0h.9M298.2 707.4h.9M304.5 736.0h.9M281.3 713.4h.9M304.0 726.9h.9M303.2 735.4h.9M274.5 753.3h.9M278.9 743.4h.9M286.2 708.1h.9M304.5 711.6h.9M304.4 701.4h.9M267.1 731.1h.9M274.2 720.5h.9M291.6 710.6h.9M302.7 732.6h.9M312.6 734.1h.9M289.1 693.2h.9M283.4 710.5h.9M279.0 704.8h.9M273.8 731.6h.9M275.9 710.6h.9M282.6 748.6h.9M293.0 744.2h.9M296.0 711.9h.9M278.3 742.7h.9M287.3 709.8h.9M281.3 749.6h.9M273.9 739.3h.9M303.4 737.4h.9M273.8 736.6h.9M281.6 740.8h.9M286.1 711.3h.9M289.1 701.8h.9M273.6 716.2h.9M293.1 710.3h.9M270.8 730.6h.9M302.5 718.0h.9M301.1 722.3h.9M275.1 741.5h.9M303.1 765.6h.9M292.9 702.8h.9M299.0 726.0h.9M273.7 718.4h.9M291.8 713.3h.9M276.3 709.2h.9M289.0 746.2h.9M256.3 731.1h.9M268.9 736.9h.9M265.8 736.3h.9M300.1 737.5h.9M273.9 708.7h.9M301.5 704.1h.9M271.3 721.4h.9M304.1 732.3h.9M293.8 746.4h.9M290.7 707.5h.9M277.5 711.1h.9M277.3 742.9h.9M273.5 709.5h.9M302.3 737.2h.9M267.6 737.2h.9M290.9 710.9h.9M294.3 704.2h.9M302.4 724.9h.9M280.9 703.1h.9M299.7 724.8h.9M295.9 737.9h.9M269.5 726.9h.9M305.4 732.6h.9M269.1 735.7h.9M268.5 743.8h.9M288.6 743.5h.9M295.7 706.9h.9M303.6 749.1h.9M275.7 709.2h.9M302.0 735.2h.9M272.1 738.7h.9M281.0 707.9h.9M301.7 726.9h.9M303.3 722.2h.9M275.8 749.5h.9M278.5 714.6h.9M299.1 738.0h.9M305.6 729.7h.9M268.9 739.4h.9M304.1 707.8h.9M283.7 708.6h.9M302.8 747.0h.9M296.0 741.8h.9M274.5 711.1h.9M300.7 720.1h.9M268.3 727.7h.9M277.5 740.9h.9M260.6 718.4h.9M273.1 726.3h.9M264.8 732.2h.9M311.3 722.8h.9M271.9 738.2h.9M298.9 745.1h.9M308.2 729.1h.9M297.0 723.6h.9M273.6 738.8h.9M290.6 747.8h.9M283.5 747.0h.9M281.5 714.5h.9M268.6 722.4h.9M301.0 713.7h.9M283.0 742.8h.9M304.1 745.9h.9M264.8 733.2h.9M294.1 742.4h.9M269.4 732.0h.9M297.2 718.2h.9M283.6 704.2h.9M271.5 710.7h.9M292.5 710.1h.9M279.0 746.9h.9M284.8 747.5h.9M272.1 722.7h.9M301.4 727.1h.9M304.8 735.9h.9M297.5 742.5h.9M266.8 730.9h.9M275.5 717.1h.9M302.1 744.1h.9M279.7 746.2h.9M292.0 701.7h.9M264.2 733.8h.9M294.0 736.7h.9M301.8 761.5h.9M272.8 750.7h.9M307.8 726.6h.9M302.6 740.6h.9M272.4 723.3h.9M277.1 710.2h.9M282.6 753.5h.9M306.9 737.1h.9M278.8 751.9h.9M291.9 750.1h.9M270.2 742.9h.9M268.8 742.6h.9M289.2 747.2h.9M292.7 752.9h.9M286.8 745.3h.9M288.8 750.2h.9M294.6 735.8h.9M275.4 753.3h.9M284.5 743.1h.9M278.1 749.9h.9M279.4 743.6h.9M285.4 738.2h.9M283.5 749.4h.9M285.1 741.4h.9M284.5 748.0h.9M289.8 750.1h.9M291.5 741.6h.9M287.0 745.0h.9M283.6 750.1h.9M283.7 746.0h.9M289.5 745.4h.9M280.6 750.4h.9M295.3 743.9h.9M284.3 739.8h.9M282.4 737.8h.9M282.6 744.0h.9M296.4 751.9h.9M278.8 737.5h.9M290.6 747.2h.9M288.5 743.2h.9M278.3 744.5h.9M284.0 745.8h.9M333.6 784.5h.9M362.5 778.0h.9M360.0 755.7h.9M356.9 755.6h.9M366.6 766.3h.9M352.1 790.7h.9M346.8 753.2h.9M350.1 755.2h.9M366.3 774.0h.9M352.9 801.5h.9M355.7 787.9h.9M342.4 756.9h.9M341.4 750.6h.9M364.6 762.2h.9M363.3 762.6h.9M365.9 772.1h.9M342.7 785.6h.9M361.4 791.8h.9M363.6 785.2h.9M359.9 792.6h.9M337.9 785.5h.9M340.6 787.4h.9M367.3 770.4h.9M330.7 769.4h.9M356.3 786.1h.9M337.0 775.2h.9M373.6 772.9h.9M354.4 792.5h.9M331.7 772.1h.9M338.4 750.4h.9M350.4 793.7h.9M362.6 768.8h.9M344.9 753.0h.9M368.0 787.6h.9M332.6 781.1h.9M340.3 783.2h.9M369.0 781.7h.9M342.2 758.8h.9M332.0 778.0h.9M360.4 788.6h.9M336.2 764.7h.9M334.8 745.9h.9M338.6 758.7h.9M331.7 770.0h.9M358.0 751.1h.9M344.6 791.4h.9M337.5 761.2h.9M352.8 749.1h.9M347.2 787.3h.9M348.4 787.1h.9M353.3 759.4h.9M366.4 771.6h.9M359.9 753.8h.9M353.6 750.4h.9M348.7 759.5h.9M368.6 781.7h.9M354.8 790.5h.9M361.0 784.7h.9M365.1 778.1h.9M344.4 792.7h.9M336.8 754.9h.9M365.1 755.3h.9M336.2 758.3h.9M340.1 757.3h.9M365.0 757.8h.9M347.2 754.3h.9M363.9 751.9h.9M339.3 789.6h.9M360.0 789.7h.9M353.5 790.8h.9M360.1 747.5h.9M348.1 751.4h.9M342.7 757.8h.9M341.9 784.1h.9M364.0 782.7h.9M352.4 741.4h.9M361.2 789.1h.9M360.1 793.0h.9M362.7 796.9h.9M364.3 758.5h.9M336.9 780.2h.9M359.3 794.4h.9M358.1 787.9h.9M343.1 795.8h.9M363.5 780.8h.9M340.5 788.9h.9M335.4 789.5h.9M363.5 786.5h.9M348.5 792.3h.9M366.5 783.6h.9M342.8 785.0h.9M363.8 773.6h.9M362.6 773.8h.9M337.3 763.6h.9M343.8 793.5h.9M353.6 793.7h.9M331.8 789.0h.9M357.9 802.3h.9M369.8 784.2h.9M363.3 789.9h.9M361.1 797.3h.9M328.0 773.9h.9M366.0 771.2h.9M366.5 754.2h.9M339.8 785.1h.9M349.3 757.9h.9M361.1 778.7h.9M336.9 770.8h.9M348.5 794.6h.9M347.3 754.4h.9M365.4 778.6h.9M347.0 796.5h.9M339.0 760.8h.9M350.9 754.8h.9M343.4 789.8h.9M349.5 788.9h.9M361.9 767.3h.9M344.1 790.1h.9M355.9 747.8h.9M361.3 756.8h.9M340.4 788.1h.9M363.4 775.8h.9M334.5 777.6h.9M357.1 753.2h.9M332.5 767.0h.9M337.0 762.9h.9M363.1 767.1h.9M346.8 792.1h.9M328.6 766.9h.9M349.4 802.4h.9M369.7 788.0h.9M367.2 765.7h.9M334.2 783.0h.9M357.7 765.3h.9M330.8 783.4h.9M340.9 778.8h.9M338.5 791.6h.9M355.9 798.3h.9M362.3 788.7h.9M347.6 792.9h.9M361.1 777.0h.9M336.6 784.5h.9M368.2 759.6h.9M342.7 794.1h.9M368.0 752.2h.9M335.2 742.8h.9M352.1 745.5h.9M330.2 772.6h.9M355.8 750.5h.9M359.8 750.1h.9M360.2 795.4h.9M363.8 754.0h.9M326.4 767.3h.9M366.4 769.9h.9M356.8 736.8h.9M328.1 777.1h.9M343.9 791.9h.9M342.3 750.5h.9M320.8 757.3h.9M373.8 768.0h.9M362.9 774.9h.9M349.0 800.2h.9M331.2 774.6h.9M329.8 766.2h.9M368.4 773.8h.9M360.1 778.3h.9M329.5 776.3h.9M338.4 763.4h.9M369.8 759.9h.9M372.6 783.9h.9M321.1 738.3h.9M367.5 789.5h.9M335.3 741.6h.9M332.3 783.1h.9M347.8 748.0h.9M335.3 736.6h.9M337.2 780.5h.9M328.1 769.9h.9M367.6 758.0h.9M365.8 748.5h.9M349.7 798.5h.9M381.9 767.2h.9M376.8 769.4h.9M342.5 753.2h.9M366.7 788.6h.9M341.7 739.3h.9M335.8 794.9h.9M339.5 751.2h.9M364.1 779.1h.9M363.1 789.9h.9M357.8 755.1h.9M355.5 751.0h.9M373.0 777.6h.9M366.3 766.1h.9M368.5 764.5h.9M346.9 746.7h.9M341.7 746.6h.9M335.5 796.4h.9M375.9 790.6h.9M334.7 784.4h.9M345.9 749.8h.9M362.0 749.8h.9M329.7 759.0h.9M334.3 762.6h.9M349.2 746.5h.9M362.0 758.1h.9M326.7 775.0h.9M353.3 751.7h.9M362.3 743.1h.9M373.1 770.5h.9M368.7 783.6h.9M322.7 778.8h.9M337.1 755.9h.9M356.5 757.5h.9M347.9 745.1h.9M328.6 751.6h.9M354.0 751.9h.9M333.3 780.9h.9M362.5 757.6h.9M357.1 757.6h.9M336.3 773.4h.9M354.9 748.0h.9M362.4 754.3h.9M345.9 750.7h.9M371.4 785.8h.9M343.0 749.8h.9M325.1 753.7h.9M350.2 750.9h.9M331.9 776.2h.9M335.0 788.5h.9M339.8 760.1h.9M369.1 779.5h.9M373.2 784.2h.9M362.5 758.8h.9M361.5 800.1h.9M328.3 773.9h.9M362.4 786.2h.9M375.3 750.2h.9M360.3 756.7h.9M349.5 749.8h.9M379.5 758.4h.9M355.1 795.3h.9M369.1 782.7h.9M361.2 754.5h.9M355.9 726.0h.9M337.6 788.1h.9M338.7 748.0h.9M369.9 768.1h.9M353.8 757.5h.9M374.0 767.1h.9M349.7 790.5h.9M365.6 751.3h.9M339.5 787.3h.9M345.8 754.7h.9M354.9 747.4h.9M341.3 797.4h.9M365.8 768.3h.9M355.6 755.0h.9M330.7 782.6h.9M379.6 773.4h.9M333.2 764.5h.9M340.7 801.1h.9M372.3 764.0h.9M355.5 758.5h.9M352.4 796.6h.9M370.7 731.2h.9M367.2 764.0h.9M358.4 751.5h.9M334.1 766.9h.9M326.1 755.1h.9M372.5 763.3h.9M328.2 756.4h.9M365.5 755.4h.9M320.0 768.1h.9M359.9 760.9h.9M336.1 782.0h.9M375.5 762.2h.9M307.0 760.7h.9M281.3 764.7h.9M299.7 756.9h.9M282.4 768.8h.9M294.2 768.9h.9M271.9 777.0h.9M268.2 753.3h.9M294.2 768.5h.9M284.2 770.5h.9M290.4 773.6h.9M262.8 774.2h.9M265.3 774.6h.9M277.6 773.6h.9M293.7 766.0h.9M262.1 780.4h.9M287.4 772.7h.9M258.7 773.4h.9M304.7 763.9h.9M282.1 791.0h.9M269.5 768.4h.9M265.2 754.1h.9M298.4 775.7h.9M272.7 757.0h.9M280.6 760.9h.9M304.7 765.6h.9M259.3 778.1h.9M257.9 752.8h.9M291.7 779.8h.9M260.6 762.9h.9M283.4 782.1h.9M286.0 747.3h.9M290.3 755.2h.9M274.9 783.5h.9M276.7 775.6h.9M275.9 761.2h.9M304.9 771.7h.9M286.3 786.4h.9M270.8 748.2h.9M274.1 780.1h.9M286.6 758.4h.9M298.6 784.5h.9M282.1 774.7h.9M297.7 757.5h.9M297.2 763.9h.9M277.7 757.7h.9M298.2 762.4h.9M289.3 756.6h.9M288.2 767.8h.9M287.8 777.3h.9M286.6 777.5h.9M286.3 760.2h.9M277.9 772.6h.9M295.8 767.0h.9M277.0 779.3h.9M283.2 754.0h.9M307.3 774.5h.9M259.7 763.5h.9M289.9 759.3h.9M279.4 766.4h.9M269.4 762.8h.9M268.0 762.7h.9M288.7 768.0h.9M291.2 777.2h.9M282.4 758.6h.9M284.0 762.1h.9M321.2 745.8h.9M280.6 754.8h.9M300.2 771.6h.9M285.2 764.8h.9M271.7 759.0h.9M274.4 775.8h.9M264.8 767.5h.9M260.3 764.1h.9M273.4 789.7h.9M269.0 771.4h.9M274.6 751.8h.9M279.7 771.5h.9M258.4 772.1h.9M286.6 773.8h.9M268.1 782.9h.9M293.9 780.0h.9M294.0 775.1h.9M272.8 773.8h.9M264.3 769.8h.9M277.2 769.3h.9M293.9 770.2h.9M285.9 769.6h.9M282.4 775.8h.9M270.3 770.1h.9M285.0 765.1h.9M299.0 775.4h.9M272.5 760.9h.9M282.3 762.7h.9M286.6 774.6h.9M283.0 772.2h.9M313.4 770.1h.9M292.0 769.2h.9M282.6 773.8h.9M287.9 772.1h.9M294.3 762.2h.9M280.1 758.7h.9M274.0 782.2h.9M285.0 759.4h.9M292.1 763.6h.9M268.3 764.1h.9M292.9 769.6h.9M284.2 766.3h.9M271.4 771.9h.9M268.7 768.8h.9M312.7 750.9h.9M299.7 775.2h.9M275.9 766.3h.9M293.6 761.1h.9M287.8 777.2h.9M261.7 761.9h.9M278.1 780.8h.9M287.0 774.5h.9M270.0 762.5h.9M280.9 760.4h.9M297.7 771.2h.9M312.4 766.0h.9M292.8 773.1h.9M283.0 754.4h.9M275.8 767.1h.9M286.9 753.6h.9M293.7 765.9h.9M278.4 774.7h.9M290.3 750.2h.9M310.4 766.8h.9M286.4 763.1h.9M272.4 763.4h.9M275.5 773.6h.9M298.3 761.4h.9M277.3 773.0h.9M277.5 770.4h.9M267.1 774.0h.9M277.6 766.0h.9M292.2 778.7h.9M310.0 757.3h.9M276.0 758.5h.9M290.2 762.6h.9M300.9 774.2h.9M290.3 778.7h.9M307.0 767.2h.9M279.4 762.2h.9M279.3 757.2h.9M267.0 761.1h.9M291.6 770.5h.9M270.0 784.3h.9M295.9 773.9h.9M300.2 776.1h.9M276.9 758.7h.9M280.5 776.6h.9M299.4 760.7h.9M293.2 761.0h.9M275.6 765.5h.9M268.7 766.2h.9M257.4 763.1h.9M290.1 759.5h.9M262.7 763.7h.9M286.5 758.8h.9M272.0 766.1h.9M272.8 750.4h.9M287.9 765.1h.9M301.3 766.5h.9M268.3 785.3h.9M259.5 771.2h.9M293.9 757.2h.9M267.8 752.6h.9M270.0 769.5h.9M262.5 782.1h.9M280.9 761.2h.9M291.6 785.4h.9M287.7 761.1h.9M290.9 769.8h.9M266.3 760.8h.9M300.2 782.4h.9M276.2 773.3h.9M259.3 765.6h.9M293.0 749.3h.9M296.5 785.0h.9M280.8 758.3h.9M275.4 763.7h.9M281.5 774.7h.9M273.0 751.7h.9M258.2 773.2h.9M295.9 766.5h.9M288.4 770.7h.9M291.7 770.6h.9M279.1 752.5h.9M266.3 778.8h.9M282.0 778.8h.9M287.5 785.4h.9M271.0 772.3h.9M283.6 779.0h.9M270.0 755.3h.9M280.9 757.9h.9M284.8 751.4h.9M291.1 760.7h.9M309.5 769.0h.9M276.2 778.4h.9M275.3 761.9h.9M276.3 773.2h.9M298.0 772.5h.9M289.3 762.3h.9M274.6 768.3h.9M286.6 764.8h.9M278.8 778.0h.9M286.0 783.8h.9M307.9 756.2h.9M265.0 759.0h.9M275.5 761.3h.9M321.5 770.2h.9M269.6 770.9h.9M286.1 764.2h.9M255.5 782.0h.9M278.8 766.1h.9M279.9 751.6h.9M298.4 755.6h.9M314.4 752.4h.9M290.1 763.7h.9M297.6 760.9h.9M276.5 779.3h.9M288.8 769.8h.9M292.9 761.0h.9M303.0 757.3h.9M282.0 765.8h.9M269.0 777.2h.9M316.5 772.0h.9M321.5 782.5h.9M316.4 761.3h.9M325.6 760.9h.9M321.2 778.8h.9M312.4 788.3h.9M304.9 752.8h.9M316.3 761.5h.9M290.5 751.4h.9M324.2 773.3h.9M316.4 754.8h.9M325.0 742.8h.9M303.5 770.6h.9M305.9 749.1h.9M306.4 776.5h.9M329.3 759.0h.9M308.9 761.4h.9M323.2 775.4h.9M316.2 768.6h.9M296.0 772.7h.9M296.3 775.5h.9M312.3 764.8h.9M309.0 774.8h.9M299.2 769.1h.9M329.8 777.2h.9M298.3 792.0h.9M305.4 761.1h.9M316.7 765.4h.9M324.8 768.6h.9M328.8 770.2h.9M313.4 754.1h.9M307.1 770.3h.9M308.8 756.7h.9M323.3 757.2h.9M309.4 759.3h.9M324.6 763.6h.9M312.3 762.2h.9M314.6 748.5h.9M334.0 763.9h.9M297.8 762.2h.9M308.8 786.2h.9M335.8 780.6h.9M310.0 754.7h.9M306.3 753.8h.9M304.2 772.8h.9M314.5 755.3h.9M316.0 785.9h.9M310.3 756.5h.9M330.5 771.1h.9M321.5 762.9h.9M329.3 763.8h.9M308.9 769.2h.9M326.5 746.9h.9M317.9 759.4h.9M308.9 782.7h.9M299.3 754.1h.9M327.9 773.5h.9M302.3 754.7h.9M321.9 774.6h.9M306.9 757.6h.9M307.8 769.9h.9M324.4 779.0h.9M295.4 749.6h.9M318.5 769.1h.9M309.1 777.5h.9M319.5 766.7h.9M293.1 768.5h.9M324.9 748.7h.9M317.5 748.0h.9M326.0 754.2h.9M311.4 756.1h.9M315.0 780.9h.9M321.1 769.3h.9M327.3 759.6h.9M317.6 749.5h.9M319.6 750.4h.9M286.4 773.9h.9M305.7 765.0h.9M318.3 774.8h.9M297.9 758.3h.9M305.3 772.3h.9M302.8 789.6h.9M313.5 750.8h.9M324.8 753.7h.9M330.3 757.2h.9M311.7 770.5h.9M312.3 759.9h.9M323.8 761.9h.9M312.6 776.3h.9M299.7 780.0h.9M315.6 772.5h.9M322.4 752.7h.9M297.8 766.4h.9M336.8 755.9h.9M311.5 751.8h.9M352.0 720.8h.9M345.3 737.6h.9M350.3 739.1h.9M333.5 739.7h.9M333.6 734.2h.9M343.6 718.3h.9M360.4 733.1h.9M345.5 739.0h.9M329.8 731.0h.9M331.1 723.1h.9M338.5 729.1h.9M358.3 726.1h.9M370.9 712.7h.9M371.8 703.0h.9M358.1 714.4h.9M350.5 728.6h.9M358.1 728.6h.9M362.3 731.7h.9M335.0 716.8h.9M349.8 716.1h.9M328.9 722.9h.9M368.3 716.4h.9M367.4 711.1h.9M365.5 720.7h.9M339.5 736.2h.9M342.5 730.3h.9M354.1 729.2h.9M327.8 695.7h.9M340.2 728.3h.9M361.8 716.6h.9M362.2 723.8h.9M370.1 720.6h.9M344.4 742.9h.9M351.2 719.3h.9M337.8 733.5h.9M358.6 717.5h.9M365.2 738.8h.9M346.9 711.8h.9M326.7 719.2h.9M341.6 713.3h.9M336.1 712.1h.9M325.9 710.5h.9M337.0 729.9h.9M344.8 735.3h.9M342.5 720.7h.9M362.8 730.5h.9M350.3 737.8h.9M331.0 722.8h.9M381.7 722.2h.9M346.1 721.5h.9M357.3 708.2h.9M361.7 740.0h.9M342.3 730.0h.9M347.9 726.3h.9M335.4 734.4h.9M328.7 725.2h.9M353.6 732.7h.9M328.9 730.3h.9M335.4 722.8h.9M325.9 716.1h.9M338.0 728.1h.9M355.0 731.7h.9M347.8 717.9h.9M333.8 722.9h.9M333.4 723.9h.9M335.6 720.0h.9M329.9 714.9h.9M348.1 732.3h.9M342.2 725.9h.9M361.7 729.5h.9M363.5 743.1h.9M351.6 718.1h.9M355.3 741.6h.9M345.9 725.9h.9M336.2 725.0h.9M337.6 727.3h.9M341.3 718.5h.9M364.4 709.6h.9M364.9 719.9h.9M360.9 749.8h.9M353.5 710.6h.9M346.5 750.5h.9M321.3 715.8h.9M338.3 738.7h.9M349.4 728.2h.9M335.4 719.3h.9M352.3 713.8h.9M323.7 721.5h.9M353.2 732.0h.9M347.7 728.5h.9M340.7 703.4h.9M360.7 732.6h.9M371.4 715.0h.9M358.8 729.7h.9M354.6 739.9h.9M330.3 722.6h.9M325.2 729.1h.9M330.1 746.8h.9M368.6 723.0h.9M345.9 730.7h.9M367.1 725.3h.9M341.9 728.2h.9M370.2 696.0h.9M337.8 729.3h.9M351.3 728.1h.9M364.7 732.9h.9M326.2 722.5h.9M350.5 732.2h.9M345.9 717.6h.9M349.6 732.6h.9M373.5 728.7h.9M333.9 716.7h.9M341.0 724.7h.9M336.8 736.8h.9M337.0 711.6h.9M340.2 706.2h.9M346.5 722.6h.9M342.0 707.5h.9M332.7 726.5h.9M334.3 739.6h.9M330.6 746.5h.9M349.4 726.8h.9M333.9 727.6h.9M342.3 717.0h.9M354.0 730.8h.9M377.7 739.8h.9M363.7 708.1h.9M353.9 724.4h.9M336.9 730.2h.9M345.3 738.8h.9M351.1 734.0h.9M346.4 723.8h.9M341.7 733.9h.9M331.7 727.2h.9M348.2 729.7h.9M353.4 733.0h.9M329.9 723.7h.9M361.7 719.3h.9M337.0 727.6h.9M352.2 725.4h.9M338.1 733.9h.9M336.7 747.7h.9M363.3 731.3h.9M355.2 744.4h.9M323.2 706.8h.9M328.2 732.9h.9M339.1 729.3h.9M325.2 726.8h.9M354.5 692.6h.9M346.3 725.9h.9M359.5 734.5h.9M348.1 732.9h.9M339.2 733.8h.9M330.8 714.0h.9M324.0 714.8h.9M347.2 734.5h.9M371.3 716.7h.9M365.0 722.8h.9M352.5 730.7h.9M346.1 732.3h.9M354.7 734.6h.9M350.5 715.4h.9M336.6 711.7h.9M365.6 727.7h.9M333.0 725.3h.9M351.7 716.6h.9M319.2 712.1h.9M354.2 718.8h.9M340.7 747.0h.9M376.0 717.0h.9M357.9 736.2h.9M356.9 723.6h.9M357.6 733.8h.9M333.5 719.1h.9M370.4 727.5h.9M326.2 718.9h.9M342.6 747.5h.9M367.9 722.7h.9M336.8 744.1h.9M359.5 722.8h.9M351.5 727.5h.9M330.8 737.7h.9M341.9 712.1h.9M358.4 730.4h.9M366.9 700.4h.9M378.6 715.2h.9M353.0 728.7h.9M339.2 721.8h.9M344.6 746.5h.9M358.1 736.7h.9M329.4 739.0h.9M339.9 716.9h.9M305.9 712.3h.9M328.2 747.0h.9M257.6 705.4h.9M366.0 723.2h.9M326.7 704.8h.9M281.5 760.0h.9M324.5 767.1h.9M263.9 734.6h.9M318.6 777.1h.9M290.2 683.2h.9M316.6 712.1h.9M357.9 738.5h.9M295.6 754.4h.9M352.8 755.0h.9M319.6 710.3h.9M284.2 687.4h.9M334.8 776.7h.9M372.5 760.6h.9M363.2 720.4h.9M329.2 757.2h.9M336.1 749.7h.9M373.9 682.1h.9M309.8 736.3h.9M276.0 795.7h.9M325.5 753.6h.9M304.2 742.7h.9M264.6 723.7h.9M384.8 726.9h.9M330.6 688.7h.9M356.1 706.8h.9M354.0 757.4h.9M256.8 716.8h.9M318.0 765.6h.9M381.8 766.1h.9M341.0 800.6h.9M318.7 770.4h.9M361.9 715.8h.9M312.0 748.5h.9M253.8 691.7h.9M332.7 730.8h.9M302.2 696.7h.9M316.8 746.5h.9M366.4 743.0h.9M333.6 738.4h.9M285.1 777.1h.9M288.4 688.3h.9M362.7 780.1h.9M381.6 701.7h.9M262.4 702.8h.9M325.7 712.0h.9M333.9 789.5h.9M327.2 728.4h.9M326.5 758.1h.9M369.3 766.8h.9M347.6 802.2h.9M342.0 699.8h.9M363.8 725.1h.9M261.8 768.6h.9M347.8 689.1h.9M270.9 696.2h.9M282.2 773.2h.9M373.1 743.6h.9M339.5 711.6h.9M305.4 782.8h.9M296.4 751.7h.9M292.1 707.5h.9" stroke="#2a3c9c" stroke-width="0.9" fill="none"/>
<path d="M273.9 733.1h.9M281.6 735.9h.9M279.0 718.1h.9M277.3 738.9h.9M276.4 720.1h.9M279.1 737.7h.9M280.3 738.0h.9M293.4 713.9h.9M277.3 732.9h.9M286.6 712.7h.9M297.4 722.2h.9M272.6 719.3h.9M296.0 740.0h.9M294.1 723.1h.9M291.2 715.5h.9M293.3 735.7h.9M275.8 721.8h.9M293.1 734.2h.9M275.1 736.4h.9M296.2 716.1h.9M284.4 715.1h.9M294.9 717.0h.9M279.9 737.2h.9M293.7 713.5h.9M285.6 712.6h.9M294.9 720.5h.9M299.7 726.3h.9M296.5 716.4h.9M273.1 722.4h.9M281.1 736.7h.9M295.6 721.8h.9M298.7 720.6h.9M290.0 740.2h.9M293.4 712.5h.9M279.9 708.6h.9M298.4 718.0h.9M283.2 713.0h.9M283.3 717.1h.9M267.6 725.9h.9M284.5 711.9h.9M277.8 725.3h.9M287.2 713.4h.9M273.6 721.4h.9M279.9 717.2h.9M271.1 732.2h.9M293.9 710.6h.9M270.4 722.8h.9M297.1 733.0h.9M298.4 722.6h.9M286.6 715.6h.9M291.1 738.3h.9M286.5 713.2h.9M299.2 742.3h.9M286.2 741.1h.9M301.1 729.8h.9M304.7 737.5h.9M294.9 741.2h.9M274.4 725.1h.9M297.2 715.9h.9M280.0 749.7h.9M265.4 744.4h.9M293.4 745.0h.9M279.6 737.9h.9M273.6 723.6h.9M296.9 735.0h.9M275.1 737.4h.9M292.4 742.0h.9M285.9 714.9h.9M273.8 724.6h.9M289.3 744.5h.9M297.2 731.7h.9M298.1 731.5h.9M288.7 743.7h.9M282.0 744.2h.9M275.7 715.1h.9M301.6 724.8h.9M274.0 728.7h.9M270.1 741.5h.9M296.6 726.9h.9M299.5 733.7h.9M275.9 735.4h.9M276.2 737.3h.9M274.1 721.7h.9M297.2 746.3h.9M298.7 735.9h.9M291.6 738.3h.9M281.8 713.9h.9M288.3 745.9h.9M295.1 742.7h.9M296.2 735.2h.9M302.0 732.4h.9M281.5 740.2h.9M310.1 739.5h.9M277.4 734.1h.9M276.7 740.2h.9M280.6 741.1h.9M297.9 717.1h.9M279.7 734.9h.9M289.0 736.7h.9M302.8 721.3h.9M297.4 719.7h.9M292.6 741.8h.9M298.7 732.4h.9M302.6 728.4h.9M277.2 740.5h.9M274.7 716.7h.9M297.4 732.7h.9M317.3 728.3h.9M298.6 716.8h.9M277.1 710.8h.9M293.6 722.3h.9M276.8 720.8h.9M298.5 720.5h.9M274.1 725.1h.9M288.1 738.3h.9M294.6 738.8h.9M300.3 718.6h.9M274.6 729.0h.9M274.9 737.0h.9M274.2 735.2h.9M277.7 739.8h.9M272.1 732.5h.9M293.7 708.0h.9M285.9 740.5h.9M289.9 741.5h.9M293.6 713.9h.9M299.2 719.9h.9M273.6 721.9h.9M276.6 716.6h.9M278.8 716.2h.9M283.6 740.8h.9M285.9 739.6h.9M277.7 723.6h.9M291.4 736.9h.9M296.6 742.9h.9M295.4 738.5h.9M298.0 723.1h.9M291.3 712.0h.9M281.2 716.7h.9M276.2 719.4h.9M274.3 733.0h.9M298.3 724.8h.9M292.0 738.1h.9M296.2 712.8h.9M277.6 746.3h.9M284.3 741.2h.9M279.7 742.8h.9M294.8 743.6h.9M280.3 740.7h.9M283.9 739.0h.9M287.4 737.4h.9M296.1 730.8h.9M294.1 740.7h.9M291.0 740.1h.9M279.1 743.0h.9M286.5 752.6h.9M292.9 747.9h.9M280.9 746.9h.9M280.5 739.2h.9M282.0 741.3h.9M287.4 745.5h.9M287.3 740.6h.9M303.2 742.0h.9M280.2 740.6h.9M294.6 735.6h.9M286.2 742.8h.9M292.1 733.1h.9M291.8 752.9h.9M292.1 744.5h.9M276.0 737.9h.9M281.8 742.6h.9M285.8 738.3h.9M294.0 745.0h.9M278.1 736.5h.9M273.9 731.4h.9M289.7 741.2h.9M288.4 744.5h.9M339.6 763.1h.9M342.4 786.1h.9M355.8 786.9h.9M338.6 787.1h.9M352.7 757.0h.9M331.9 756.4h.9M345.4 757.9h.9M345.3 759.5h.9M341.3 762.1h.9M362.1 757.9h.9M359.4 785.8h.9M340.6 780.2h.9M345.8 792.2h.9M360.3 778.6h.9M348.6 760.0h.9M344.5 752.7h.9M341.5 785.8h.9M344.4 761.3h.9M348.1 784.6h.9M353.2 785.1h.9M349.1 791.1h.9M353.4 761.0h.9M338.9 776.9h.9M342.6 777.7h.9M338.8 762.0h.9M341.8 764.3h.9M358.9 784.5h.9M355.9 796.2h.9M340.5 763.3h.9M364.3 781.5h.9M353.8 785.3h.9M334.9 757.7h.9M342.8 789.0h.9M365.8 767.6h.9M338.8 766.6h.9M338.0 756.5h.9M339.8 776.6h.9M345.7 763.5h.9M340.7 761.2h.9M356.9 787.8h.9M339.2 777.1h.9M337.0 770.2h.9M356.3 795.4h.9M350.0 756.8h.9M349.6 788.0h.9M353.3 786.0h.9M344.7 755.1h.9M337.9 773.8h.9M359.0 784.6h.9M347.6 755.7h.9M342.1 757.8h.9M342.8 757.2h.9M350.3 789.5h.9M354.3 788.9h.9M355.3 758.3h.9M339.2 762.4h.9M344.1 760.3h.9M345.2 759.5h.9M358.5 784.9h.9M359.0 769.2h.9M338.5 784.9h.9M358.4 787.2h.9M356.6 792.7h.9M348.0 757.0h.9M366.0 776.0h.9M332.8 749.8h.9M343.7 782.6h.9M358.1 758.5h.9M335.2 782.0h.9M348.1 788.0h.9M359.4 781.6h.9M337.1 769.7h.9M354.6 791.5h.9M359.3 759.1h.9M358.5 758.3h.9M337.8 773.0h.9M359.5 760.4h.9M357.9 779.9h.9M352.0 763.3h.9M360.1 781.6h.9M361.0 759.9h.9M361.5 786.0h.9M346.5 756.5h.9M357.1 766.0h.9M344.9 758.7h.9M358.8 797.2h.9M359.9 763.4h.9M359.2 760.5h.9M350.8 791.5h.9M340.0 776.0h.9M348.5 788.6h.9M341.0 757.5h.9M355.1 779.8h.9M356.0 785.7h.9M342.2 788.1h.9M345.1 785.9h.9M355.3 789.3h.9M361.6 783.3h.9M344.4 761.9h.9M341.4 767.3h.9M333.1 765.2h.9M353.8 755.0h.9M344.4 785.1h.9M357.7 761.0h.9M346.8 784.0h.9M353.3 780.1h.9M336.7 780.6h.9M359.9 783.7h.9M340.1 784.1h.9M362.6 771.9h.9M355.9 765.0h.9M354.8 759.6h.9M336.3 781.0h.9M341.1 763.0h.9M357.1 757.1h.9M341.5 781.0h.9M359.7 769.3h.9M357.1 762.3h.9M355.7 784.6h.9M360.5 761.2h.9M340.1 768.5h.9M351.1 788.7h.9M338.9 770.9h.9M358.2 759.6h.9M338.9 774.8h.9M345.2 762.2h.9M353.7 755.4h.9M360.3 769.8h.9M333.8 784.4h.9M335.6 778.3h.9M358.0 786.3h.9M339.6 773.8h.9M341.9 766.3h.9M347.4 755.5h.9M336.7 766.7h.9M359.0 791.5h.9M346.8 760.5h.9M333.8 766.8h.9M357.4 789.3h.9M361.5 777.3h.9M349.5 800.6h.9M341.2 800.7h.9M340.4 770.2h.9M334.0 779.7h.9M338.8 761.7h.9M360.2 760.5h.9M367.7 789.8h.9M337.5 777.3h.9M351.8 752.3h.9M358.4 790.8h.9M334.7 761.9h.9M332.4 785.8h.9M347.8 746.1h.9M361.2 773.8h.9M358.8 757.0h.9M355.2 751.8h.9M343.3 790.8h.9M350.6 756.8h.9M348.5 788.9h.9M337.7 772.9h.9M363.9 772.6h.9M338.7 765.4h.9M367.7 768.5h.9M341.2 769.6h.9M354.3 787.9h.9M360.2 783.9h.9M360.3 765.4h.9M343.3 786.8h.9M365.8 770.3h.9M327.7 765.3h.9M349.8 753.0h.9M363.1 778.5h.9M343.0 765.9h.9M347.1 739.7h.9M350.7 760.8h.9M365.7 773.8h.9M356.8 788.1h.9M320.5 768.8h.9M338.0 774.7h.9M336.2 759.8h.9M330.8 776.1h.9M356.9 786.1h.9M360.2 783.3h.9M363.5 762.0h.9M349.9 796.2h.9M352.1 757.9h.9M357.8 762.6h.9M353.6 751.7h.9M369.7 769.6h.9M346.8 784.5h.9M339.4 776.8h.9M332.5 783.5h.9M359.0 790.8h.9M345.9 790.9h.9M343.2 759.0h.9M355.3 792.8h.9M341.8 786.1h.9M337.9 780.3h.9M364.1 763.2h.9M291.1 769.7h.9M280.8 767.8h.9M272.4 756.6h.9M273.2 763.7h.9M271.9 766.8h.9M286.9 773.0h.9M271.0 749.9h.9M274.9 775.2h.9M298.0 763.5h.9M277.8 771.4h.9M288.7 774.8h.9M274.1 760.5h.9M286.8 776.1h.9M280.3 769.8h.9M276.5 766.6h.9M282.2 764.0h.9M281.5 778.1h.9M271.1 770.3h.9M281.3 766.7h.9M283.3 763.8h.9M295.2 764.7h.9M275.1 765.0h.9M279.7 737.9h.9M268.1 766.3h.9M287.3 754.8h.9M281.4 763.5h.9M282.4 758.6h.9M278.9 772.2h.9M283.5 769.1h.9M278.3 767.6h.9M280.9 771.1h.9M281.9 776.0h.9M275.2 755.0h.9M281.5 770.5h.9M294.4 762.6h.9M297.7 772.5h.9M301.5 767.7h.9M289.6 769.4h.9M281.2 774.6h.9M270.9 764.9h.9M296.7 756.9h.9M290.8 771.5h.9M300.3 769.2h.9M265.8 766.5h.9M288.6 761.5h.9M266.1 759.9h.9M277.3 758.4h.9M280.1 767.2h.9M306.5 769.8h.9M290.8 761.3h.9M279.0 768.0h.9M282.1 772.3h.9M291.4 752.2h.9M277.2 766.4h.9M281.7 768.7h.9M299.0 772.0h.9M279.7 758.9h.9M274.2 763.6h.9M298.2 766.9h.9M286.9 777.1h.9M309.5 752.4h.9M293.5 776.7h.9M313.6 761.6h.9M310.9 784.0h.9M299.8 765.2h.9M297.9 758.1h.9M311.5 761.5h.9M330.2 766.0h.9M317.4 753.0h.9M324.8 770.6h.9M295.5 763.2h.9M320.3 767.6h.9M333.9 780.7h.9M314.5 758.2h.9M295.3 744.8h.9M291.0 747.2h.9M314.9 754.0h.9M303.6 757.9h.9M335.7 733.3h.9M356.6 721.5h.9M345.4 721.3h.9M354.0 706.9h.9M353.6 749.9h.9M352.2 734.6h.9M353.9 714.4h.9M352.5 731.3h.9M351.4 734.9h.9M347.8 715.7h.9M355.0 723.8h.9M335.1 734.5h.9M356.5 719.8h.9M354.3 722.5h.9M361.8 734.1h.9M342.7 727.5h.9M344.2 749.7h.9M336.6 721.4h.9M338.2 726.8h.9M347.6 736.1h.9M359.9 723.7h.9M350.9 729.3h.9M340.3 726.5h.9M341.1 724.8h.9M338.3 716.5h.9M333.5 723.5h.9M340.9 731.9h.9M352.2 750.3h.9M337.5 748.1h.9M272.3 728.1h.9M287.0 767.8h.9M351.4 755.0h.9M349.4 739.5h.9M326.7 721.0h.9" stroke="#3552b8" stroke-width="0.9" fill="none"/>
<path d="M277.3 727.9h.9M291.9 718.7h.9M286.0 736.0h.9M295.3 713.3h.9M293.5 735.6h.9M275.8 725.9h.9M274.3 725.3h.9M279.5 714.0h.9M290.7 733.8h.9M289.7 715.4h.9M277.0 730.7h.9M275.1 722.2h.9M277.8 725.5h.9M292.5 714.4h.9M290.1 740.8h.9M276.2 730.3h.9M283.2 716.4h.9M276.5 725.4h.9M275.6 728.7h.9M276.0 729.6h.9M285.0 715.2h.9M280.6 736.2h.9M297.1 714.7h.9M293.3 726.1h.9M291.0 717.5h.9M298.3 727.5h.9M291.0 734.6h.9M292.9 732.1h.9M290.4 739.5h.9M294.7 718.2h.9M290.2 715.8h.9M287.2 734.8h.9M280.5 736.3h.9M294.4 722.9h.9M282.2 715.5h.9M290.3 715.8h.9M298.2 722.7h.9M292.4 736.1h.9M298.3 729.8h.9M296.8 723.0h.9M290.1 717.2h.9M297.5 737.2h.9M289.1 713.9h.9M277.5 730.7h.9M292.9 734.5h.9M276.7 731.9h.9M288.2 713.9h.9M293.4 715.6h.9M298.5 724.2h.9M296.5 729.5h.9M292.1 737.7h.9M281.8 736.8h.9M297.9 726.3h.9M276.8 730.7h.9M298.8 718.4h.9M274.9 724.5h.9M294.8 725.4h.9M283.5 717.8h.9M294.5 731.5h.9M291.3 716.7h.9M293.2 730.6h.9M294.8 726.7h.9M277.1 730.4h.9M277.8 718.8h.9M294.9 721.5h.9M298.4 725.2h.9M296.8 730.1h.9M286.1 737.6h.9M280.7 730.0h.9M297.3 719.9h.9M292.6 718.1h.9M285.3 740.6h.9M290.3 715.3h.9M294.6 713.3h.9M296.0 724.8h.9M277.6 721.4h.9M283.3 741.4h.9M291.1 740.5h.9M291.3 734.1h.9M286.3 752.7h.9M277.6 731.5h.9M296.6 717.5h.9M279.9 744.7h.9M288.9 714.0h.9M272.6 734.5h.9M289.9 714.5h.9M292.2 735.5h.9M291.4 743.1h.9M298.9 737.8h.9M291.0 713.8h.9M298.2 716.9h.9M273.8 725.4h.9M286.2 737.9h.9M287.9 742.7h.9M296.6 719.5h.9M284.1 735.2h.9M290.6 715.8h.9M277.3 729.7h.9M288.4 712.6h.9M277.5 732.1h.9M291.4 740.5h.9M277.2 731.8h.9M293.5 717.7h.9M278.8 742.7h.9M285.0 717.3h.9M286.1 741.0h.9M280.3 715.9h.9M296.6 722.9h.9M298.8 730.2h.9M276.0 740.4h.9M299.2 720.0h.9M277.7 717.7h.9M294.2 732.0h.9M295.2 742.9h.9M290.3 731.1h.9M279.7 734.8h.9M276.5 732.6h.9M275.6 727.4h.9M292.9 735.7h.9M283.4 738.7h.9M278.6 732.3h.9M289.5 741.8h.9M291.0 739.7h.9M290.3 739.8h.9M293.6 738.3h.9M288.6 740.3h.9M281.2 732.0h.9M292.9 739.3h.9M293.7 738.3h.9M292.3 734.9h.9M342.1 768.5h.9M350.5 757.0h.9M347.5 762.8h.9M343.3 781.5h.9M340.0 767.0h.9M346.9 790.3h.9M338.8 763.4h.9M344.1 761.9h.9M336.3 780.3h.9M353.5 748.5h.9M342.1 761.0h.9M343.6 783.3h.9M359.4 779.0h.9M359.2 768.1h.9M340.6 771.2h.9M345.8 759.6h.9M354.3 786.3h.9M347.0 770.3h.9M350.7 787.4h.9M349.4 770.7h.9M339.8 776.5h.9M358.4 770.3h.9M341.5 773.2h.9M360.7 770.9h.9M341.8 779.7h.9M360.1 756.6h.9M349.2 782.6h.9M344.2 784.6h.9M342.9 764.9h.9M343.6 761.8h.9M350.9 761.7h.9M360.1 777.6h.9M348.5 791.6h.9M339.0 774.3h.9M356.6 789.6h.9M348.6 760.7h.9M346.1 780.8h.9M353.6 771.8h.9M337.7 774.8h.9M337.8 767.2h.9M349.5 757.8h.9M360.6 770.1h.9M357.9 766.7h.9M341.2 775.6h.9M340.8 775.6h.9M357.5 758.3h.9M337.0 766.6h.9M360.1 761.6h.9M353.3 754.2h.9M359.8 763.4h.9M363.2 784.2h.9M355.9 758.3h.9M359.4 772.2h.9M345.7 771.2h.9M336.0 771.3h.9M352.8 788.0h.9M348.7 755.5h.9M335.5 774.6h.9M357.0 781.5h.9M359.7 781.0h.9M359.7 779.1h.9M362.4 764.8h.9M343.1 769.9h.9M358.6 762.0h.9M361.1 781.7h.9M358.0 761.4h.9M349.2 786.1h.9M341.1 775.4h.9M346.9 753.8h.9M361.3 761.7h.9M353.1 786.5h.9M344.5 766.9h.9M349.0 787.1h.9M358.0 778.9h.9M359.1 760.5h.9M343.7 762.4h.9M338.8 768.3h.9M349.4 757.5h.9M349.1 786.5h.9M341.8 784.5h.9M353.3 767.0h.9M339.9 766.6h.9M349.2 761.7h.9M357.6 787.6h.9M356.0 780.7h.9M339.1 773.9h.9M363.8 779.4h.9M347.5 782.1h.9M353.0 762.6h.9M362.9 777.9h.9M357.6 785.4h.9M344.4 758.3h.9M343.6 783.9h.9M353.2 783.0h.9M350.3 759.2h.9M340.7 780.4h.9M343.8 780.4h.9M355.9 780.8h.9M352.2 791.4h.9M357.9 776.8h.9M355.8 783.0h.9M353.4 759.3h.9M359.0 770.3h.9M342.1 781.9h.9M343.2 786.8h.9M356.3 762.6h.9M359.5 763.3h.9M345.0 765.3h.9M342.1 761.0h.9M358.5 784.4h.9M345.5 788.2h.9M355.3 781.8h.9M339.2 771.2h.9M339.1 776.4h.9M343.5 771.7h.9M348.8 782.8h.9M353.9 763.7h.9M346.9 757.4h.9M338.4 776.3h.9M350.8 764.9h.9M358.5 764.2h.9M361.2 770.9h.9M346.7 762.8h.9M344.5 758.6h.9M345.5 755.6h.9M354.5 789.0h.9M359.4 768.7h.9M345.3 783.4h.9M337.6 759.7h.9M358.1 777.5h.9M351.7 788.2h.9M352.1 759.0h.9M348.1 786.0h.9M354.5 770.0h.9M365.2 771.4h.9M350.2 782.4h.9M356.6 782.1h.9M349.7 762.1h.9M352.9 783.2h.9M342.5 775.7h.9M344.6 761.9h.9M344.1 760.9h.9M345.1 783.6h.9M358.9 768.7h.9M352.9 759.0h.9M353.2 783.3h.9M358.1 783.8h.9M348.7 784.7h.9M362.2 769.7h.9M351.9 781.0h.9M352.0 764.7h.9M354.7 770.5h.9M353.0 761.9h.9M344.8 759.7h.9M341.3 783.6h.9M342.2 766.8h.9M352.9 764.4h.9M348.5 766.6h.9M352.5 784.7h.9M353.7 779.2h.9M357.8 777.9h.9M361.0 766.5h.9M354.3 757.6h.9M340.3 783.5h.9M354.5 786.4h.9M340.4 768.6h.9M352.8 761.9h.9M356.9 757.9h.9M362.4 763.6h.9M338.5 766.9h.9M351.5 780.6h.9M354.0 786.4h.9M339.0 784.9h.9M354.6 749.4h.9M348.5 763.3h.9M350.6 784.5h.9M339.1 768.4h.9M349.5 790.4h.9M354.5 765.3h.9M359.5 762.9h.9M337.3 785.3h.9M343.2 784.6h.9M354.6 765.6h.9M350.7 756.4h.9M339.8 783.9h.9M352.5 758.0h.9M362.7 762.3h.9M341.4 779.3h.9M357.4 779.4h.9M360.7 776.3h.9M352.8 769.7h.9M348.6 756.3h.9M361.8 773.5h.9M361.6 764.0h.9M359.8 774.5h.9M352.0 788.8h.9M354.5 758.6h.9M359.0 782.6h.9M363.6 773.9h.9M359.8 780.8h.9M366.0 773.8h.9M361.5 778.8h.9M358.3 764.1h.9M362.6 775.1h.9M348.2 782.1h.9M353.8 760.0h.9M351.6 795.7h.9M362.4 772.5h.9M358.1 774.1h.9M353.9 759.1h.9M343.2 770.7h.9M345.2 766.2h.9M343.3 759.7h.9M338.2 765.5h.9M354.9 778.4h.9M345.5 754.7h.9M356.4 756.3h.9M336.6 771.0h.9M361.5 772.0h.9M343.0 763.8h.9M343.3 770.1h.9M343.0 782.1h.9M284.0 766.3h.9M278.4 767.0h.9M295.9 762.4h.9M292.9 763.8h.9M282.8 762.7h.9M275.5 769.0h.9M286.1 764.6h.9M280.5 769.9h.9M288.8 772.7h.9M296.7 764.3h.9M275.0 766.2h.9M288.8 772.5h.9M278.3 768.7h.9M288.6 740.8h.9M337.5 784.3h.9M339.6 776.0h.9M298.3 760.7h.9M334.8 720.3h.9M342.8 742.4h.9M355.1 743.9h.9M293.0 745.3h.9" stroke="#3a78d0" stroke-width="0.9" fill="none"/>
<path d="M276.1 728.5h.9M285.8 739.7h.9M291.5 717.9h.9M283.4 736.4h.9M279.3 722.9h.9M294.7 730.1h.9M292.1 724.3h.9M290.8 734.3h.9M278.0 727.2h.9M294.2 726.4h.9M273.5 728.9h.9M280.5 730.2h.9M292.3 714.0h.9M286.1 715.6h.9M279.4 718.1h.9M291.3 731.0h.9M294.4 727.4h.9M288.5 735.1h.9M289.0 732.4h.9M294.7 730.2h.9M287.1 718.3h.9M292.1 720.0h.9M290.7 733.4h.9M287.1 714.1h.9M286.4 715.2h.9M294.4 714.9h.9M280.0 724.8h.9M279.4 724.6h.9M293.3 731.0h.9M277.5 726.3h.9M275.9 721.7h.9M280.5 734.4h.9M284.6 719.1h.9M289.4 720.0h.9M284.7 736.3h.9M283.9 715.8h.9M293.1 724.3h.9M290.3 713.4h.9M281.5 718.6h.9M293.8 715.8h.9M283.5 721.1h.9M279.2 730.5h.9M281.5 734.1h.9M292.9 720.5h.9M280.8 722.4h.9M280.4 731.7h.9M285.0 718.0h.9M293.1 729.5h.9M287.5 718.5h.9M287.1 719.3h.9M275.4 728.1h.9M286.4 714.1h.9M277.8 727.8h.9M295.7 718.8h.9M276.9 728.2h.9M289.7 715.8h.9M284.9 719.6h.9M290.2 724.4h.9M284.4 714.1h.9M285.3 735.2h.9M280.3 731.9h.9M284.1 735.6h.9M294.8 715.3h.9M295.0 723.7h.9M283.0 718.9h.9M280.8 717.4h.9M294.6 728.9h.9M278.3 719.4h.9M291.3 729.7h.9M293.3 721.9h.9M276.8 726.5h.9M289.9 717.6h.9M292.7 717.8h.9M287.2 718.6h.9M298.1 729.1h.9M294.6 726.3h.9M295.3 732.4h.9M281.2 715.9h.9M292.9 721.3h.9M286.9 717.1h.9M286.3 712.6h.9M282.0 717.3h.9M280.6 718.7h.9M290.3 720.2h.9M282.2 719.0h.9M294.9 725.2h.9M277.8 730.0h.9M282.4 715.9h.9M277.1 727.2h.9M278.1 722.1h.9M296.2 720.8h.9M276.0 721.6h.9M280.5 733.0h.9M291.9 722.4h.9M286.6 735.4h.9M288.7 732.7h.9M283.2 732.6h.9M278.1 715.9h.9M297.9 732.7h.9M292.4 711.9h.9M278.1 725.6h.9M280.0 716.5h.9M296.6 721.6h.9M280.4 721.6h.9M291.1 719.9h.9M293.5 727.6h.9M279.2 717.7h.9M295.5 734.4h.9M278.9 712.5h.9M279.3 722.9h.9M286.2 714.8h.9M282.4 736.2h.9M290.5 731.4h.9M288.7 738.2h.9M276.8 737.6h.9M288.7 739.8h.9M287.9 735.3h.9M274.5 722.8h.9M293.0 740.5h.9M280.0 735.6h.9M299.3 733.5h.9M294.2 719.4h.9M277.5 721.7h.9M280.2 729.4h.9M277.6 731.1h.9M291.1 719.1h.9M279.1 727.8h.9M293.4 733.7h.9M300.2 730.0h.9M284.2 736.0h.9M286.8 742.0h.9M287.4 734.6h.9M292.0 713.5h.9M282.9 718.1h.9M289.5 715.8h.9M288.2 742.4h.9M291.8 731.0h.9M295.5 738.6h.9M293.2 729.4h.9M292.9 729.3h.9M296.8 740.2h.9M289.9 735.8h.9M283.3 738.9h.9M284.6 734.2h.9M293.7 731.7h.9M287.1 741.3h.9M286.9 743.8h.9M288.8 742.1h.9M285.8 739.7h.9M287.0 734.3h.9M279.2 731.5h.9M284.5 737.6h.9M286.2 738.8h.9M287.5 738.1h.9M282.9 738.3h.9M283.5 738.9h.9M277.5 727.5h.9M288.4 739.0h.9M345.3 766.3h.9M355.2 770.5h.9M354.1 766.4h.9M358.0 780.3h.9M350.4 771.6h.9M361.6 780.8h.9M350.8 775.2h.9M350.1 782.6h.9M345.9 766.3h.9M360.3 782.8h.9M345.0 759.0h.9M349.5 785.2h.9M346.3 763.9h.9M346.6 788.6h.9M346.4 764.8h.9M345.3 763.9h.9M355.8 784.9h.9M345.8 769.2h.9M343.0 772.4h.9M351.4 784.3h.9M355.2 763.5h.9M350.5 784.7h.9M358.1 775.6h.9M339.7 780.7h.9M347.0 770.0h.9M341.7 771.3h.9M360.2 770.7h.9M345.1 781.9h.9M352.3 756.4h.9M346.2 781.2h.9M341.3 758.4h.9M350.1 767.7h.9M353.5 770.7h.9M348.0 774.3h.9M344.6 765.5h.9M352.0 776.8h.9M342.9 778.6h.9M352.9 782.2h.9M353.8 769.7h.9M345.7 785.3h.9M343.8 779.1h.9M345.1 759.0h.9M342.0 781.9h.9M353.9 770.8h.9M342.9 770.8h.9M348.9 781.8h.9M344.9 771.6h.9M349.8 780.0h.9M355.3 782.0h.9M350.9 783.2h.9M346.4 759.3h.9M340.6 762.2h.9M357.0 761.3h.9M344.9 784.6h.9M354.6 777.9h.9M354.5 787.0h.9M359.1 782.9h.9M351.0 761.9h.9M360.2 763.6h.9M358.5 769.6h.9M351.9 767.4h.9M350.0 779.4h.9M349.6 779.3h.9M347.6 771.3h.9M350.6 781.4h.9M341.5 778.0h.9M351.0 758.3h.9M345.9 770.8h.9M349.7 764.8h.9M350.0 780.2h.9M350.9 768.8h.9M342.8 777.8h.9M349.4 780.6h.9M355.3 762.0h.9M347.7 770.9h.9M340.7 768.1h.9M353.0 771.5h.9M341.8 776.1h.9M344.3 757.6h.9M346.6 770.7h.9M339.5 781.2h.9M339.5 772.4h.9M345.3 776.6h.9M356.2 776.6h.9M339.8 770.0h.9M343.2 781.1h.9M352.6 770.3h.9M357.4 759.0h.9M353.1 764.7h.9M340.3 775.8h.9M357.3 766.0h.9M343.6 771.1h.9M344.1 778.9h.9M348.7 781.4h.9M347.3 770.1h.9M348.9 762.0h.9M356.9 766.8h.9M347.7 769.8h.9M358.6 766.4h.9M343.7 779.1h.9M353.4 765.3h.9M355.8 777.0h.9M344.3 782.7h.9M359.0 783.7h.9M352.0 761.1h.9M353.2 780.8h.9M348.4 788.1h.9M355.1 778.3h.9M345.3 768.1h.9M353.2 776.1h.9M340.8 777.2h.9M351.8 763.9h.9M342.3 768.9h.9M354.8 768.4h.9M345.9 768.7h.9M343.7 775.4h.9M353.4 762.5h.9M342.4 779.2h.9M354.8 767.6h.9M357.4 771.9h.9M344.7 761.4h.9M347.1 763.4h.9M339.4 777.6h.9M342.3 772.5h.9M341.8 774.2h.9M363.1 770.4h.9M340.8 767.2h.9M340.9 782.9h.9M344.1 778.0h.9M354.6 772.0h.9M345.4 786.9h.9M346.0 779.5h.9M342.0 772.1h.9M349.4 766.1h.9M357.5 764.2h.9M346.1 767.2h.9M347.8 770.5h.9M347.9 760.4h.9M349.0 779.2h.9M348.6 754.4h.9M356.2 771.1h.9M343.5 764.4h.9M350.5 786.3h.9M358.6 773.8h.9M347.5 777.1h.9M341.0 766.9h.9M353.5 782.9h.9M352.4 766.9h.9M346.8 784.6h.9M341.6 770.2h.9M341.3 780.8h.9M350.3 779.6h.9M348.2 767.6h.9M352.8 770.3h.9M348.1 779.9h.9M339.0 764.8h.9M354.0 769.1h.9M346.0 761.8h.9M351.3 763.5h.9M342.1 778.4h.9M347.9 763.5h.9M351.7 762.3h.9M357.2 783.8h.9M351.1 762.9h.9M356.0 776.3h.9M336.0 772.1h.9M347.2 784.6h.9M354.8 778.4h.9M351.0 766.4h.9M349.8 775.9h.9M342.9 762.1h.9M346.6 774.6h.9M358.7 768.0h.9M344.5 774.5h.9M349.2 760.4h.9M355.4 759.7h.9M353.1 782.1h.9M346.0 772.2h.9M342.7 764.1h.9M346.9 765.3h.9M346.9 762.7h.9M345.5 767.5h.9M363.0 772.2h.9M344.1 766.2h.9M343.0 771.3h.9M355.6 781.3h.9M355.5 787.0h.9M352.9 764.7h.9M359.9 766.5h.9M346.4 779.5h.9M353.9 776.7h.9M343.2 772.4h.9M347.5 761.2h.9M343.7 769.1h.9M359.4 772.6h.9M361.8 769.2h.9M357.2 779.6h.9M339.5 771.2h.9M353.5 784.3h.9M341.4 780.3h.9M343.0 777.9h.9M350.6 779.9h.9M357.8 768.7h.9M351.4 782.2h.9M360.8 778.7h.9M353.0 780.2h.9M342.2 763.3h.9M358.0 772.7h.9M346.5 782.5h.9M350.0 777.7h.9M358.4 773.2h.9M353.4 790.0h.9M357.5 775.0h.9M353.5 776.2h.9M347.5 765.0h.9M346.0 780.1h.9M347.5 761.2h.9M341.7 766.3h.9M344.2 774.1h.9M363.9 773.2h.9M356.4 772.4h.9M341.2 767.5h.9M357.0 773.6h.9M353.4 763.7h.9M354.6 755.9h.9M347.6 779.7h.9M345.2 775.1h.9M359.6 775.4h.9M346.6 762.0h.9M354.9 767.6h.9M350.5 759.7h.9M350.1 759.2h.9M359.9 769.5h.9M348.1 776.2h.9M343.3 776.0h.9M350.0 773.0h.9M340.2 777.9h.9M346.6 760.2h.9M346.3 760.8h.9M343.0 764.2h.9M343.6 761.7h.9M355.8 764.0h.9M357.2 787.8h.9M343.5 776.5h.9M339.8 763.7h.9M339.9 776.1h.9M352.2 755.4h.9M350.1 781.1h.9M359.7 772.5h.9M292.6 718.5h.9" stroke="#30a8b8" stroke-width="0.9" fill="none"/>
<path d="M292.9 721.9h.9M283.7 719.4h.9M282.1 733.0h.9M283.0 734.0h.9M290.9 719.3h.9M290.7 717.6h.9M289.3 718.3h.9M285.0 720.0h.9M283.0 735.7h.9M291.7 715.2h.9M286.0 718.0h.9M280.9 726.1h.9M291.6 721.3h.9M281.5 718.6h.9M286.3 715.7h.9M293.5 727.1h.9M280.4 730.9h.9M280.4 725.6h.9M283.2 718.8h.9M289.1 730.3h.9M279.7 730.1h.9M279.7 726.9h.9M293.1 728.7h.9M279.7 721.8h.9M281.9 722.6h.9M281.7 717.1h.9M292.8 729.6h.9M291.8 719.3h.9M294.6 727.5h.9M281.4 717.7h.9M280.5 720.9h.9M295.5 721.3h.9M295.8 720.0h.9M281.8 725.0h.9M295.4 728.3h.9M289.8 728.2h.9M281.0 730.3h.9M287.0 740.2h.9M286.8 732.1h.9M285.4 717.0h.9M294.2 725.6h.9M280.5 719.4h.9M291.4 722.5h.9M281.7 718.8h.9M280.6 723.8h.9M291.4 721.2h.9M283.2 718.3h.9M287.4 731.6h.9M281.2 717.7h.9M293.8 722.1h.9M290.4 721.4h.9M290.5 721.4h.9M281.5 718.8h.9M284.9 716.2h.9M285.6 733.3h.9M288.9 721.1h.9M291.3 714.1h.9M287.9 718.1h.9M286.1 720.8h.9M280.3 727.9h.9M289.5 718.5h.9M293.3 725.6h.9M281.1 718.4h.9M293.4 722.9h.9M287.7 732.7h.9M280.6 720.1h.9M284.8 732.4h.9M283.6 719.8h.9M293.2 731.6h.9M290.2 731.5h.9M293.8 730.1h.9M288.9 717.7h.9M280.3 719.2h.9M284.6 717.8h.9M280.4 724.5h.9M280.7 720.8h.9M281.4 720.2h.9M278.1 728.5h.9M281.2 733.1h.9M278.8 717.6h.9M282.2 722.8h.9M286.0 734.8h.9M292.9 730.7h.9M291.6 728.5h.9M287.4 735.0h.9M289.9 718.4h.9M281.6 718.1h.9M284.0 735.6h.9M285.9 732.2h.9M290.8 719.8h.9M281.6 721.8h.9M287.2 714.3h.9M280.8 720.7h.9M286.4 734.2h.9M290.3 733.2h.9M284.3 735.2h.9M292.4 731.3h.9M284.2 736.1h.9M277.9 729.5h.9M290.7 733.8h.9M283.0 737.4h.9M287.9 732.0h.9M287.1 730.7h.9M290.8 723.5h.9M281.8 731.2h.9M290.0 730.8h.9M289.1 735.7h.9M296.4 731.6h.9M288.5 722.0h.9M284.4 732.8h.9M281.3 735.2h.9M286.2 717.3h.9M292.3 719.5h.9M292.6 735.2h.9M294.2 726.6h.9M280.2 723.9h.9M281.0 718.6h.9M295.0 740.2h.9M291.5 723.6h.9M292.0 720.4h.9M293.2 723.9h.9M291.7 731.6h.9M292.7 729.3h.9M291.6 717.3h.9M287.5 725.5h.9M288.7 735.1h.9M292.4 722.5h.9M288.3 735.4h.9M295.4 727.2h.9M280.4 720.4h.9M285.5 715.5h.9M291.1 732.4h.9M275.7 728.6h.9M280.0 734.6h.9M275.8 722.7h.9M294.2 724.3h.9M278.9 720.2h.9M287.2 734.0h.9M286.2 737.4h.9M291.1 735.9h.9M282.2 718.6h.9M277.8 722.9h.9M288.4 718.8h.9M284.7 720.7h.9M285.8 735.8h.9M293.7 720.2h.9M281.5 730.7h.9M277.6 726.5h.9M290.4 720.7h.9M284.3 735.3h.9M287.7 719.1h.9M289.9 725.2h.9M279.4 734.6h.9M293.4 737.5h.9M287.2 737.2h.9M278.2 732.4h.9M293.0 730.5h.9M293.4 730.9h.9M289.2 717.0h.9M287.2 732.3h.9M283.0 720.7h.9M294.8 726.5h.9M288.2 731.6h.9M279.6 737.5h.9M291.2 736.0h.9M287.0 730.0h.9M284.3 732.5h.9M292.4 731.1h.9M293.3 732.6h.9M291.2 742.3h.9M285.5 734.9h.9M287.4 733.9h.9M285.1 733.4h.9M291.9 735.5h.9M356.7 780.8h.9M342.9 775.8h.9M343.2 771.1h.9M346.2 779.6h.9M342.3 767.0h.9M348.6 775.7h.9M345.6 778.9h.9M354.4 780.0h.9M358.1 771.4h.9M349.5 779.6h.9M353.0 771.6h.9M353.4 761.6h.9M354.8 777.6h.9M348.6 780.5h.9M351.8 777.0h.9M347.2 776.7h.9M346.3 768.1h.9M349.0 779.8h.9M356.3 762.8h.9M352.6 776.1h.9M341.3 773.8h.9M347.4 765.0h.9M341.8 771.1h.9M342.6 775.0h.9M357.0 764.8h.9M349.4 774.2h.9M352.9 780.5h.9M352.9 756.3h.9M343.1 770.8h.9M346.0 771.4h.9M346.7 774.3h.9M348.3 761.2h.9M355.6 765.4h.9M358.4 771.6h.9M357.6 770.9h.9M343.6 769.5h.9M349.6 768.7h.9M352.1 769.6h.9M348.2 767.7h.9M350.0 765.6h.9M347.9 765.3h.9M347.9 778.0h.9M358.0 774.2h.9M339.9 766.9h.9M345.6 773.4h.9M353.9 780.7h.9M353.6 772.0h.9M355.0 772.5h.9M348.4 784.1h.9M353.3 778.9h.9M357.7 775.8h.9M348.6 761.3h.9M352.0 775.4h.9M346.3 784.9h.9M357.3 768.2h.9M348.3 772.4h.9M353.0 768.7h.9M348.9 778.8h.9M353.7 768.2h.9M355.6 768.9h.9M348.6 768.9h.9M354.7 779.1h.9M353.0 775.1h.9M355.1 766.5h.9M347.0 779.0h.9M351.3 780.6h.9M348.4 774.7h.9M351.7 773.2h.9M343.3 765.1h.9M347.7 778.3h.9M353.9 765.4h.9M347.8 771.4h.9M355.0 776.8h.9M345.5 771.4h.9M355.7 778.7h.9M348.3 774.8h.9M350.3 784.6h.9M344.4 766.2h.9M349.1 764.0h.9M361.2 770.1h.9M358.6 772.6h.9M343.8 774.8h.9M347.0 770.6h.9M358.4 766.7h.9M357.2 771.5h.9M347.3 763.5h.9M344.7 767.0h.9M352.3 775.0h.9M353.4 768.6h.9M353.0 780.8h.9M356.4 776.3h.9M351.4 776.7h.9M353.3 764.5h.9M346.1 773.9h.9M349.9 765.8h.9M355.0 766.4h.9M342.6 764.1h.9M350.7 767.7h.9M352.3 763.7h.9M357.3 773.4h.9M345.2 774.2h.9M351.2 769.9h.9M355.4 763.0h.9M348.3 783.0h.9M345.9 774.0h.9M358.2 773.9h.9M355.8 768.7h.9M350.7 765.8h.9M344.1 773.8h.9M341.4 771.6h.9M347.8 777.3h.9M348.5 774.0h.9M353.1 785.9h.9M347.7 772.8h.9M358.2 764.0h.9M363.0 773.7h.9M343.1 764.0h.9M350.5 781.4h.9M349.3 771.3h.9M351.7 775.0h.9M354.8 783.7h.9M343.4 775.4h.9M349.8 767.0h.9M357.4 771.9h.9M347.5 780.0h.9M345.7 771.3h.9M349.6 784.8h.9M350.1 784.3h.9M350.3 777.8h.9M341.0 767.8h.9M349.9 779.1h.9M358.9 775.4h.9M354.8 774.3h.9M354.1 770.1h.9M356.2 769.6h.9M356.5 768.0h.9M344.9 781.8h.9M352.0 765.1h.9M350.0 767.7h.9M355.0 783.2h.9M357.3 771.9h.9M345.3 765.8h.9M351.3 775.2h.9M350.8 757.9h.9M349.2 771.7h.9M355.8 764.0h.9M343.1 774.0h.9M349.9 782.0h.9M345.9 769.5h.9M353.8 763.0h.9M349.6 784.1h.9M356.4 768.8h.9M348.4 773.6h.9M352.9 767.2h.9M349.9 763.6h.9M349.0 767.1h.9M354.2 784.7h.9M345.7 766.1h.9M349.5 775.8h.9M345.9 768.7h.9M348.3 757.8h.9M350.3 766.3h.9M353.5 781.9h.9M354.4 777.5h.9M349.5 776.7h.9M344.2 770.9h.9M352.5 779.4h.9M345.4 764.8h.9M345.9 779.9h.9M355.5 773.9h.9M345.9 776.2h.9M353.5 771.8h.9M351.7 766.5h.9M352.8 790.3h.9M355.9 779.5h.9M355.0 767.0h.9M354.1 765.9h.9M342.5 769.7h.9M343.8 768.5h.9M354.9 773.5h.9M354.2 785.0h.9M343.1 778.3h.9M349.3 769.3h.9M355.1 766.9h.9M348.9 764.4h.9M351.5 767.0h.9M353.1 770.3h.9M345.8 776.4h.9M354.2 769.5h.9M353.5 775.5h.9M357.6 779.0h.9M355.1 770.5h.9M351.2 760.9h.9M353.0 766.6h.9M351.0 764.4h.9M356.1 776.1h.9M356.4 780.5h.9M356.4 770.7h.9M345.7 766.5h.9M352.7 773.4h.9M346.8 777.2h.9M347.6 767.5h.9M349.7 782.4h.9M350.3 777.2h.9M349.7 777.9h.9M342.1 772.5h.9M342.9 777.2h.9M355.8 776.7h.9M354.0 788.0h.9M349.6 763.0h.9M351.5 781.3h.9M341.2 776.9h.9M356.8 767.4h.9M341.6 774.0h.9M352.1 772.8h.9M345.6 767.7h.9M358.7 758.9h.9M351.1 774.3h.9M352.9 765.7h.9M346.9 770.6h.9M355.6 785.4h.9M347.8 783.3h.9M355.8 771.8h.9M354.2 763.3h.9M357.7 770.2h.9M346.7 776.3h.9M351.4 763.4h.9M354.3 772.5h.9M350.4 763.5h.9M356.2 772.3h.9M354.3 767.8h.9M358.5 773.5h.9M348.9 776.3h.9M346.0 771.0h.9M354.1 780.7h.9M350.9 772.3h.9M352.8 781.0h.9M345.8 769.1h.9M358.1 772.4h.9M352.2 777.7h.9M356.7 764.2h.9M355.4 766.4h.9M357.5 770.6h.9" stroke="#58bc4c" stroke-width="0.9" fill="none"/>
<path d="M281.2 726.1h.9M286.2 730.9h.9M284.4 718.9h.9M281.2 722.5h.9M288.8 715.8h.9M285.0 732.9h.9M285.0 730.3h.9M289.3 725.6h.9M282.6 726.3h.9M292.0 730.2h.9M281.6 726.0h.9M280.1 724.2h.9M289.7 730.1h.9M284.3 726.8h.9M286.8 719.4h.9M283.9 731.8h.9M291.2 730.4h.9M292.5 728.0h.9M290.3 728.7h.9M286.9 717.8h.9M282.2 725.0h.9M283.7 733.2h.9M284.4 720.6h.9M280.2 732.0h.9M292.8 728.9h.9M284.4 723.2h.9M289.2 719.5h.9M290.9 729.6h.9M286.3 723.0h.9M289.2 730.4h.9M281.3 720.6h.9M280.5 732.9h.9M286.0 720.5h.9M290.6 724.9h.9M280.1 725.4h.9M291.4 721.0h.9M284.8 718.8h.9M284.0 731.4h.9M280.4 721.0h.9M281.9 719.8h.9M290.3 716.8h.9M291.3 724.6h.9M280.8 730.3h.9M278.3 724.8h.9M284.0 724.6h.9M281.2 717.2h.9M289.5 721.8h.9M293.4 717.6h.9M279.6 725.9h.9M285.5 729.5h.9M284.0 727.7h.9M292.5 724.0h.9M291.6 723.3h.9M280.8 730.1h.9M285.3 717.3h.9M289.6 719.6h.9M291.7 720.1h.9M284.4 719.7h.9M281.8 723.8h.9M286.8 716.9h.9M286.7 724.2h.9M280.7 722.7h.9M281.0 727.6h.9M288.2 727.8h.9M282.6 726.5h.9M287.0 718.9h.9M289.3 728.5h.9M282.6 725.8h.9M281.5 726.0h.9M288.6 722.1h.9M283.9 722.0h.9M284.0 721.6h.9M288.4 723.7h.9M281.0 719.7h.9M288.3 731.7h.9M278.7 721.6h.9M292.6 726.8h.9M291.3 718.6h.9M279.9 725.3h.9M283.2 723.1h.9M286.3 729.6h.9M278.4 722.5h.9M283.7 720.6h.9M287.1 720.6h.9M292.5 727.6h.9M292.7 725.9h.9M283.6 730.5h.9M283.0 723.7h.9M294.1 727.0h.9M291.1 723.9h.9M281.3 729.1h.9M287.5 731.3h.9M286.0 720.7h.9M286.5 719.2h.9M282.1 724.8h.9M281.3 722.6h.9M283.7 731.5h.9M291.5 733.2h.9M285.6 720.5h.9M281.5 727.0h.9M286.5 720.9h.9M294.2 724.6h.9M293.5 722.6h.9M289.7 717.8h.9M283.9 730.7h.9M284.3 717.8h.9M291.8 718.5h.9M287.4 720.2h.9M281.9 718.6h.9M288.4 729.5h.9M285.5 731.6h.9M287.4 724.5h.9M282.7 721.7h.9M283.0 720.4h.9M287.5 721.1h.9M282.1 728.7h.9M284.6 719.5h.9M283.7 723.0h.9M291.0 733.3h.9M288.6 723.6h.9M283.2 722.9h.9M283.5 733.1h.9M291.3 720.5h.9M288.7 725.1h.9M281.3 730.5h.9M293.7 719.2h.9M283.1 721.2h.9M292.9 730.6h.9M280.7 734.2h.9M285.4 731.7h.9M286.1 732.7h.9M291.7 727.0h.9M285.3 719.3h.9M294.3 724.7h.9M291.8 733.3h.9M277.9 724.6h.9M289.1 728.4h.9M284.7 721.4h.9M282.5 733.2h.9M288.6 739.9h.9M293.5 729.4h.9M284.2 722.1h.9M292.2 722.7h.9M287.0 731.8h.9M291.4 724.0h.9M286.6 730.4h.9M289.0 730.6h.9M284.7 732.6h.9M282.8 734.6h.9M290.1 722.0h.9M280.3 731.8h.9M293.9 729.0h.9M290.4 723.9h.9M289.2 716.7h.9M289.0 726.1h.9M285.6 729.5h.9M289.9 718.1h.9M281.8 720.9h.9M287.4 730.5h.9M279.9 724.1h.9M281.8 726.6h.9M276.8 730.3h.9M283.5 725.2h.9M283.9 734.8h.9M291.9 727.3h.9M279.7 725.9h.9M284.2 731.9h.9M291.5 729.2h.9M291.6 724.5h.9M286.9 727.1h.9M286.5 719.0h.9M283.8 732.1h.9M281.7 728.7h.9M288.7 722.8h.9M282.5 729.3h.9M288.5 717.0h.9M291.3 720.0h.9M281.6 729.5h.9M279.6 721.3h.9M289.8 732.3h.9M281.5 730.2h.9M286.8 730.2h.9M290.8 723.8h.9M287.3 732.6h.9M282.2 726.7h.9M281.1 731.1h.9M290.6 731.3h.9M279.5 722.7h.9M282.4 729.7h.9M290.5 729.3h.9M288.4 730.6h.9M289.0 731.2h.9M286.1 733.2h.9M281.7 728.2h.9M288.8 730.8h.9M292.3 729.8h.9M283.7 730.2h.9M291.1 733.3h.9M289.5 729.5h.9M279.5 730.5h.9M284.3 732.6h.9M285.4 732.2h.9M354.7 775.0h.9M346.1 779.1h.9M347.0 774.8h.9M350.5 774.4h.9M347.4 770.6h.9M351.5 771.2h.9M353.8 774.0h.9M354.9 777.5h.9M344.3 767.8h.9M339.9 775.2h.9M346.8 778.9h.9M345.0 768.0h.9M351.4 782.6h.9M354.4 775.7h.9M348.1 774.6h.9M343.6 761.4h.9M355.7 774.2h.9M355.8 769.5h.9M346.2 766.4h.9M354.5 777.1h.9M344.9 778.0h.9M349.0 775.1h.9M357.3 777.4h.9M347.8 770.5h.9M352.1 774.9h.9M344.8 766.9h.9M351.6 765.4h.9M350.4 773.0h.9M350.0 768.1h.9M348.9 768.3h.9M348.6 777.2h.9M355.8 769.3h.9M355.5 773.4h.9M357.4 771.6h.9M350.6 778.4h.9M351.1 778.8h.9M350.5 768.0h.9M355.4 784.3h.9M348.2 771.0h.9M345.4 763.6h.9M349.4 768.3h.9M346.0 772.8h.9M353.4 771.7h.9M352.0 776.5h.9M348.4 766.8h.9M347.5 766.6h.9M348.3 775.5h.9M347.9 781.6h.9M352.6 778.6h.9M344.5 779.0h.9M348.9 766.5h.9M343.9 775.9h.9M346.4 776.9h.9M353.8 768.2h.9M346.9 767.9h.9M344.5 774.6h.9M349.6 777.8h.9M349.0 772.7h.9M347.5 765.3h.9M348.6 769.7h.9M350.2 780.8h.9M346.9 775.4h.9M348.7 773.6h.9M352.4 774.8h.9M354.0 777.0h.9M345.4 776.7h.9M343.2 779.4h.9M353.5 775.8h.9M349.9 773.4h.9M355.0 777.7h.9M345.6 779.8h.9M351.0 763.6h.9M354.1 775.1h.9M346.2 776.7h.9M354.2 769.6h.9M346.2 776.8h.9M344.4 772.5h.9M346.1 773.3h.9M356.5 776.3h.9M353.8 774.4h.9M354.1 774.3h.9M352.9 771.5h.9M351.3 781.8h.9M354.4 776.7h.9M356.1 771.6h.9M349.7 778.3h.9M351.8 781.8h.9M345.2 767.5h.9M344.1 771.6h.9M352.2 776.2h.9M342.9 776.4h.9M349.1 773.9h.9M347.3 766.4h.9M349.3 767.0h.9M351.8 765.4h.9M355.4 778.2h.9M355.8 774.9h.9M344.5 775.4h.9M347.6 764.9h.9M353.2 785.6h.9M353.1 775.3h.9M356.5 770.2h.9M351.1 773.5h.9M344.2 770.0h.9M354.9 774.7h.9M347.3 768.8h.9M352.9 776.1h.9M348.7 775.4h.9M349.8 774.4h.9M352.0 776.0h.9M344.8 767.1h.9M348.2 767.4h.9M344.4 773.8h.9M350.4 777.2h.9M355.1 776.9h.9M352.1 766.5h.9M349.2 768.7h.9M351.7 779.8h.9M362.8 769.0h.9M350.7 763.8h.9M348.5 766.6h.9M350.9 771.1h.9M349.0 763.8h.9M344.2 766.2h.9M345.1 779.1h.9M348.8 775.0h.9M358.7 768.4h.9M345.9 767.5h.9M341.2 771.7h.9M355.8 780.7h.9M346.3 767.8h.9M354.9 774.4h.9M355.1 775.4h.9M348.7 770.9h.9M346.1 759.3h.9M353.4 783.5h.9M351.3 775.4h.9M351.7 775.2h.9M346.5 775.4h.9M353.5 779.4h.9M350.3 775.4h.9M349.2 771.1h.9M351.2 783.0h.9M352.7 772.0h.9" stroke="#c8d030" stroke-width="0.9" fill="none"/>
<path d="M288.6 726.1h.9M291.0 726.3h.9M283.7 725.7h.9M285.5 722.3h.9M280.2 723.3h.9M285.5 720.9h.9M288.0 727.0h.9M287.2 721.5h.9M280.7 723.0h.9M280.0 725.6h.9M285.0 729.0h.9M289.4 726.6h.9M288.8 726.1h.9M286.1 729.5h.9M290.9 724.0h.9M287.7 725.3h.9M287.3 731.7h.9M291.7 726.5h.9M287.8 725.2h.9M290.2 721.6h.9M283.9 727.8h.9M282.8 726.0h.9M290.2 726.8h.9M287.9 726.2h.9M290.2 724.7h.9M286.5 723.9h.9M289.7 728.8h.9M283.0 724.3h.9M282.6 723.4h.9M283.1 728.0h.9M286.3 731.2h.9M289.5 725.7h.9M286.3 727.7h.9M291.1 725.4h.9M287.3 724.8h.9M281.4 730.3h.9M289.5 723.5h.9M282.7 725.3h.9M285.3 723.7h.9M280.3 726.0h.9M282.9 724.2h.9M287.8 727.5h.9M283.0 725.3h.9M290.0 729.5h.9M280.3 723.7h.9M283.0 721.5h.9M283.6 731.1h.9M283.1 725.5h.9M282.9 727.8h.9M289.3 725.4h.9M287.5 726.7h.9M285.9 720.5h.9M295.3 727.4h.9M287.9 728.6h.9M282.2 724.1h.9M283.3 721.0h.9M289.2 734.3h.9M290.9 730.3h.9M289.9 722.2h.9M282.8 732.1h.9M289.3 725.1h.9M287.9 723.9h.9M286.5 723.7h.9M281.8 727.9h.9M289.8 722.1h.9M290.0 723.1h.9M285.5 732.1h.9M285.6 718.8h.9M284.1 729.5h.9M284.7 729.8h.9M285.4 724.8h.9M292.6 728.6h.9M289.8 725.5h.9M285.2 724.8h.9M284.2 726.3h.9M284.7 731.9h.9M283.6 722.4h.9M287.9 722.4h.9M281.0 730.3h.9M281.6 728.7h.9M286.9 717.9h.9M287.8 727.8h.9M281.3 727.5h.9M282.8 727.7h.9M290.7 726.1h.9M283.5 729.6h.9M290.6 728.7h.9M289.8 724.3h.9M283.5 726.3h.9M290.1 725.1h.9M289.0 727.1h.9M283.2 728.0h.9M284.4 727.6h.9M286.8 721.0h.9M285.9 725.7h.9M282.6 719.9h.9M287.5 727.8h.9M282.2 731.3h.9M290.9 729.1h.9M289.6 723.1h.9M282.0 729.6h.9M283.1 724.9h.9M287.2 724.1h.9M283.6 725.2h.9M288.1 725.6h.9M282.3 723.8h.9M288.0 721.1h.9M293.6 724.8h.9M289.8 725.8h.9M284.7 728.5h.9M285.4 722.6h.9M284.7 719.3h.9M283.3 726.6h.9M288.1 725.3h.9M288.6 721.7h.9M289.6 726.3h.9M284.6 724.4h.9M287.4 731.4h.9M283.9 725.2h.9M286.7 727.0h.9M287.9 723.3h.9M283.1 722.7h.9M284.1 728.7h.9M286.5 726.5h.9M284.9 727.5h.9M291.1 724.9h.9M285.1 730.2h.9M287.2 726.4h.9M282.7 730.9h.9M282.3 724.9h.9M281.9 722.6h.9M289.4 722.5h.9M281.8 725.0h.9M280.9 727.3h.9M285.4 719.6h.9M292.5 724.4h.9M286.0 726.4h.9M287.2 721.2h.9M287.8 725.8h.9M281.1 725.8h.9M283.5 725.0h.9M289.9 722.1h.9M283.7 729.8h.9M289.9 726.2h.9M283.9 727.4h.9M290.4 721.5h.9M286.4 726.9h.9M290.6 723.9h.9M290.5 728.0h.9M286.2 731.6h.9M284.5 728.7h.9M282.9 723.8h.9M291.2 720.2h.9M283.3 728.3h.9M281.0 726.8h.9M288.6 732.1h.9M288.4 722.9h.9M291.4 729.4h.9M282.7 718.7h.9M290.5 727.3h.9M283.7 731.8h.9M289.1 723.9h.9M289.6 725.7h.9M280.0 729.0h.9M293.9 729.5h.9M286.7 727.8h.9M287.2 721.6h.9M292.5 723.0h.9M287.6 731.4h.9M283.6 728.9h.9M347.0 768.3h.9M354.2 776.5h.9M348.3 778.2h.9M352.6 772.4h.9M351.0 774.0h.9M354.5 779.7h.9M351.9 781.5h.9M353.4 769.8h.9M346.9 777.1h.9M348.6 772.4h.9M353.0 771.3h.9M344.4 762.5h.9M354.2 773.6h.9M354.6 772.2h.9M348.5 763.9h.9M344.0 774.4h.9M349.8 769.4h.9M354.9 772.4h.9M349.2 780.0h.9M349.9 770.9h.9M354.0 772.0h.9M349.8 771.2h.9M351.3 776.9h.9M352.2 779.4h.9M346.2 780.5h.9M346.2 773.9h.9M349.2 773.7h.9M350.5 770.8h.9M351.6 777.4h.9M353.5 773.5h.9M354.8 771.3h.9M347.5 769.3h.9M351.8 773.6h.9M355.2 775.1h.9M351.5 773.4h.9M343.9 774.0h.9M349.9 769.6h.9M351.9 774.7h.9M356.4 773.7h.9M349.9 773.1h.9M351.0 775.2h.9M348.7 777.9h.9M346.9 774.3h.9M349.3 776.1h.9M352.1 776.1h.9M347.6 772.5h.9M346.1 766.3h.9M350.4 767.9h.9M352.8 767.0h.9M354.3 775.8h.9M347.4 770.7h.9M352.8 774.4h.9M346.3 779.2h.9M354.3 772.7h.9M353.2 772.5h.9M353.0 774.4h.9M354.5 772.4h.9M348.6 775.9h.9M348.9 778.5h.9M286.0 724.1h.9" stroke="#f0a028" stroke-width="0.9" fill="none"/>
<path d="M286.2 727.7h.9M286.6 722.5h.9M284.2 728.5h.9M286.2 728.2h.9M286.1 727.5h.9M285.3 726.0h.9M283.0 727.4h.9M287.6 722.1h.9M284.3 728.0h.9M280.4 728.0h.9M284.5 727.5h.9M284.1 727.0h.9M285.0 726.2h.9M281.0 725.1h.9M285.7 724.0h.9M286.2 725.1h.9M284.4 726.4h.9M288.2 726.3h.9M284.3 730.3h.9M289.4 728.8h.9M288.5 726.0h.9M286.3 728.4h.9M284.2 722.4h.9M282.6 728.1h.9M287.4 722.4h.9M289.8 723.1h.9M282.4 724.9h.9M286.5 728.3h.9M283.1 726.4h.9M283.6 723.7h.9M283.7 728.1h.9M290.6 723.9h.9M288.0 729.1h.9M286.8 726.5h.9M285.8 721.5h.9M286.2 717.5h.9M283.1 724.1h.9M283.1 729.7h.9M287.1 728.5h.9M286.1 725.1h.9M290.5 728.5h.9M288.3 727.8h.9M282.2 724.4h.9M287.5 726.9h.9M285.5 724.5h.9M286.2 725.3h.9M282.2 719.1h.9M282.5 721.9h.9M287.7 732.4h.9M288.8 725.9h.9M281.8 724.9h.9M282.4 725.6h.9M284.8 726.8h.9M286.8 728.6h.9M286.9 725.7h.9M287.0 725.9h.9M286.1 724.4h.9M284.0 726.5h.9M283.8 723.2h.9M289.4 720.1h.9M286.1 724.6h.9M284.8 723.5h.9M284.2 725.7h.9M290.6 730.1h.9M284.9 727.2h.9M283.6 723.5h.9M284.0 724.0h.9M290.9 725.3h.9M288.1 731.1h.9M290.9 729.6h.9M287.9 719.5h.9M285.4 728.3h.9M286.7 726.9h.9M286.6 727.7h.9M285.9 726.7h.9M288.0 725.5h.9M288.0 731.3h.9M284.9 728.6h.9M292.5 726.0h.9M286.4 730.6h.9M286.6 725.9h.9M290.0 725.8h.9M286.3 728.4h.9M285.1 726.7h.9M287.6 723.3h.9M283.4 727.3h.9M287.4 725.2h.9M283.5 720.4h.9M289.4 725.3h.9M284.8 729.5h.9M284.7 722.6h.9M287.8 725.2h.9M286.5 722.1h.9M290.3 730.0h.9M283.6 727.4h.9M289.4 726.1h.9M285.9 724.8h.9M287.1 729.6h.9M283.3 729.0h.9M347.9 774.3h.9M352.8 779.4h.9M355.3 774.6h.9M355.7 773.6h.9" stroke="#e84020" stroke-width="0.9" fill="none"/>
<line x1="324.8" y1="677.8" x2="324.8" y2="805.2" stroke="#333" stroke-width="0.8"/>
<line x1="252.8" y1="751" x2="387.6" y2="751" stroke="#333" stroke-width="0.8"/>
<text x="263.8" y="693.8" font-size="6.1" fill="#222" stroke="#222" stroke-width="0.14">CD8+T</text>
<text x="263.8" y="701.3" font-size="6.1" fill="#222" stroke="#222" stroke-width="0.14">41.65%</text>
<text x="383.1" y="693.8" font-size="6.1" fill="#222" text-anchor="end" stroke="#222" stroke-width="0.14">Q13-2</text>
<text x="383.1" y="701.3" font-size="6.1" fill="#222" text-anchor="end" stroke="#222" stroke-width="0.14">2.61%</text>
<text x="255.8" y="794.8" font-size="6.1" fill="#222" stroke="#222" stroke-width="0.14">Q13-3</text>
<text x="255.8" y="802.3" font-size="6.1" fill="#222" stroke="#222" stroke-width="0.14">8.14%</text>
<text x="383.1" y="794.8" font-size="6.1" fill="#222" text-anchor="end" stroke="#222" stroke-width="0.14">CD4+T</text>
<text x="383.1" y="802.3" font-size="6.1" fill="#222" text-anchor="end" stroke="#222" stroke-width="0.14">47.60%</text>
<text x="86.6" y="684" font-size="6.3" fill="#222" text-anchor="middle" transform="rotate(-90 86.6 684)">10<tspan font-size="4.2" dy="-2.6">5.1</tspan></text>
<text x="86.6" y="720.8" font-size="6.3" fill="#222" text-anchor="middle" transform="rotate(-90 86.6 720.8)">10<tspan font-size="4.2" dy="-2.6">4</tspan></text>
<text x="86.6" y="759.2" font-size="6.3" fill="#222" text-anchor="middle" transform="rotate(-90 86.6 759.2)">10<tspan font-size="4.2" dy="-2.6">3</tspan></text>
<text x="86.6" y="783.6" font-size="6.3" fill="#222" text-anchor="middle" transform="rotate(-90 86.6 783.6)">0<tspan font-size="4.2" dy="-2.6"></tspan></text>
<text x="86.6" y="800" font-size="6.3" fill="#222" text-anchor="middle" transform="rotate(-90 86.6 800)">−10<tspan font-size="4.2" dy="-2.6">2.9</tspan></text>
<text x="97.2" y="816.6" font-size="6.3" fill="#222" text-anchor="middle">−10<tspan font-size="4.2" dy="-2.6">3.4</tspan></text>
<text x="119.6" y="816.6" font-size="6.3" fill="#222" text-anchor="middle">0<tspan font-size="4.2" dy="-2.6"></tspan></text>
<text x="132" y="816.6" font-size="6.3" fill="#222" text-anchor="middle">10<tspan font-size="4.2" dy="-2.6">3</tspan></text>
<text x="171.2" y="816.6" font-size="6.3" fill="#222" text-anchor="middle">10<tspan font-size="4.2" dy="-2.6">4</tspan></text>
<text x="204" y="816.6" font-size="6.3" fill="#222" text-anchor="middle">10<tspan font-size="4.2" dy="-2.6">5</tspan></text>
<text x="218.8" y="816.6" font-size="6.3" fill="#222" text-anchor="middle">10<tspan font-size="4.2" dy="-2.6">5.8</tspan></text>
<text x="247.6" y="684" font-size="6.3" fill="#222" text-anchor="middle" transform="rotate(-90 247.6 684)">10<tspan font-size="4.2" dy="-2.6">5.5</tspan></text>
<text x="247.6" y="720.8" font-size="6.3" fill="#222" text-anchor="middle" transform="rotate(-90 247.6 720.8)">10<tspan font-size="4.2" dy="-2.6">4</tspan></text>
<text x="247.6" y="759.2" font-size="6.3" fill="#222" text-anchor="middle" transform="rotate(-90 247.6 759.2)">10<tspan font-size="4.2" dy="-2.6">3</tspan></text>
<text x="247.6" y="783.6" font-size="6.3" fill="#222" text-anchor="middle" transform="rotate(-90 247.6 783.6)">0<tspan font-size="4.2" dy="-2.6"></tspan></text>
<text x="247.6" y="800" font-size="6.3" fill="#222" text-anchor="middle" transform="rotate(-90 247.6 800)">−10<tspan font-size="4.2" dy="-2.6">2.9</tspan></text>
<text x="258.5" y="815.4" font-size="6.3" fill="#222" text-anchor="middle">−10<tspan font-size="4.2" dy="-2.6">3.4</tspan></text>
<text x="281.6" y="815.4" font-size="6.3" fill="#222" text-anchor="middle">0<tspan font-size="4.2" dy="-2.6"></tspan></text>
<text x="293.3" y="815.4" font-size="6.3" fill="#222" text-anchor="middle">10<tspan font-size="4.2" dy="-2.6">3</tspan></text>
<text x="336.2" y="815.4" font-size="6.3" fill="#222" text-anchor="middle">10<tspan font-size="4.2" dy="-2.6">4</tspan></text>
<text x="371.4" y="815.4" font-size="6.3" fill="#222" text-anchor="middle">10<tspan font-size="4.2" dy="-2.6">5</tspan></text>
<text x="386.3" y="815.4" font-size="6.3" fill="#222" text-anchor="middle">10<tspan font-size="4.2" dy="-2.6">5</tspan></text>
<line x1="97.2" y1="805.7" x2="97.2" y2="807.5" stroke="#555" stroke-width="0.6"/>
<line x1="119.6" y1="805.7" x2="119.6" y2="807.5" stroke="#555" stroke-width="0.6"/>
<line x1="132" y1="805.7" x2="132" y2="807.5" stroke="#555" stroke-width="0.6"/>
<line x1="171.2" y1="805.7" x2="171.2" y2="807.5" stroke="#555" stroke-width="0.6"/>
<line x1="204" y1="805.7" x2="204" y2="807.5" stroke="#555" stroke-width="0.6"/>
<line x1="218.8" y1="805.7" x2="218.8" y2="807.5" stroke="#555" stroke-width="0.6"/>
<line x1="90.5" y1="692" x2="92.3" y2="692" stroke="#555" stroke-width="0.6"/>
<line x1="90.5" y1="720.8" x2="92.3" y2="720.8" stroke="#555" stroke-width="0.6"/>
<line x1="90.5" y1="759.2" x2="92.3" y2="759.2" stroke="#555" stroke-width="0.6"/>
<line x1="90.5" y1="783.6" x2="92.3" y2="783.6" stroke="#555" stroke-width="0.6"/>
<line x1="90.5" y1="800" x2="92.3" y2="800" stroke="#555" stroke-width="0.6"/>
<line x1="258.5" y1="805.2" x2="258.5" y2="807" stroke="#555" stroke-width="0.6"/>
<line x1="281.6" y1="805.2" x2="281.6" y2="807" stroke="#555" stroke-width="0.6"/>
<line x1="293.3" y1="805.2" x2="293.3" y2="807" stroke="#555" stroke-width="0.6"/>
<line x1="336.2" y1="805.2" x2="336.2" y2="807" stroke="#555" stroke-width="0.6"/>
<line x1="371.4" y1="805.2" x2="371.4" y2="807" stroke="#555" stroke-width="0.6"/>
<line x1="386.3" y1="805.2" x2="386.3" y2="807" stroke="#555" stroke-width="0.6"/>
<line x1="251" y1="692" x2="252.8" y2="692" stroke="#555" stroke-width="0.6"/>
<line x1="251" y1="720.8" x2="252.8" y2="720.8" stroke="#555" stroke-width="0.6"/>
<line x1="251" y1="759.2" x2="252.8" y2="759.2" stroke="#555" stroke-width="0.6"/>
<line x1="251" y1="783.6" x2="252.8" y2="783.6" stroke="#555" stroke-width="0.6"/>
<line x1="251" y1="800" x2="252.8" y2="800" stroke="#555" stroke-width="0.6"/>
<line x1="70.4" y1="826.3" x2="70.4" y2="695" stroke="#111" stroke-width="1.3"/>
<polygon points="70.4,688.3 66.3,697.3 74.5,697.3" fill="#111"/>
<line x1="70.4" y1="826.3" x2="204" y2="826.3" stroke="#111" stroke-width="1.3"/>
<polygon points="212,826.3 203.2,822.2 203.2,830.4" fill="#111"/>
<text x="79.8" y="784" font-size="10" font-weight="bold" fill="#111" text-anchor="middle" transform="rotate(-90 79.8 784)">CD8</text>
<text x="105.9" y="826.8" font-size="10" font-weight="bold" fill="#111" text-anchor="middle">CD4</text>
</svg>
</body></html>
